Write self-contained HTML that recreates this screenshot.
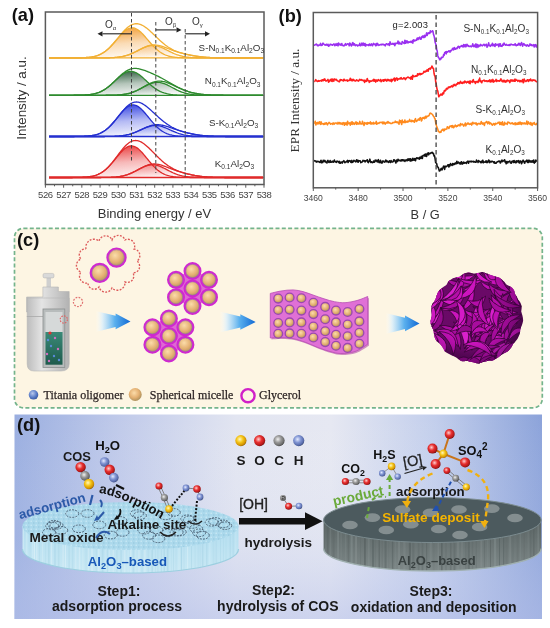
<!DOCTYPE html>
<html><head><meta charset="utf-8"><style>
html,body{margin:0;padding:0;background:#fff;}
body{width:550px;height:628px;position:relative;overflow:hidden;font-family:"Liberation Sans",sans-serif;}
</style></head><body>
<svg width="550" height="628" viewBox="0 0 550 628" style="position:absolute;left:0;top:0;filter:blur(0.3px)">
<defs>
<linearGradient id="fa0" x1="0.3" y1="0" x2="0.6" y2="1"><stop offset="0" stop-color="#f29a2e" stop-opacity="0.95"/><stop offset="0.5" stop-color="#f29a2e" stop-opacity="0.35"/><stop offset="1" stop-color="#f29a2e" stop-opacity="0.02"/></linearGradient>
<linearGradient id="fb0" x1="0.3" y1="0" x2="0.6" y2="1"><stop offset="0" stop-color="#f29a2e" stop-opacity="0.4"/><stop offset="1" stop-color="#f29a2e" stop-opacity="0"/></linearGradient>
<linearGradient id="fa1" x1="0.3" y1="0" x2="0.6" y2="1"><stop offset="0" stop-color="#2a5a3a" stop-opacity="0.95"/><stop offset="0.5" stop-color="#2a5a3a" stop-opacity="0.35"/><stop offset="1" stop-color="#2a5a3a" stop-opacity="0.02"/></linearGradient>
<linearGradient id="fb1" x1="0.3" y1="0" x2="0.6" y2="1"><stop offset="0" stop-color="#2a5a3a" stop-opacity="0.4"/><stop offset="1" stop-color="#2a5a3a" stop-opacity="0"/></linearGradient>
<linearGradient id="fa2" x1="0.3" y1="0" x2="0.6" y2="1"><stop offset="0" stop-color="#2a3ae0" stop-opacity="0.95"/><stop offset="0.5" stop-color="#2a3ae0" stop-opacity="0.35"/><stop offset="1" stop-color="#2a3ae0" stop-opacity="0.02"/></linearGradient>
<linearGradient id="fb2" x1="0.3" y1="0" x2="0.6" y2="1"><stop offset="0" stop-color="#2a3ae0" stop-opacity="0.4"/><stop offset="1" stop-color="#2a3ae0" stop-opacity="0"/></linearGradient>
<linearGradient id="fa3" x1="0.3" y1="0" x2="0.6" y2="1"><stop offset="0" stop-color="#e83535" stop-opacity="0.95"/><stop offset="0.5" stop-color="#e83535" stop-opacity="0.35"/><stop offset="1" stop-color="#e83535" stop-opacity="0.02"/></linearGradient>
<linearGradient id="fb3" x1="0.3" y1="0" x2="0.6" y2="1"><stop offset="0" stop-color="#e83535" stop-opacity="0.4"/><stop offset="1" stop-color="#e83535" stop-opacity="0"/></linearGradient>
</defs>
<path d="M81.83,57.75 L82.74,57.71 L83.66,57.68 L84.57,57.63 L85.48,57.58 L86.39,57.52 L87.30,57.44 L88.21,57.36 L89.12,57.26 L90.03,57.15 L90.94,57.02 L91.85,56.88 L92.76,56.71 L93.67,56.52 L94.59,56.30 L95.50,56.06 L96.41,55.79 L97.32,55.49 L98.23,55.15 L99.14,54.78 L100.05,54.37 L100.96,53.92 L101.87,53.43 L102.78,52.89 L103.69,52.31 L104.60,51.69 L105.51,51.01 L106.43,50.30 L107.34,49.53 L108.25,48.72 L109.16,47.87 L110.07,46.97 L110.98,46.04 L111.89,45.07 L112.80,44.07 L113.71,43.04 L114.62,41.99 L115.53,40.93 L116.44,39.86 L117.36,38.78 L118.27,37.72 L119.18,36.66 L120.09,35.63 L121.00,34.63 L121.91,33.67 L122.82,32.76 L123.73,31.90 L124.64,31.11 L125.55,30.38 L126.46,29.74 L127.38,29.18 L128.29,28.70 L129.20,28.33 L130.11,28.05 L131.02,27.87 L131.93,27.80 L132.84,27.83 L133.75,27.97 L134.66,28.21 L135.57,28.54 L136.48,28.98 L137.39,29.50 L138.31,30.11 L139.22,30.81 L140.13,31.57 L141.04,32.41 L141.95,33.30 L142.86,34.24 L143.77,35.23 L144.68,36.25 L145.59,37.29 L146.50,38.36 L147.41,39.43 L148.32,40.50 L149.24,41.57 L150.15,42.62 L151.06,43.66 L151.97,44.67 L152.88,45.65 L153.79,46.60 L154.70,47.51 L155.61,48.38 L156.52,49.21 L157.43,50.00 L158.34,50.73 L159.25,51.42 L160.16,52.07 L161.08,52.67 L161.99,53.22 L162.90,53.73 L163.81,54.20 L164.72,54.62 L165.63,55.01 L166.54,55.36 L167.45,55.67 L168.36,55.96 L169.27,56.21 L170.18,56.44 L171.09,56.63 L172.01,56.81 L172.92,56.97 L173.83,57.10 L174.74,57.22 L175.65,57.32 L176.56,57.41 L177.47,57.49 L178.38,57.55 L179.29,57.61 L180.20,57.66 L181.11,57.70 L182.03,57.73 L182.94,57.76 L183.85,57.79 L184.76,57.81 L185.67,57.82 L186.58,57.84 L187.49,57.85 L188.40,57.86 L189.31,57.87 L190.22,57.87 L191.13,57.88 L191.13,57.9 L81.83,57.9 Z" fill="url(#fa0)"/>
<path d="M114.62,57.50 L115.48,57.44 L116.34,57.37 L117.19,57.28 L118.05,57.19 L118.90,57.08 L119.76,56.96 L120.62,56.83 L121.47,56.68 L122.33,56.52 L123.19,56.34 L124.04,56.15 L124.90,55.94 L125.75,55.71 L126.61,55.46 L127.47,55.19 L128.32,54.90 L129.18,54.60 L130.03,54.27 L130.89,53.93 L131.75,53.57 L132.60,53.19 L133.46,52.80 L134.32,52.39 L135.17,51.97 L136.03,51.55 L136.88,51.11 L137.74,50.67 L138.60,50.23 L139.45,49.79 L140.31,49.35 L141.17,48.92 L142.02,48.50 L142.88,48.10 L143.73,47.72 L144.59,47.35 L145.45,47.01 L146.30,46.70 L147.16,46.42 L148.01,46.17 L148.87,45.96 L149.73,45.79 L150.58,45.65 L151.44,45.56 L152.30,45.51 L153.15,45.50 L154.01,45.54 L154.86,45.61 L155.72,45.73 L156.58,45.89 L157.43,46.09 L158.29,46.33 L159.14,46.59 L160.00,46.90 L160.86,47.23 L161.71,47.58 L162.57,47.96 L163.43,48.36 L164.28,48.77 L165.14,49.20 L165.99,49.63 L166.85,50.07 L167.71,50.51 L168.56,50.95 L169.42,51.39 L170.28,51.82 L171.13,52.24 L171.99,52.65 L172.84,53.05 L173.70,53.43 L174.56,53.80 L175.41,54.15 L176.27,54.48 L177.12,54.79 L177.98,55.09 L178.84,55.36 L179.69,55.62 L180.55,55.86 L181.41,56.07 L182.26,56.28 L183.12,56.46 L183.97,56.63 L184.83,56.78 L185.69,56.92 L186.54,57.04 L187.40,57.15 L188.26,57.25 L189.11,57.34 L189.97,57.41 L190.82,57.48 L191.68,57.54 L192.54,57.59 L193.39,57.64 L194.25,57.68 L195.10,57.71 L195.96,57.74 L196.82,57.77 L197.67,57.79 L198.53,57.81 L199.39,57.82 L200.24,57.84 L200.24,57.9 L114.62,57.9 Z" fill="url(#fb0)"/>
<path d="M49.04,57.90 L49.94,57.90 L50.83,57.90 L51.72,57.90 L52.61,57.90 L53.50,57.90 L54.39,57.90 L55.29,57.90 L56.18,57.90 L57.07,57.90 L57.96,57.90 L58.85,57.90 L59.75,57.90 L60.64,57.90 L61.53,57.90 L62.42,57.90 L63.31,57.90 L64.20,57.90 L65.10,57.90 L65.99,57.90 L66.88,57.90 L67.77,57.89 L68.66,57.89 L69.56,57.89 L70.45,57.89 L71.34,57.89 L72.23,57.88 L73.12,57.88 L74.02,57.87 L74.91,57.87 L75.80,57.86 L76.69,57.85 L77.58,57.84 L78.47,57.83 L79.37,57.81 L80.26,57.79 L81.15,57.77 L82.04,57.74 L82.93,57.71 L83.83,57.68 L84.72,57.63 L85.61,57.58 L86.50,57.52 L87.39,57.45 L88.29,57.37 L89.18,57.28 L90.07,57.17 L90.96,57.05 L91.85,56.91 L92.74,56.75 L93.64,56.58 L94.53,56.37 L95.42,56.15 L96.31,55.89 L97.20,55.61 L98.10,55.30 L98.99,54.95 L99.88,54.57 L100.77,54.15 L101.66,53.69 L102.55,53.19 L103.45,52.64 L104.34,52.06 L105.23,51.43 L106.12,50.75 L107.01,50.03 L107.91,49.26 L108.80,48.45 L109.69,47.60 L110.58,46.71 L111.47,45.77 L112.37,44.81 L113.26,43.80 L114.15,42.77 L115.04,41.72 L115.93,40.64 L116.82,39.55 L117.72,38.45 L118.61,37.35 L119.50,36.25 L120.39,35.16 L121.28,34.08 L122.18,33.03 L123.07,32.01 L123.96,31.02 L124.85,30.07 L125.74,29.18 L126.63,28.33 L127.53,27.55 L128.42,26.83 L129.31,26.17 L130.20,25.59 L131.09,25.09 L131.99,24.66 L132.88,24.31 L133.77,24.03 L134.66,23.84 L135.55,23.73 L136.45,23.70 L137.34,23.75 L138.23,23.87 L139.12,24.06 L140.01,24.33 L140.90,24.66 L141.80,25.06 L142.69,25.52 L143.58,26.03 L144.47,26.59 L145.36,27.21 L146.26,27.86 L147.15,28.56 L148.04,29.29 L148.93,30.05 L149.82,30.84 L150.72,31.65 L151.61,32.48 L152.50,33.33 L153.39,34.18 L154.28,35.04 L155.17,35.90 L156.07,36.77 L156.96,37.63 L157.85,38.48 L158.74,39.32 L159.63,40.15 L160.53,40.97 L161.42,41.76 L162.31,42.54 L163.20,43.30 L164.09,44.03 L164.98,44.74 L165.88,45.42 L166.77,46.07 L167.66,46.70 L168.55,47.30 L169.44,47.87 L170.34,48.41 L171.23,48.92 L172.12,49.41 L173.01,49.87 L173.90,50.30 L174.80,50.71 L175.69,51.09 L176.58,51.45 L177.47,51.79 L178.36,52.12 L179.25,52.42 L180.15,52.71 L181.04,52.98 L181.93,53.23 L182.82,53.48 L183.71,53.71 L184.61,53.93 L185.50,54.15 L186.39,54.35 L187.28,54.55 L188.17,54.74 L189.06,54.92 L189.96,55.10 L190.85,55.27 L191.74,55.43 L192.63,55.59 L193.52,55.74 L194.42,55.89 L195.31,56.03 L196.20,56.17 L197.09,56.30 L197.98,56.43 L198.88,56.55 L199.77,56.66 L200.66,56.77 L201.55,56.87 L202.44,56.96 L203.33,57.05 L204.23,57.13 L205.12,57.21 L206.01,57.28 L206.90,57.35 L207.79,57.41 L208.69,57.46 L209.58,57.52 L210.47,57.56 L211.36,57.60 L212.25,57.64 L213.15,57.67 L214.04,57.70 L214.93,57.73 L215.82,57.75 L216.71,57.77 L217.60,57.79 L218.50,57.81 L219.39,57.82 L220.28,57.83 L221.17,57.84 L222.06,57.85 L222.96,57.86 L223.85,57.87 L224.74,57.87 L225.63,57.88 L226.52,57.88 L227.41,57.88 L228.31,57.89 L229.20,57.89 L230.09,57.89 L230.98,57.89 L231.87,57.89 L232.77,57.90 L233.66,57.90 L234.55,57.90 L235.44,57.90 L236.33,57.90 L237.23,57.90 L238.12,57.90 L239.01,57.90 L239.90,57.90 L240.79,57.90 L241.68,57.90 L242.58,57.90 L243.47,57.90 L244.36,57.90 L245.25,57.90 L246.14,57.90 L247.04,57.90 L247.93,57.90 L248.82,57.90 L249.71,57.90 L250.60,57.90 L251.50,57.90 L252.39,57.90 L253.28,57.90 L254.17,57.90 L255.06,57.90 L255.95,57.90 L256.85,57.90 L257.74,57.90 L258.63,57.90 L259.52,57.90 L260.41,57.90 L261.31,57.90 L262.20,57.90 L263.09,57.90" fill="none" stroke="#f2b035" stroke-width="1.3"/>
<path d="M49.04,57.90 L49.94,57.90 L50.83,57.90 L51.72,57.90 L52.61,57.90 L53.50,57.90 L54.39,57.90 L55.29,57.90 L56.18,57.90 L57.07,57.90 L57.96,57.90 L58.85,57.90 L59.75,57.90 L60.64,57.90 L61.53,57.90 L62.42,57.90 L63.31,57.90 L64.20,57.90 L65.10,57.90 L65.99,57.90 L66.88,57.90 L67.77,57.89 L68.66,57.89 L69.56,57.89 L70.45,57.89 L71.34,57.89 L72.23,57.88 L73.12,57.88 L74.02,57.87 L74.91,57.87 L75.80,57.86 L76.69,57.85 L77.58,57.84 L78.47,57.83 L79.37,57.81 L80.26,57.79 L81.15,57.77 L82.04,57.74 L82.93,57.71 L83.83,57.67 L84.72,57.62 L85.61,57.57 L86.50,57.51 L87.39,57.44 L88.29,57.35 L89.18,57.26 L90.07,57.15 L90.96,57.02 L91.85,56.88 L92.74,56.71 L93.64,56.53 L94.53,56.32 L95.42,56.08 L96.31,55.82 L97.20,55.53 L98.10,55.20 L98.99,54.85 L99.88,54.45 L100.77,54.02 L101.66,53.55 L102.55,53.03 L103.45,52.48 L104.34,51.87 L105.23,51.23 L106.12,50.54 L107.01,49.81 L107.91,49.03 L108.80,48.21 L109.69,47.35 L110.58,46.45 L111.47,45.52 L112.37,44.55 L113.26,43.56 L114.15,42.54 L115.04,41.51 L115.93,40.46 L116.82,39.41 L117.72,38.36 L118.61,37.32 L119.50,36.30 L120.39,35.30 L121.28,34.33 L122.18,33.40 L123.07,32.52 L123.96,31.70 L124.85,30.93 L125.74,30.24 L126.63,29.62 L127.53,29.09 L128.42,28.64 L129.31,28.29 L130.20,28.03 L131.09,27.86 L131.99,27.80 L132.88,27.84 L133.77,27.97 L134.66,28.21 L135.55,28.53 L136.45,28.96 L137.34,29.47 L138.23,30.06 L139.12,30.73 L140.01,31.47 L140.90,32.28 L141.80,33.15 L142.69,34.06 L143.58,35.02 L144.47,36.01 L145.36,37.03 L146.26,38.07 L147.15,39.12 L148.04,40.17 L148.93,41.21 L149.82,42.25 L150.72,43.27 L151.61,44.28 L152.50,45.25 L153.39,46.19 L154.28,47.10 L155.17,47.97 L156.07,48.80 L156.96,49.59 L157.85,50.34 L158.74,51.04 L159.63,51.70 L160.53,52.31 L161.42,52.88 L162.31,53.41 L163.20,53.89 L164.09,54.33 L164.98,54.74 L165.88,55.11 L166.77,55.44 L167.66,55.74 L168.55,56.01 L169.44,56.25 L170.34,56.47 L171.23,56.66 L172.12,56.83 L173.01,56.98 L173.90,57.11 L174.80,57.23 L175.69,57.33 L176.58,57.41 L177.47,57.49 L178.36,57.55 L179.25,57.61 L180.15,57.66 L181.04,57.70 L181.93,57.73 L182.82,57.76 L183.71,57.78 L184.61,57.80 L185.50,57.82 L186.39,57.84 L187.28,57.85 L188.17,57.86 L189.06,57.87 L189.96,57.87 L190.85,57.88 L191.74,57.88 L192.63,57.89 L193.52,57.89 L194.42,57.89 L195.31,57.89 L196.20,57.89 L197.09,57.90 L197.98,57.90 L198.88,57.90 L199.77,57.90 L200.66,57.90 L201.55,57.90 L202.44,57.90 L203.33,57.90 L204.23,57.90 L205.12,57.90 L206.01,57.90 L206.90,57.90 L207.79,57.90 L208.69,57.90 L209.58,57.90 L210.47,57.90 L211.36,57.90 L212.25,57.90 L213.15,57.90 L214.04,57.90 L214.93,57.90 L215.82,57.90 L216.71,57.90 L217.60,57.90 L218.50,57.90 L219.39,57.90 L220.28,57.90 L221.17,57.90 L222.06,57.90 L222.96,57.90 L223.85,57.90 L224.74,57.90 L225.63,57.90 L226.52,57.90 L227.41,57.90 L228.31,57.90 L229.20,57.90 L230.09,57.90 L230.98,57.90 L231.87,57.90 L232.77,57.90 L233.66,57.90 L234.55,57.90 L235.44,57.90 L236.33,57.90 L237.23,57.90 L238.12,57.90 L239.01,57.90 L239.90,57.90 L240.79,57.90 L241.68,57.90 L242.58,57.90 L243.47,57.90 L244.36,57.90 L245.25,57.90 L246.14,57.90 L247.04,57.90 L247.93,57.90 L248.82,57.90 L249.71,57.90 L250.60,57.90 L251.50,57.90 L252.39,57.90 L253.28,57.90 L254.17,57.90 L255.06,57.90 L255.95,57.90 L256.85,57.90 L257.74,57.90 L258.63,57.90 L259.52,57.90 L260.41,57.90 L261.31,57.90 L262.20,57.90 L263.09,57.90" fill="none" stroke="#f2b035" stroke-width="1.3"/>
<path d="M49.04,57.90 L49.94,57.90 L50.83,57.90 L51.72,57.90 L52.61,57.90 L53.50,57.90 L54.39,57.90 L55.29,57.90 L56.18,57.90 L57.07,57.90 L57.96,57.90 L58.85,57.90 L59.75,57.90 L60.64,57.90 L61.53,57.90 L62.42,57.90 L63.31,57.90 L64.20,57.90 L65.10,57.90 L65.99,57.90 L66.88,57.90 L67.77,57.90 L68.66,57.90 L69.56,57.90 L70.45,57.90 L71.34,57.90 L72.23,57.90 L73.12,57.90 L74.02,57.90 L74.91,57.90 L75.80,57.90 L76.69,57.90 L77.58,57.90 L78.47,57.90 L79.37,57.90 L80.26,57.90 L81.15,57.90 L82.04,57.90 L82.93,57.90 L83.83,57.90 L84.72,57.90 L85.61,57.90 L86.50,57.90 L87.39,57.90 L88.29,57.90 L89.18,57.90 L90.07,57.90 L90.96,57.90 L91.85,57.90 L92.74,57.90 L93.64,57.90 L94.53,57.90 L95.42,57.89 L96.31,57.89 L97.20,57.89 L98.10,57.89 L98.99,57.89 L99.88,57.88 L100.77,57.88 L101.66,57.87 L102.55,57.87 L103.45,57.86 L104.34,57.85 L105.23,57.84 L106.12,57.83 L107.01,57.81 L107.91,57.79 L108.80,57.77 L109.69,57.75 L110.58,57.72 L111.47,57.68 L112.37,57.64 L113.26,57.59 L114.15,57.54 L115.04,57.47 L115.93,57.40 L116.82,57.32 L117.72,57.22 L118.61,57.12 L119.50,57.00 L120.39,56.87 L121.28,56.72 L122.18,56.55 L123.07,56.37 L123.96,56.17 L124.85,55.95 L125.74,55.71 L126.63,55.45 L127.53,55.17 L128.42,54.87 L129.31,54.55 L130.20,54.20 L131.09,53.84 L131.99,53.46 L132.88,53.06 L133.77,52.65 L134.66,52.22 L135.55,51.78 L136.45,51.33 L137.34,50.88 L138.23,50.42 L139.12,49.96 L140.01,49.50 L140.90,49.05 L141.80,48.61 L142.69,48.19 L143.58,47.78 L144.47,47.40 L145.36,47.04 L146.26,46.72 L147.15,46.42 L148.04,46.17 L148.93,45.95 L149.82,45.77 L150.72,45.64 L151.61,45.55 L152.50,45.50 L153.39,45.51 L154.28,45.56 L155.17,45.65 L156.07,45.79 L156.96,45.98 L157.85,46.20 L158.74,46.46 L159.63,46.76 L160.53,47.09 L161.42,47.46 L162.31,47.84 L163.20,48.25 L164.09,48.68 L164.98,49.12 L165.88,49.57 L166.77,50.03 L167.66,50.49 L168.55,50.95 L169.44,51.40 L170.34,51.85 L171.23,52.29 L172.12,52.71 L173.01,53.12 L173.90,53.52 L174.80,53.90 L175.69,54.26 L176.58,54.60 L177.47,54.91 L178.36,55.21 L179.25,55.49 L180.15,55.75 L181.04,55.98 L181.93,56.20 L182.82,56.40 L183.71,56.58 L184.61,56.74 L185.50,56.89 L186.39,57.02 L187.28,57.14 L188.17,57.24 L189.06,57.33 L189.96,57.41 L190.85,57.48 L191.74,57.55 L192.63,57.60 L193.52,57.65 L194.42,57.69 L195.31,57.72 L196.20,57.75 L197.09,57.78 L197.98,57.80 L198.88,57.81 L199.77,57.83 L200.66,57.84 L201.55,57.85 L202.44,57.86 L203.33,57.87 L204.23,57.88 L205.12,57.88 L206.01,57.88 L206.90,57.89 L207.79,57.89 L208.69,57.89 L209.58,57.89 L210.47,57.89 L211.36,57.90 L212.25,57.90 L213.15,57.90 L214.04,57.90 L214.93,57.90 L215.82,57.90 L216.71,57.90 L217.60,57.90 L218.50,57.90 L219.39,57.90 L220.28,57.90 L221.17,57.90 L222.06,57.90 L222.96,57.90 L223.85,57.90 L224.74,57.90 L225.63,57.90 L226.52,57.90 L227.41,57.90 L228.31,57.90 L229.20,57.90 L230.09,57.90 L230.98,57.90 L231.87,57.90 L232.77,57.90 L233.66,57.90 L234.55,57.90 L235.44,57.90 L236.33,57.90 L237.23,57.90 L238.12,57.90 L239.01,57.90 L239.90,57.90 L240.79,57.90 L241.68,57.90 L242.58,57.90 L243.47,57.90 L244.36,57.90 L245.25,57.90 L246.14,57.90 L247.04,57.90 L247.93,57.90 L248.82,57.90 L249.71,57.90 L250.60,57.90 L251.50,57.90 L252.39,57.90 L253.28,57.90 L254.17,57.90 L255.06,57.90 L255.95,57.90 L256.85,57.90 L257.74,57.90 L258.63,57.90 L259.52,57.90 L260.41,57.90 L261.31,57.90 L262.20,57.90 L263.09,57.90" fill="none" stroke="#f2b035" stroke-width="1.3"/>
<path d="M49.04,57.90 L49.94,57.90 L50.83,57.90 L51.72,57.90 L52.61,57.90 L53.50,57.90 L54.39,57.90 L55.29,57.90 L56.18,57.90 L57.07,57.90 L57.96,57.90 L58.85,57.90 L59.75,57.90 L60.64,57.90 L61.53,57.90 L62.42,57.90 L63.31,57.90 L64.20,57.90 L65.10,57.90 L65.99,57.90 L66.88,57.90 L67.77,57.90 L68.66,57.90 L69.56,57.90 L70.45,57.90 L71.34,57.90 L72.23,57.90 L73.12,57.90 L74.02,57.90 L74.91,57.90 L75.80,57.90 L76.69,57.90 L77.58,57.90 L78.47,57.90 L79.37,57.90 L80.26,57.90 L81.15,57.90 L82.04,57.90 L82.93,57.90 L83.83,57.90 L84.72,57.90 L85.61,57.90 L86.50,57.90 L87.39,57.90 L88.29,57.90 L89.18,57.90 L90.07,57.90 L90.96,57.90 L91.85,57.90 L92.74,57.90 L93.64,57.90 L94.53,57.90 L95.42,57.89 L96.31,57.89 L97.20,57.89 L98.10,57.89 L98.99,57.89 L99.88,57.88 L100.77,57.88 L101.66,57.87 L102.55,57.87 L103.45,57.86 L104.34,57.85 L105.23,57.84 L106.12,57.83 L107.01,57.81 L107.91,57.79 L108.80,57.77 L109.69,57.75 L110.58,57.72 L111.47,57.68 L112.37,57.64 L113.26,57.59 L114.15,57.54 L115.04,57.47 L115.93,57.40 L116.82,57.32 L117.72,57.22 L118.61,57.12 L119.50,57.00 L120.39,56.87 L121.28,56.72 L122.18,56.55 L123.07,56.37 L123.96,56.17 L124.85,55.95 L125.74,55.71 L126.63,55.45 L127.53,55.16 L128.42,54.86 L129.31,54.54 L130.20,54.20 L131.09,53.83 L131.99,53.45 L132.88,53.05 L133.77,52.63 L134.66,52.20 L135.55,51.76 L136.45,51.30 L137.34,50.84 L138.23,50.37 L139.12,49.90 L140.01,49.43 L140.90,48.97 L141.80,48.52 L142.69,48.08 L143.58,47.66 L144.47,47.25 L145.36,46.87 L146.26,46.52 L147.15,46.19 L148.04,45.90 L148.93,45.65 L149.82,45.43 L150.72,45.25 L151.61,45.11 L152.50,45.01 L153.39,44.96 L154.28,44.94 L155.17,44.97 L156.07,45.03 L156.96,45.14 L157.85,45.28 L158.74,45.45 L159.63,45.66 L160.53,45.89 L161.42,46.15 L162.31,46.43 L163.20,46.73 L164.09,47.05 L164.98,47.38 L165.88,47.72 L166.77,48.07 L167.66,48.42 L168.55,48.77 L169.44,49.12 L170.34,49.46 L171.23,49.81 L172.12,50.14 L173.01,50.47 L173.90,50.79 L174.80,51.10 L175.69,51.40 L176.58,51.69 L177.47,51.97 L178.36,52.24 L179.25,52.50 L180.15,52.75 L181.04,52.99 L181.93,53.22 L182.82,53.45 L183.71,53.66 L184.61,53.87 L185.50,54.08 L186.39,54.28 L187.28,54.47 L188.17,54.66 L189.06,54.84 L189.96,55.01 L190.85,55.19 L191.74,55.35 L192.63,55.51 L193.52,55.67 L194.42,55.82 L195.31,55.97 L196.20,56.11 L197.09,56.24 L197.98,56.37 L198.88,56.49 L199.77,56.61 L200.66,56.72 L201.55,56.83 L202.44,56.93 L203.33,57.02 L204.23,57.10 L205.12,57.18 L206.01,57.26 L206.90,57.33 L207.79,57.39 L208.69,57.45 L209.58,57.50 L210.47,57.55 L211.36,57.59 L212.25,57.63 L213.15,57.66 L214.04,57.70 L214.93,57.72 L215.82,57.75 L216.71,57.77 L217.60,57.79 L218.50,57.80 L219.39,57.82 L220.28,57.83 L221.17,57.84 L222.06,57.85 L222.96,57.86 L223.85,57.87 L224.74,57.87 L225.63,57.88 L226.52,57.88 L227.41,57.88 L228.31,57.89 L229.20,57.89 L230.09,57.89 L230.98,57.89 L231.87,57.89 L232.77,57.90 L233.66,57.90 L234.55,57.90 L235.44,57.90 L236.33,57.90 L237.23,57.90 L238.12,57.90 L239.01,57.90 L239.90,57.90 L240.79,57.90 L241.68,57.90 L242.58,57.90 L243.47,57.90 L244.36,57.90 L245.25,57.90 L246.14,57.90 L247.04,57.90 L247.93,57.90 L248.82,57.90 L249.71,57.90 L250.60,57.90 L251.50,57.90 L252.39,57.90 L253.28,57.90 L254.17,57.90 L255.06,57.90 L255.95,57.90 L256.85,57.90 L257.74,57.90 L258.63,57.90 L259.52,57.90 L260.41,57.90 L261.31,57.90 L262.20,57.90 L263.09,57.90" fill="none" stroke="#f2b035" stroke-width="1.3"/>
<line x1="49.0" y1="57.9" x2="263.5" y2="57.9" stroke="#f2b035" stroke-width="1.3"/>
<path d="M81.83,95.13 L82.74,95.10 L83.66,95.06 L84.57,95.01 L85.48,94.96 L86.39,94.90 L87.30,94.82 L88.21,94.74 L89.12,94.64 L90.03,94.53 L90.94,94.40 L91.85,94.26 L92.76,94.10 L93.67,93.91 L94.59,93.71 L95.50,93.48 L96.41,93.22 L97.32,92.94 L98.23,92.62 L99.14,92.28 L100.05,91.90 L100.96,91.48 L101.87,91.04 L102.78,90.55 L103.69,90.03 L104.60,89.47 L105.51,88.88 L106.43,88.24 L107.34,87.58 L108.25,86.88 L109.16,86.14 L110.07,85.38 L110.98,84.59 L111.89,83.78 L112.80,82.95 L113.71,82.11 L114.62,81.26 L115.53,80.40 L116.44,79.55 L117.36,78.70 L118.27,77.87 L119.18,77.06 L120.09,76.28 L121.00,75.54 L121.91,74.84 L122.82,74.18 L123.73,73.58 L124.64,73.04 L125.55,72.57 L126.46,72.16 L127.38,71.83 L128.29,71.58 L129.20,71.41 L130.11,71.31 L131.02,71.31 L131.93,71.38 L132.84,71.54 L133.75,71.78 L134.66,72.09 L135.57,72.48 L136.48,72.94 L137.39,73.47 L138.31,74.06 L139.22,74.70 L140.13,75.40 L141.04,76.13 L141.95,76.91 L142.86,77.71 L143.77,78.53 L144.68,79.38 L145.59,80.23 L146.50,81.09 L147.41,81.94 L148.32,82.79 L149.24,83.62 L150.15,84.43 L151.06,85.23 L151.97,85.99 L152.88,86.73 L153.79,87.44 L154.70,88.11 L155.61,88.75 L156.52,89.35 L157.43,89.92 L158.34,90.45 L159.25,90.94 L160.16,91.40 L161.08,91.82 L161.99,92.20 L162.90,92.55 L163.81,92.88 L164.72,93.17 L165.63,93.43 L166.54,93.66 L167.45,93.87 L168.36,94.06 L169.27,94.23 L170.18,94.38 L171.09,94.51 L172.01,94.62 L172.92,94.72 L173.83,94.81 L174.74,94.88 L175.65,94.95 L176.56,95.00 L177.47,95.05 L178.38,95.09 L179.29,95.13 L180.20,95.16 L181.11,95.18 L182.03,95.20 L182.94,95.22 L183.85,95.23 L184.76,95.25 L185.67,95.26 L186.58,95.26 L187.49,95.27 L188.40,95.28 L189.31,95.28 L190.22,95.29 L191.13,95.29 L191.13,95.3 L81.83,95.3 Z" fill="url(#fa1)"/>
<path d="M114.62,95.13 L115.48,95.09 L116.34,95.06 L117.19,95.01 L118.05,94.96 L118.90,94.91 L119.76,94.84 L120.62,94.77 L121.47,94.68 L122.33,94.59 L123.19,94.48 L124.04,94.36 L124.90,94.22 L125.75,94.08 L126.61,93.91 L127.47,93.73 L128.32,93.53 L129.18,93.32 L130.03,93.08 L130.89,92.82 L131.75,92.55 L132.60,92.25 L133.46,91.94 L134.32,91.61 L135.17,91.25 L136.03,90.88 L136.88,90.49 L137.74,90.08 L138.60,89.66 L139.45,89.23 L140.31,88.78 L141.17,88.33 L142.02,87.87 L142.88,87.41 L143.73,86.94 L144.59,86.48 L145.45,86.03 L146.30,85.59 L147.16,85.16 L148.01,84.75 L148.87,84.36 L149.73,84.00 L150.58,83.66 L151.44,83.35 L152.30,83.08 L153.15,82.85 L154.01,82.65 L154.86,82.50 L155.72,82.39 L156.58,82.32 L157.43,82.30 L158.29,82.32 L159.14,82.39 L160.00,82.50 L160.86,82.65 L161.71,82.85 L162.57,83.08 L163.43,83.35 L164.28,83.66 L165.14,84.00 L165.99,84.36 L166.85,84.75 L167.71,85.16 L168.56,85.59 L169.42,86.03 L170.28,86.48 L171.13,86.94 L171.99,87.41 L172.84,87.87 L173.70,88.33 L174.56,88.78 L175.41,89.23 L176.27,89.66 L177.12,90.08 L177.98,90.49 L178.84,90.88 L179.69,91.25 L180.55,91.61 L181.41,91.94 L182.26,92.25 L183.12,92.55 L183.97,92.82 L184.83,93.08 L185.69,93.32 L186.54,93.53 L187.40,93.73 L188.26,93.91 L189.11,94.08 L189.97,94.22 L190.82,94.36 L191.68,94.48 L192.54,94.59 L193.39,94.68 L194.25,94.77 L195.10,94.84 L195.96,94.91 L196.82,94.96 L197.67,95.01 L198.53,95.06 L199.39,95.09 L200.24,95.13 L200.24,95.3 L114.62,95.3 Z" fill="url(#fb1)"/>
<path d="M49.04,95.30 L49.94,95.30 L50.83,95.30 L51.72,95.30 L52.61,95.30 L53.50,95.30 L54.39,95.30 L55.29,95.30 L56.18,95.30 L57.07,95.30 L57.96,95.30 L58.85,95.30 L59.75,95.30 L60.64,95.30 L61.53,95.30 L62.42,95.30 L63.31,95.30 L64.20,95.30 L65.10,95.30 L65.99,95.30 L66.88,95.30 L67.77,95.29 L68.66,95.29 L69.56,95.29 L70.45,95.29 L71.34,95.28 L72.23,95.28 L73.12,95.28 L74.02,95.27 L74.91,95.26 L75.80,95.26 L76.69,95.25 L77.58,95.23 L78.47,95.22 L79.37,95.20 L80.26,95.18 L81.15,95.16 L82.04,95.13 L82.93,95.09 L83.83,95.05 L84.72,95.01 L85.61,94.95 L86.50,94.89 L87.39,94.82 L88.29,94.74 L89.18,94.64 L90.07,94.53 L90.96,94.41 L91.85,94.27 L92.74,94.11 L93.64,93.93 L94.53,93.73 L95.42,93.51 L96.31,93.26 L97.20,92.99 L98.10,92.68 L98.99,92.35 L99.88,91.99 L100.77,91.59 L101.66,91.16 L102.55,90.70 L103.45,90.20 L104.34,89.66 L105.23,89.09 L106.12,88.48 L107.01,87.84 L107.91,87.16 L108.80,86.45 L109.69,85.71 L110.58,84.94 L111.47,84.14 L112.37,83.33 L113.26,82.49 L114.15,81.64 L115.04,80.78 L115.93,79.91 L116.82,79.04 L117.72,78.17 L118.61,77.32 L119.50,76.47 L120.39,75.65 L121.28,74.86 L122.18,74.09 L123.07,73.36 L123.96,72.66 L124.85,72.02 L125.74,71.41 L126.63,70.86 L127.53,70.37 L128.42,69.92 L129.31,69.54 L130.20,69.21 L131.09,68.94 L131.99,68.72 L132.88,68.56 L133.77,68.46 L134.66,68.41 L135.55,68.40 L136.45,68.45 L137.34,68.54 L138.23,68.67 L139.12,68.83 L140.01,69.03 L140.90,69.26 L141.80,69.51 L142.69,69.79 L143.58,70.09 L144.47,70.40 L145.36,70.73 L146.26,71.07 L147.15,71.42 L148.04,71.78 L148.93,72.15 L149.82,72.52 L150.72,72.90 L151.61,73.29 L152.50,73.68 L153.39,74.08 L154.28,74.49 L155.17,74.90 L156.07,75.32 L156.96,75.75 L157.85,76.19 L158.74,76.64 L159.63,77.10 L160.53,77.56 L161.42,78.04 L162.31,78.52 L163.20,79.01 L164.09,79.51 L164.98,80.02 L165.88,80.53 L166.77,81.04 L167.66,81.56 L168.55,82.08 L169.44,82.60 L170.34,83.12 L171.23,83.64 L172.12,84.15 L173.01,84.66 L173.90,85.16 L174.80,85.65 L175.69,86.13 L176.58,86.60 L177.47,87.06 L178.36,87.51 L179.25,87.94 L180.15,88.37 L181.04,88.77 L181.93,89.17 L182.82,89.54 L183.71,89.91 L184.61,90.26 L185.50,90.59 L186.39,90.91 L187.28,91.21 L188.17,91.50 L189.06,91.78 L189.96,92.04 L190.85,92.29 L191.74,92.52 L192.63,92.75 L193.52,92.96 L194.42,93.15 L195.31,93.34 L196.20,93.51 L197.09,93.67 L197.98,93.82 L198.88,93.96 L199.77,94.09 L200.66,94.21 L201.55,94.33 L202.44,94.43 L203.33,94.52 L204.23,94.61 L205.12,94.69 L206.01,94.76 L206.90,94.82 L207.79,94.88 L208.69,94.93 L209.58,94.98 L210.47,95.02 L211.36,95.06 L212.25,95.09 L213.15,95.12 L214.04,95.14 L214.93,95.17 L215.82,95.19 L216.71,95.20 L217.60,95.22 L218.50,95.23 L219.39,95.24 L220.28,95.25 L221.17,95.26 L222.06,95.27 L222.96,95.27 L223.85,95.28 L224.74,95.28 L225.63,95.28 L226.52,95.29 L227.41,95.29 L228.31,95.29 L229.20,95.29 L230.09,95.29 L230.98,95.30 L231.87,95.30 L232.77,95.30 L233.66,95.30 L234.55,95.30 L235.44,95.30 L236.33,95.30 L237.23,95.30 L238.12,95.30 L239.01,95.30 L239.90,95.30 L240.79,95.30 L241.68,95.30 L242.58,95.30 L243.47,95.30 L244.36,95.30 L245.25,95.30 L246.14,95.30 L247.04,95.30 L247.93,95.30 L248.82,95.30 L249.71,95.30 L250.60,95.30 L251.50,95.30 L252.39,95.30 L253.28,95.30 L254.17,95.30 L255.06,95.30 L255.95,95.30 L256.85,95.30 L257.74,95.30 L258.63,95.30 L259.52,95.30 L260.41,95.30 L261.31,95.30 L262.20,95.30 L263.09,95.30" fill="none" stroke="#2f8a2f" stroke-width="1.3"/>
<path d="M49.04,95.30 L49.94,95.30 L50.83,95.30 L51.72,95.30 L52.61,95.30 L53.50,95.30 L54.39,95.30 L55.29,95.30 L56.18,95.30 L57.07,95.30 L57.96,95.30 L58.85,95.30 L59.75,95.30 L60.64,95.30 L61.53,95.30 L62.42,95.30 L63.31,95.30 L64.20,95.30 L65.10,95.30 L65.99,95.30 L66.88,95.30 L67.77,95.29 L68.66,95.29 L69.56,95.29 L70.45,95.29 L71.34,95.28 L72.23,95.28 L73.12,95.28 L74.02,95.27 L74.91,95.26 L75.80,95.25 L76.69,95.24 L77.58,95.23 L78.47,95.22 L79.37,95.20 L80.26,95.18 L81.15,95.16 L82.04,95.13 L82.93,95.09 L83.83,95.05 L84.72,95.01 L85.61,94.95 L86.50,94.89 L87.39,94.82 L88.29,94.73 L89.18,94.64 L90.07,94.53 L90.96,94.40 L91.85,94.26 L92.74,94.10 L93.64,93.92 L94.53,93.72 L95.42,93.50 L96.31,93.25 L97.20,92.97 L98.10,92.67 L98.99,92.34 L99.88,91.97 L100.77,91.57 L101.66,91.14 L102.55,90.68 L103.45,90.17 L104.34,89.64 L105.23,89.07 L106.12,88.46 L107.01,87.82 L107.91,87.14 L108.80,86.44 L109.69,85.70 L110.58,84.94 L111.47,84.16 L112.37,83.35 L113.26,82.53 L114.15,81.70 L115.04,80.86 L115.93,80.03 L116.82,79.19 L117.72,78.37 L118.61,77.57 L119.50,76.78 L120.39,76.03 L121.28,75.32 L122.18,74.64 L123.07,74.01 L123.96,73.44 L124.85,72.93 L125.74,72.48 L126.63,72.09 L127.53,71.78 L128.42,71.55 L129.31,71.39 L130.20,71.31 L131.09,71.31 L131.99,71.39 L132.88,71.55 L133.77,71.78 L134.66,72.09 L135.55,72.47 L136.45,72.92 L137.34,73.43 L138.23,74.01 L139.12,74.63 L140.01,75.31 L140.90,76.02 L141.80,76.77 L142.69,77.56 L143.58,78.36 L144.47,79.18 L145.36,80.02 L146.26,80.85 L147.15,81.69 L148.04,82.52 L148.93,83.34 L149.82,84.15 L150.72,84.93 L151.61,85.69 L152.50,86.43 L153.39,87.13 L154.28,87.81 L155.17,88.45 L156.07,89.06 L156.96,89.63 L157.85,90.17 L158.74,90.67 L159.63,91.14 L160.53,91.57 L161.42,91.97 L162.31,92.33 L163.20,92.66 L164.09,92.97 L164.98,93.25 L165.88,93.49 L166.77,93.72 L167.66,93.92 L168.55,94.10 L169.44,94.26 L170.34,94.40 L171.23,94.53 L172.12,94.63 L173.01,94.73 L173.90,94.81 L174.80,94.89 L175.69,94.95 L176.58,95.00 L177.47,95.05 L178.36,95.09 L179.25,95.13 L180.15,95.15 L181.04,95.18 L181.93,95.20 L182.82,95.22 L183.71,95.23 L184.61,95.24 L185.50,95.25 L186.39,95.26 L187.28,95.27 L188.17,95.28 L189.06,95.28 L189.96,95.28 L190.85,95.29 L191.74,95.29 L192.63,95.29 L193.52,95.29 L194.42,95.30 L195.31,95.30 L196.20,95.30 L197.09,95.30 L197.98,95.30 L198.88,95.30 L199.77,95.30 L200.66,95.30 L201.55,95.30 L202.44,95.30 L203.33,95.30 L204.23,95.30 L205.12,95.30 L206.01,95.30 L206.90,95.30 L207.79,95.30 L208.69,95.30 L209.58,95.30 L210.47,95.30 L211.36,95.30 L212.25,95.30 L213.15,95.30 L214.04,95.30 L214.93,95.30 L215.82,95.30 L216.71,95.30 L217.60,95.30 L218.50,95.30 L219.39,95.30 L220.28,95.30 L221.17,95.30 L222.06,95.30 L222.96,95.30 L223.85,95.30 L224.74,95.30 L225.63,95.30 L226.52,95.30 L227.41,95.30 L228.31,95.30 L229.20,95.30 L230.09,95.30 L230.98,95.30 L231.87,95.30 L232.77,95.30 L233.66,95.30 L234.55,95.30 L235.44,95.30 L236.33,95.30 L237.23,95.30 L238.12,95.30 L239.01,95.30 L239.90,95.30 L240.79,95.30 L241.68,95.30 L242.58,95.30 L243.47,95.30 L244.36,95.30 L245.25,95.30 L246.14,95.30 L247.04,95.30 L247.93,95.30 L248.82,95.30 L249.71,95.30 L250.60,95.30 L251.50,95.30 L252.39,95.30 L253.28,95.30 L254.17,95.30 L255.06,95.30 L255.95,95.30 L256.85,95.30 L257.74,95.30 L258.63,95.30 L259.52,95.30 L260.41,95.30 L261.31,95.30 L262.20,95.30 L263.09,95.30" fill="none" stroke="#2f8a2f" stroke-width="1.3"/>
<path d="M49.04,95.30 L49.94,95.30 L50.83,95.30 L51.72,95.30 L52.61,95.30 L53.50,95.30 L54.39,95.30 L55.29,95.30 L56.18,95.30 L57.07,95.30 L57.96,95.30 L58.85,95.30 L59.75,95.30 L60.64,95.30 L61.53,95.30 L62.42,95.30 L63.31,95.30 L64.20,95.30 L65.10,95.30 L65.99,95.30 L66.88,95.30 L67.77,95.30 L68.66,95.30 L69.56,95.30 L70.45,95.30 L71.34,95.30 L72.23,95.30 L73.12,95.30 L74.02,95.30 L74.91,95.30 L75.80,95.30 L76.69,95.30 L77.58,95.30 L78.47,95.30 L79.37,95.30 L80.26,95.30 L81.15,95.30 L82.04,95.30 L82.93,95.30 L83.83,95.30 L84.72,95.30 L85.61,95.30 L86.50,95.30 L87.39,95.30 L88.29,95.30 L89.18,95.30 L90.07,95.30 L90.96,95.30 L91.85,95.30 L92.74,95.30 L93.64,95.30 L94.53,95.30 L95.42,95.30 L96.31,95.30 L97.20,95.30 L98.10,95.30 L98.99,95.30 L99.88,95.29 L100.77,95.29 L101.66,95.29 L102.55,95.29 L103.45,95.29 L104.34,95.28 L105.23,95.28 L106.12,95.27 L107.01,95.27 L107.91,95.26 L108.80,95.25 L109.69,95.24 L110.58,95.23 L111.47,95.21 L112.37,95.19 L113.26,95.17 L114.15,95.14 L115.04,95.11 L115.93,95.07 L116.82,95.03 L117.72,94.98 L118.61,94.93 L119.50,94.86 L120.39,94.79 L121.28,94.70 L122.18,94.60 L123.07,94.49 L123.96,94.37 L124.85,94.23 L125.74,94.08 L126.63,93.91 L127.53,93.72 L128.42,93.51 L129.31,93.28 L130.20,93.03 L131.09,92.76 L131.99,92.47 L132.88,92.16 L133.77,91.82 L134.66,91.46 L135.55,91.09 L136.45,90.69 L137.34,90.28 L138.23,89.84 L139.12,89.40 L140.01,88.94 L140.90,88.47 L141.80,87.99 L142.69,87.51 L143.58,87.03 L144.47,86.55 L145.36,86.07 L146.26,85.61 L147.15,85.17 L148.04,84.74 L148.93,84.33 L149.82,83.96 L150.72,83.61 L151.61,83.30 L152.50,83.02 L153.39,82.79 L154.28,82.60 L155.17,82.46 L156.07,82.36 L156.96,82.31 L157.85,82.31 L158.74,82.35 L159.63,82.45 L160.53,82.59 L161.42,82.78 L162.31,83.01 L163.20,83.28 L164.09,83.59 L164.98,83.93 L165.88,84.31 L166.77,84.71 L167.66,85.14 L168.55,85.58 L169.44,86.04 L170.34,86.52 L171.23,86.99 L172.12,87.48 L173.01,87.96 L173.90,88.44 L174.80,88.91 L175.69,89.37 L176.58,89.82 L177.47,90.25 L178.36,90.67 L179.25,91.06 L180.15,91.44 L181.04,91.80 L181.93,92.14 L182.82,92.45 L183.71,92.74 L184.61,93.01 L185.50,93.26 L186.39,93.49 L187.28,93.70 L188.17,93.89 L189.06,94.07 L189.96,94.22 L190.85,94.36 L191.74,94.49 L192.63,94.60 L193.52,94.69 L194.42,94.78 L195.31,94.86 L196.20,94.92 L197.09,94.98 L197.98,95.03 L198.88,95.07 L199.77,95.11 L200.66,95.14 L201.55,95.17 L202.44,95.19 L203.33,95.21 L204.23,95.22 L205.12,95.24 L206.01,95.25 L206.90,95.26 L207.79,95.27 L208.69,95.27 L209.58,95.28 L210.47,95.28 L211.36,95.29 L212.25,95.29 L213.15,95.29 L214.04,95.29 L214.93,95.29 L215.82,95.30 L216.71,95.30 L217.60,95.30 L218.50,95.30 L219.39,95.30 L220.28,95.30 L221.17,95.30 L222.06,95.30 L222.96,95.30 L223.85,95.30 L224.74,95.30 L225.63,95.30 L226.52,95.30 L227.41,95.30 L228.31,95.30 L229.20,95.30 L230.09,95.30 L230.98,95.30 L231.87,95.30 L232.77,95.30 L233.66,95.30 L234.55,95.30 L235.44,95.30 L236.33,95.30 L237.23,95.30 L238.12,95.30 L239.01,95.30 L239.90,95.30 L240.79,95.30 L241.68,95.30 L242.58,95.30 L243.47,95.30 L244.36,95.30 L245.25,95.30 L246.14,95.30 L247.04,95.30 L247.93,95.30 L248.82,95.30 L249.71,95.30 L250.60,95.30 L251.50,95.30 L252.39,95.30 L253.28,95.30 L254.17,95.30 L255.06,95.30 L255.95,95.30 L256.85,95.30 L257.74,95.30 L258.63,95.30 L259.52,95.30 L260.41,95.30 L261.31,95.30 L262.20,95.30 L263.09,95.30" fill="none" stroke="#2f8a2f" stroke-width="1.3"/>
<path d="M49.04,95.30 L49.94,95.30 L50.83,95.30 L51.72,95.30 L52.61,95.30 L53.50,95.30 L54.39,95.30 L55.29,95.30 L56.18,95.30 L57.07,95.30 L57.96,95.30 L58.85,95.30 L59.75,95.30 L60.64,95.30 L61.53,95.30 L62.42,95.30 L63.31,95.30 L64.20,95.30 L65.10,95.30 L65.99,95.30 L66.88,95.30 L67.77,95.30 L68.66,95.30 L69.56,95.30 L70.45,95.30 L71.34,95.30 L72.23,95.30 L73.12,95.30 L74.02,95.30 L74.91,95.30 L75.80,95.30 L76.69,95.30 L77.58,95.30 L78.47,95.30 L79.37,95.30 L80.26,95.30 L81.15,95.30 L82.04,95.30 L82.93,95.30 L83.83,95.30 L84.72,95.30 L85.61,95.30 L86.50,95.30 L87.39,95.30 L88.29,95.30 L89.18,95.30 L90.07,95.30 L90.96,95.30 L91.85,95.30 L92.74,95.30 L93.64,95.30 L94.53,95.30 L95.42,95.30 L96.31,95.30 L97.20,95.30 L98.10,95.30 L98.99,95.30 L99.88,95.29 L100.77,95.29 L101.66,95.29 L102.55,95.29 L103.45,95.29 L104.34,95.28 L105.23,95.28 L106.12,95.27 L107.01,95.27 L107.91,95.26 L108.80,95.25 L109.69,95.24 L110.58,95.23 L111.47,95.21 L112.37,95.19 L113.26,95.17 L114.15,95.14 L115.04,95.11 L115.93,95.07 L116.82,95.03 L117.72,94.98 L118.61,94.93 L119.50,94.86 L120.39,94.78 L121.28,94.70 L122.18,94.60 L123.07,94.49 L123.96,94.37 L124.85,94.23 L125.74,94.07 L126.63,93.90 L127.53,93.71 L128.42,93.50 L129.31,93.27 L130.20,93.02 L131.09,92.75 L131.99,92.45 L132.88,92.13 L133.77,91.79 L134.66,91.43 L135.55,91.05 L136.45,90.64 L137.34,90.22 L138.23,89.78 L139.12,89.32 L140.01,88.84 L140.90,88.36 L141.80,87.86 L142.69,87.36 L143.58,86.85 L144.47,86.35 L145.36,85.84 L146.26,85.35 L147.15,84.86 L148.04,84.39 L148.93,83.94 L149.82,83.52 L150.72,83.12 L151.61,82.74 L152.50,82.40 L153.39,82.10 L154.28,81.84 L155.17,81.61 L156.07,81.43 L156.96,81.29 L157.85,81.19 L158.74,81.14 L159.63,81.14 L160.53,81.17 L161.42,81.25 L162.31,81.37 L163.20,81.54 L164.09,81.73 L164.98,81.97 L165.88,82.23 L166.77,82.53 L167.66,82.85 L168.55,83.19 L169.44,83.56 L170.34,83.94 L171.23,84.34 L172.12,84.74 L173.01,85.16 L173.90,85.57 L174.80,86.00 L175.69,86.42 L176.58,86.84 L177.47,87.25 L178.36,87.67 L179.25,88.07 L180.15,88.46 L181.04,88.85 L181.93,89.22 L182.82,89.59 L183.71,89.94 L184.61,90.28 L185.50,90.60 L186.39,90.91 L187.28,91.21 L188.17,91.50 L189.06,91.77 L189.96,92.03 L190.85,92.28 L191.74,92.52 L192.63,92.74 L193.52,92.95 L194.42,93.14 L195.31,93.33 L196.20,93.50 L197.09,93.66 L197.98,93.82 L198.88,93.96 L199.77,94.09 L200.66,94.21 L201.55,94.32 L202.44,94.42 L203.33,94.52 L204.23,94.60 L205.12,94.68 L206.01,94.75 L206.90,94.82 L207.79,94.88 L208.69,94.93 L209.58,94.97 L210.47,95.02 L211.36,95.05 L212.25,95.09 L213.15,95.12 L214.04,95.14 L214.93,95.17 L215.82,95.19 L216.71,95.20 L217.60,95.22 L218.50,95.23 L219.39,95.24 L220.28,95.25 L221.17,95.26 L222.06,95.27 L222.96,95.27 L223.85,95.28 L224.74,95.28 L225.63,95.28 L226.52,95.29 L227.41,95.29 L228.31,95.29 L229.20,95.29 L230.09,95.29 L230.98,95.30 L231.87,95.30 L232.77,95.30 L233.66,95.30 L234.55,95.30 L235.44,95.30 L236.33,95.30 L237.23,95.30 L238.12,95.30 L239.01,95.30 L239.90,95.30 L240.79,95.30 L241.68,95.30 L242.58,95.30 L243.47,95.30 L244.36,95.30 L245.25,95.30 L246.14,95.30 L247.04,95.30 L247.93,95.30 L248.82,95.30 L249.71,95.30 L250.60,95.30 L251.50,95.30 L252.39,95.30 L253.28,95.30 L254.17,95.30 L255.06,95.30 L255.95,95.30 L256.85,95.30 L257.74,95.30 L258.63,95.30 L259.52,95.30 L260.41,95.30 L261.31,95.30 L262.20,95.30 L263.09,95.30" fill="none" stroke="#2f8a2f" stroke-width="1.3"/>
<line x1="49.0" y1="95.3" x2="263.5" y2="95.3" stroke="#2f8a2f" stroke-width="1.3"/>
<path d="M81.83,136.37 L82.74,136.34 L83.66,136.30 L84.57,136.26 L85.48,136.22 L86.39,136.16 L87.30,136.10 L88.21,136.02 L89.12,135.93 L90.03,135.83 L90.94,135.71 L91.85,135.58 L92.76,135.42 L93.67,135.25 L94.59,135.05 L95.50,134.82 L96.41,134.57 L97.32,134.29 L98.23,133.97 L99.14,133.62 L100.05,133.23 L100.96,132.80 L101.87,132.32 L102.78,131.81 L103.69,131.24 L104.60,130.63 L105.51,129.98 L106.43,129.27 L107.34,128.52 L108.25,127.71 L109.16,126.86 L110.07,125.97 L110.98,125.03 L111.89,124.05 L112.80,123.03 L113.71,121.98 L114.62,120.90 L115.53,119.80 L116.44,118.68 L117.36,117.56 L118.27,116.43 L119.18,115.31 L120.09,114.21 L121.00,113.12 L121.91,112.07 L122.82,111.06 L123.73,110.11 L124.64,109.20 L125.55,108.37 L126.46,107.61 L127.38,106.93 L128.29,106.34 L129.20,105.85 L130.11,105.45 L131.02,105.16 L131.93,104.98 L132.84,104.90 L133.75,104.93 L134.66,105.08 L135.57,105.33 L136.48,105.68 L137.39,106.13 L138.31,106.69 L139.22,107.33 L140.13,108.06 L141.04,108.86 L141.95,109.74 L142.86,110.67 L143.77,111.66 L144.68,112.70 L145.59,113.77 L146.50,114.87 L147.41,115.98 L148.32,117.11 L149.24,118.23 L150.15,119.36 L151.06,120.46 L151.97,121.55 L152.88,122.61 L153.79,123.64 L154.70,124.64 L155.61,125.60 L156.52,126.51 L157.43,127.38 L158.34,128.20 L159.25,128.98 L160.16,129.70 L161.08,130.38 L161.99,131.01 L162.90,131.59 L163.81,132.12 L164.72,132.61 L165.63,133.06 L166.54,133.47 L167.45,133.83 L168.36,134.16 L169.27,134.46 L170.18,134.73 L171.09,134.96 L172.01,135.17 L172.92,135.36 L173.83,135.52 L174.74,135.66 L175.65,135.79 L176.56,135.89 L177.47,135.99 L178.38,136.07 L179.29,136.14 L180.20,136.20 L181.11,136.25 L182.03,136.29 L182.94,136.32 L183.85,136.36 L184.76,136.38 L185.67,136.40 L186.58,136.42 L187.49,136.44 L188.40,136.45 L189.31,136.46 L190.22,136.47 L191.13,136.47 L191.13,136.5 L81.83,136.5 Z" fill="url(#fa2)"/>
<path d="M114.62,136.28 L115.48,136.24 L116.34,136.20 L117.19,136.15 L118.05,136.09 L118.90,136.02 L119.76,135.95 L120.62,135.87 L121.47,135.77 L122.33,135.67 L123.19,135.55 L124.04,135.42 L124.90,135.27 L125.75,135.12 L126.61,134.94 L127.47,134.75 L128.32,134.55 L129.18,134.33 L130.03,134.09 L130.89,133.83 L131.75,133.56 L132.60,133.27 L133.46,132.97 L134.32,132.65 L135.17,132.31 L136.03,131.97 L136.88,131.60 L137.74,131.23 L138.60,130.85 L139.45,130.47 L140.31,130.08 L141.17,129.69 L142.02,129.30 L142.88,128.91 L143.73,128.53 L144.59,128.16 L145.45,127.80 L146.30,127.46 L147.16,127.14 L148.01,126.84 L148.87,126.56 L149.73,126.31 L150.58,126.09 L151.44,125.90 L152.30,125.75 L153.15,125.63 L154.01,125.55 L154.86,125.51 L155.72,125.50 L156.58,125.53 L157.43,125.60 L158.29,125.71 L159.14,125.85 L160.00,126.03 L160.86,126.24 L161.71,126.48 L162.57,126.74 L163.43,127.04 L164.28,127.35 L165.14,127.69 L165.99,128.04 L166.85,128.41 L167.71,128.79 L168.56,129.17 L169.42,129.56 L170.28,129.95 L171.13,130.34 L171.99,130.73 L172.84,131.11 L173.70,131.49 L174.56,131.85 L175.41,132.20 L176.27,132.54 L177.12,132.87 L177.98,133.18 L178.84,133.47 L179.69,133.75 L180.55,134.01 L181.41,134.25 L182.26,134.48 L183.12,134.69 L183.97,134.88 L184.83,135.06 L185.69,135.23 L186.54,135.37 L187.40,135.51 L188.26,135.63 L189.11,135.74 L189.97,135.84 L190.82,135.92 L191.68,136.00 L192.54,136.07 L193.39,136.13 L194.25,136.18 L195.10,136.23 L195.96,136.27 L196.82,136.31 L197.67,136.34 L198.53,136.36 L199.39,136.38 L200.24,136.40 L200.24,136.5 L114.62,136.5 Z" fill="url(#fb2)"/>
<path d="M49.04,136.50 L49.94,136.50 L50.83,136.50 L51.72,136.50 L52.61,136.50 L53.50,136.50 L54.39,136.50 L55.29,136.50 L56.18,136.50 L57.07,136.50 L57.96,136.50 L58.85,136.50 L59.75,136.50 L60.64,136.50 L61.53,136.50 L62.42,136.50 L63.31,136.50 L64.20,136.50 L65.10,136.50 L65.99,136.50 L66.88,136.50 L67.77,136.50 L68.66,136.49 L69.56,136.49 L70.45,136.49 L71.34,136.49 L72.23,136.49 L73.12,136.48 L74.02,136.48 L74.91,136.47 L75.80,136.47 L76.69,136.46 L77.58,136.45 L78.47,136.44 L79.37,136.42 L80.26,136.41 L81.15,136.39 L82.04,136.36 L82.93,136.34 L83.83,136.30 L84.72,136.26 L85.61,136.22 L86.50,136.16 L87.39,136.10 L88.29,136.03 L89.18,135.94 L90.07,135.85 L90.96,135.73 L91.85,135.61 L92.74,135.46 L93.64,135.29 L94.53,135.10 L95.42,134.89 L96.31,134.65 L97.20,134.39 L98.10,134.09 L98.99,133.76 L99.88,133.39 L100.77,132.99 L101.66,132.55 L102.55,132.06 L103.45,131.54 L104.34,130.97 L105.23,130.35 L106.12,129.69 L107.01,128.98 L107.91,128.23 L108.80,127.42 L109.69,126.58 L110.58,125.69 L111.47,124.75 L112.37,123.78 L113.26,122.77 L114.15,121.73 L115.04,120.66 L115.93,119.56 L116.82,118.45 L117.72,117.33 L118.61,116.19 L119.50,115.06 L120.39,113.94 L121.28,112.83 L122.18,111.73 L123.07,110.67 L123.96,109.64 L124.85,108.66 L125.74,107.72 L126.63,106.84 L127.53,106.02 L128.42,105.26 L129.31,104.58 L130.20,103.97 L131.09,103.44 L131.99,102.99 L132.88,102.62 L133.77,102.34 L134.66,102.14 L135.55,102.03 L136.45,102.00 L137.34,102.05 L138.23,102.18 L139.12,102.39 L140.01,102.67 L140.90,103.02 L141.80,103.43 L142.69,103.90 L143.58,104.43 L144.47,105.00 L145.36,105.63 L146.26,106.29 L147.15,106.99 L148.04,107.72 L148.93,108.48 L149.82,109.26 L150.72,110.05 L151.61,110.86 L152.50,111.68 L153.39,112.50 L154.28,113.33 L155.17,114.16 L156.07,114.98 L156.96,115.80 L157.85,116.61 L158.74,117.41 L159.63,118.20 L160.53,118.97 L161.42,119.73 L162.31,120.47 L163.20,121.19 L164.09,121.89 L164.98,122.57 L165.88,123.23 L166.77,123.87 L167.66,124.48 L168.55,125.07 L169.44,125.64 L170.34,126.19 L171.23,126.71 L172.12,127.21 L173.01,127.68 L173.90,128.14 L174.80,128.57 L175.69,128.98 L176.58,129.37 L177.47,129.75 L178.36,130.10 L179.25,130.44 L180.15,130.76 L181.04,131.07 L181.93,131.36 L182.82,131.64 L183.71,131.91 L184.61,132.16 L185.50,132.41 L186.39,132.64 L187.28,132.87 L188.17,133.09 L189.06,133.29 L189.96,133.49 L190.85,133.69 L191.74,133.87 L192.63,134.05 L193.52,134.22 L194.42,134.38 L195.31,134.54 L196.20,134.69 L197.09,134.83 L197.98,134.96 L198.88,135.09 L199.77,135.21 L200.66,135.33 L201.55,135.43 L202.44,135.53 L203.33,135.63 L204.23,135.71 L205.12,135.79 L206.01,135.87 L206.90,135.94 L207.79,136.00 L208.69,136.06 L209.58,136.11 L210.47,136.15 L211.36,136.20 L212.25,136.24 L213.15,136.27 L214.04,136.30 L214.93,136.33 L215.82,136.35 L216.71,136.37 L217.60,136.39 L218.50,136.41 L219.39,136.42 L220.28,136.43 L221.17,136.44 L222.06,136.45 L222.96,136.46 L223.85,136.47 L224.74,136.47 L225.63,136.48 L226.52,136.48 L227.41,136.48 L228.31,136.49 L229.20,136.49 L230.09,136.49 L230.98,136.49 L231.87,136.49 L232.77,136.50 L233.66,136.50 L234.55,136.50 L235.44,136.50 L236.33,136.50 L237.23,136.50 L238.12,136.50 L239.01,136.50 L239.90,136.50 L240.79,136.50 L241.68,136.50 L242.58,136.50 L243.47,136.50 L244.36,136.50 L245.25,136.50 L246.14,136.50 L247.04,136.50 L247.93,136.50 L248.82,136.50 L249.71,136.50 L250.60,136.50 L251.50,136.50 L252.39,136.50 L253.28,136.50 L254.17,136.50 L255.06,136.50 L255.95,136.50 L256.85,136.50 L257.74,136.50 L258.63,136.50 L259.52,136.50 L260.41,136.50 L261.31,136.50 L262.20,136.50 L263.09,136.50" fill="none" stroke="#2530d0" stroke-width="1.3"/>
<path d="M49.04,136.50 L49.94,136.50 L50.83,136.50 L51.72,136.50 L52.61,136.50 L53.50,136.50 L54.39,136.50 L55.29,136.50 L56.18,136.50 L57.07,136.50 L57.96,136.50 L58.85,136.50 L59.75,136.50 L60.64,136.50 L61.53,136.50 L62.42,136.50 L63.31,136.50 L64.20,136.50 L65.10,136.50 L65.99,136.50 L66.88,136.50 L67.77,136.50 L68.66,136.49 L69.56,136.49 L70.45,136.49 L71.34,136.49 L72.23,136.49 L73.12,136.48 L74.02,136.48 L74.91,136.47 L75.80,136.47 L76.69,136.46 L77.58,136.45 L78.47,136.44 L79.37,136.42 L80.26,136.40 L81.15,136.38 L82.04,136.36 L82.93,136.33 L83.83,136.30 L84.72,136.26 L85.61,136.21 L86.50,136.15 L87.39,136.09 L88.29,136.01 L89.18,135.93 L90.07,135.83 L90.96,135.71 L91.85,135.58 L92.74,135.43 L93.64,135.26 L94.53,135.06 L95.42,134.84 L96.31,134.60 L97.20,134.32 L98.10,134.02 L98.99,133.68 L99.88,133.30 L100.77,132.89 L101.66,132.44 L102.55,131.94 L103.45,131.40 L104.34,130.82 L105.23,130.19 L106.12,129.51 L107.01,128.79 L107.91,128.02 L108.80,127.21 L109.69,126.35 L110.58,125.44 L111.47,124.50 L112.37,123.52 L113.26,122.51 L114.15,121.47 L115.04,120.40 L115.93,119.31 L116.82,118.22 L117.72,117.11 L118.61,116.01 L119.50,114.92 L120.39,113.84 L121.28,112.79 L122.18,111.78 L123.07,110.80 L123.96,109.87 L124.85,109.01 L125.74,108.21 L126.63,107.48 L127.53,106.83 L128.42,106.27 L129.31,105.79 L130.20,105.42 L131.09,105.14 L131.99,104.97 L132.88,104.90 L133.77,104.94 L134.66,105.08 L135.55,105.32 L136.45,105.66 L137.34,106.10 L138.23,106.64 L139.12,107.26 L140.01,107.96 L140.90,108.74 L141.80,109.59 L142.69,110.49 L143.58,111.45 L144.47,112.46 L145.36,113.50 L146.26,114.57 L147.15,115.66 L148.04,116.76 L148.93,117.86 L149.82,118.96 L150.72,120.05 L151.61,121.12 L152.50,122.17 L153.39,123.20 L154.28,124.19 L155.17,125.14 L156.07,126.06 L156.96,126.93 L157.85,127.76 L158.74,128.55 L159.63,129.28 L160.53,129.97 L161.42,130.62 L162.31,131.22 L163.20,131.77 L164.09,132.28 L164.98,132.75 L165.88,133.17 L166.77,133.56 L167.66,133.91 L168.55,134.23 L169.44,134.51 L170.34,134.77 L171.23,134.99 L172.12,135.20 L173.01,135.37 L173.90,135.53 L174.80,135.67 L175.69,135.79 L176.58,135.90 L177.47,135.99 L178.36,136.07 L179.25,136.13 L180.15,136.19 L181.04,136.24 L181.93,136.28 L182.82,136.32 L183.71,136.35 L184.61,136.38 L185.50,136.40 L186.39,136.42 L187.28,136.43 L188.17,136.44 L189.06,136.45 L189.96,136.46 L190.85,136.47 L191.74,136.48 L192.63,136.48 L193.52,136.48 L194.42,136.49 L195.31,136.49 L196.20,136.49 L197.09,136.49 L197.98,136.50 L198.88,136.50 L199.77,136.50 L200.66,136.50 L201.55,136.50 L202.44,136.50 L203.33,136.50 L204.23,136.50 L205.12,136.50 L206.01,136.50 L206.90,136.50 L207.79,136.50 L208.69,136.50 L209.58,136.50 L210.47,136.50 L211.36,136.50 L212.25,136.50 L213.15,136.50 L214.04,136.50 L214.93,136.50 L215.82,136.50 L216.71,136.50 L217.60,136.50 L218.50,136.50 L219.39,136.50 L220.28,136.50 L221.17,136.50 L222.06,136.50 L222.96,136.50 L223.85,136.50 L224.74,136.50 L225.63,136.50 L226.52,136.50 L227.41,136.50 L228.31,136.50 L229.20,136.50 L230.09,136.50 L230.98,136.50 L231.87,136.50 L232.77,136.50 L233.66,136.50 L234.55,136.50 L235.44,136.50 L236.33,136.50 L237.23,136.50 L238.12,136.50 L239.01,136.50 L239.90,136.50 L240.79,136.50 L241.68,136.50 L242.58,136.50 L243.47,136.50 L244.36,136.50 L245.25,136.50 L246.14,136.50 L247.04,136.50 L247.93,136.50 L248.82,136.50 L249.71,136.50 L250.60,136.50 L251.50,136.50 L252.39,136.50 L253.28,136.50 L254.17,136.50 L255.06,136.50 L255.95,136.50 L256.85,136.50 L257.74,136.50 L258.63,136.50 L259.52,136.50 L260.41,136.50 L261.31,136.50 L262.20,136.50 L263.09,136.50" fill="none" stroke="#2530d0" stroke-width="1.3"/>
<path d="M49.04,136.50 L49.94,136.50 L50.83,136.50 L51.72,136.50 L52.61,136.50 L53.50,136.50 L54.39,136.50 L55.29,136.50 L56.18,136.50 L57.07,136.50 L57.96,136.50 L58.85,136.50 L59.75,136.50 L60.64,136.50 L61.53,136.50 L62.42,136.50 L63.31,136.50 L64.20,136.50 L65.10,136.50 L65.99,136.50 L66.88,136.50 L67.77,136.50 L68.66,136.50 L69.56,136.50 L70.45,136.50 L71.34,136.50 L72.23,136.50 L73.12,136.50 L74.02,136.50 L74.91,136.50 L75.80,136.50 L76.69,136.50 L77.58,136.50 L78.47,136.50 L79.37,136.50 L80.26,136.50 L81.15,136.50 L82.04,136.50 L82.93,136.50 L83.83,136.50 L84.72,136.50 L85.61,136.50 L86.50,136.50 L87.39,136.50 L88.29,136.50 L89.18,136.50 L90.07,136.50 L90.96,136.50 L91.85,136.50 L92.74,136.50 L93.64,136.50 L94.53,136.50 L95.42,136.50 L96.31,136.50 L97.20,136.50 L98.10,136.50 L98.99,136.49 L99.88,136.49 L100.77,136.49 L101.66,136.49 L102.55,136.48 L103.45,136.48 L104.34,136.48 L105.23,136.47 L106.12,136.46 L107.01,136.46 L107.91,136.45 L108.80,136.43 L109.69,136.42 L110.58,136.40 L111.47,136.38 L112.37,136.36 L113.26,136.33 L114.15,136.30 L115.04,136.26 L115.93,136.22 L116.82,136.17 L117.72,136.11 L118.61,136.05 L119.50,135.97 L120.39,135.89 L121.28,135.79 L122.18,135.69 L123.07,135.57 L123.96,135.43 L124.85,135.28 L125.74,135.12 L126.63,134.94 L127.53,134.74 L128.42,134.53 L129.31,134.29 L130.20,134.04 L131.09,133.77 L131.99,133.48 L132.88,133.18 L133.77,132.85 L134.66,132.51 L135.55,132.16 L136.45,131.79 L137.34,131.41 L138.23,131.02 L139.12,130.62 L140.01,130.21 L140.90,129.81 L141.80,129.40 L142.69,128.99 L143.58,128.60 L144.47,128.21 L145.36,127.83 L146.26,127.48 L147.15,127.14 L148.04,126.83 L148.93,126.54 L149.82,126.28 L150.72,126.06 L151.61,125.87 L152.50,125.72 L153.39,125.61 L154.28,125.53 L155.17,125.50 L156.07,125.51 L156.96,125.56 L157.85,125.65 L158.74,125.78 L159.63,125.95 L160.53,126.15 L161.42,126.39 L162.31,126.66 L163.20,126.96 L164.09,127.28 L164.98,127.63 L165.88,127.99 L166.77,128.37 L167.66,128.77 L168.55,129.17 L169.44,129.57 L170.34,129.98 L171.23,130.39 L172.12,130.79 L173.01,131.19 L173.90,131.57 L174.80,131.95 L175.69,132.31 L176.58,132.66 L177.47,133.00 L178.36,133.31 L179.25,133.61 L180.15,133.89 L181.04,134.15 L181.93,134.39 L182.82,134.62 L183.71,134.83 L184.61,135.02 L185.50,135.19 L186.39,135.35 L187.28,135.49 L188.17,135.62 L189.06,135.73 L189.96,135.84 L190.85,135.93 L191.74,136.01 L192.63,136.08 L193.52,136.14 L194.42,136.19 L195.31,136.24 L196.20,136.28 L197.09,136.32 L197.98,136.35 L198.88,136.37 L199.77,136.39 L200.66,136.41 L201.55,136.43 L202.44,136.44 L203.33,136.45 L204.23,136.46 L205.12,136.47 L206.01,136.47 L206.90,136.48 L207.79,136.48 L208.69,136.49 L209.58,136.49 L210.47,136.49 L211.36,136.49 L212.25,136.49 L213.15,136.50 L214.04,136.50 L214.93,136.50 L215.82,136.50 L216.71,136.50 L217.60,136.50 L218.50,136.50 L219.39,136.50 L220.28,136.50 L221.17,136.50 L222.06,136.50 L222.96,136.50 L223.85,136.50 L224.74,136.50 L225.63,136.50 L226.52,136.50 L227.41,136.50 L228.31,136.50 L229.20,136.50 L230.09,136.50 L230.98,136.50 L231.87,136.50 L232.77,136.50 L233.66,136.50 L234.55,136.50 L235.44,136.50 L236.33,136.50 L237.23,136.50 L238.12,136.50 L239.01,136.50 L239.90,136.50 L240.79,136.50 L241.68,136.50 L242.58,136.50 L243.47,136.50 L244.36,136.50 L245.25,136.50 L246.14,136.50 L247.04,136.50 L247.93,136.50 L248.82,136.50 L249.71,136.50 L250.60,136.50 L251.50,136.50 L252.39,136.50 L253.28,136.50 L254.17,136.50 L255.06,136.50 L255.95,136.50 L256.85,136.50 L257.74,136.50 L258.63,136.50 L259.52,136.50 L260.41,136.50 L261.31,136.50 L262.20,136.50 L263.09,136.50" fill="none" stroke="#2530d0" stroke-width="1.3"/>
<path d="M49.04,136.50 L49.94,136.50 L50.83,136.50 L51.72,136.50 L52.61,136.50 L53.50,136.50 L54.39,136.50 L55.29,136.50 L56.18,136.50 L57.07,136.50 L57.96,136.50 L58.85,136.50 L59.75,136.50 L60.64,136.50 L61.53,136.50 L62.42,136.50 L63.31,136.50 L64.20,136.50 L65.10,136.50 L65.99,136.50 L66.88,136.50 L67.77,136.50 L68.66,136.50 L69.56,136.50 L70.45,136.50 L71.34,136.50 L72.23,136.50 L73.12,136.50 L74.02,136.50 L74.91,136.50 L75.80,136.50 L76.69,136.50 L77.58,136.50 L78.47,136.50 L79.37,136.50 L80.26,136.50 L81.15,136.50 L82.04,136.50 L82.93,136.50 L83.83,136.50 L84.72,136.50 L85.61,136.50 L86.50,136.50 L87.39,136.50 L88.29,136.50 L89.18,136.50 L90.07,136.50 L90.96,136.50 L91.85,136.50 L92.74,136.50 L93.64,136.50 L94.53,136.50 L95.42,136.50 L96.31,136.50 L97.20,136.50 L98.10,136.50 L98.99,136.49 L99.88,136.49 L100.77,136.49 L101.66,136.49 L102.55,136.48 L103.45,136.48 L104.34,136.48 L105.23,136.47 L106.12,136.46 L107.01,136.46 L107.91,136.45 L108.80,136.43 L109.69,136.42 L110.58,136.40 L111.47,136.38 L112.37,136.36 L113.26,136.33 L114.15,136.30 L115.04,136.26 L115.93,136.22 L116.82,136.17 L117.72,136.11 L118.61,136.05 L119.50,135.97 L120.39,135.89 L121.28,135.79 L122.18,135.68 L123.07,135.56 L123.96,135.43 L124.85,135.28 L125.74,135.12 L126.63,134.93 L127.53,134.74 L128.42,134.52 L129.31,134.29 L130.20,134.03 L131.09,133.76 L131.99,133.47 L132.88,133.16 L133.77,132.84 L134.66,132.49 L135.55,132.13 L136.45,131.76 L137.34,131.37 L138.23,130.97 L139.12,130.56 L140.01,130.15 L140.90,129.73 L141.80,129.30 L142.69,128.88 L143.58,128.47 L144.47,128.06 L145.36,127.66 L146.26,127.28 L147.15,126.91 L148.04,126.56 L148.93,126.24 L149.82,125.94 L150.72,125.67 L151.61,125.43 L152.50,125.23 L153.39,125.05 L154.28,124.92 L155.17,124.82 L156.07,124.75 L156.96,124.72 L157.85,124.73 L158.74,124.77 L159.63,124.84 L160.53,124.95 L161.42,125.08 L162.31,125.25 L163.20,125.44 L164.09,125.65 L164.98,125.89 L165.88,126.14 L166.77,126.41 L167.66,126.69 L168.55,126.99 L169.44,127.29 L170.34,127.60 L171.23,127.91 L172.12,128.22 L173.01,128.53 L173.90,128.84 L174.80,129.15 L175.69,129.45 L176.58,129.75 L177.47,130.05 L178.36,130.34 L179.25,130.62 L180.15,130.89 L181.04,131.16 L181.93,131.42 L182.82,131.67 L183.71,131.91 L184.61,132.15 L185.50,132.38 L186.39,132.61 L187.28,132.82 L188.17,133.04 L189.06,133.24 L189.96,133.44 L190.85,133.63 L191.74,133.81 L192.63,133.99 L193.52,134.16 L194.42,134.33 L195.31,134.49 L196.20,134.64 L197.09,134.78 L197.98,134.92 L198.88,135.05 L199.77,135.17 L200.66,135.29 L201.55,135.40 L202.44,135.50 L203.33,135.60 L204.23,135.69 L205.12,135.77 L206.01,135.85 L206.90,135.92 L207.79,135.98 L208.69,136.04 L209.58,136.10 L210.47,136.14 L211.36,136.19 L212.25,136.23 L213.15,136.26 L214.04,136.29 L214.93,136.32 L215.82,136.35 L216.71,136.37 L217.60,136.39 L218.50,136.40 L219.39,136.42 L220.28,136.43 L221.17,136.44 L222.06,136.45 L222.96,136.46 L223.85,136.47 L224.74,136.47 L225.63,136.48 L226.52,136.48 L227.41,136.48 L228.31,136.49 L229.20,136.49 L230.09,136.49 L230.98,136.49 L231.87,136.49 L232.77,136.50 L233.66,136.50 L234.55,136.50 L235.44,136.50 L236.33,136.50 L237.23,136.50 L238.12,136.50 L239.01,136.50 L239.90,136.50 L240.79,136.50 L241.68,136.50 L242.58,136.50 L243.47,136.50 L244.36,136.50 L245.25,136.50 L246.14,136.50 L247.04,136.50 L247.93,136.50 L248.82,136.50 L249.71,136.50 L250.60,136.50 L251.50,136.50 L252.39,136.50 L253.28,136.50 L254.17,136.50 L255.06,136.50 L255.95,136.50 L256.85,136.50 L257.74,136.50 L258.63,136.50 L259.52,136.50 L260.41,136.50 L261.31,136.50 L262.20,136.50 L263.09,136.50" fill="none" stroke="#2530d0" stroke-width="1.3"/>
<line x1="49.0" y1="136.5" x2="263.5" y2="136.5" stroke="#2530d0" stroke-width="1.3"/>
<path d="M81.83,177.31 L82.74,177.27 L83.66,177.23 L84.57,177.17 L85.48,177.11 L86.39,177.04 L87.30,176.95 L88.21,176.85 L89.12,176.74 L90.03,176.61 L90.94,176.46 L91.85,176.29 L92.76,176.09 L93.67,175.87 L94.59,175.62 L95.50,175.35 L96.41,175.04 L97.32,174.69 L98.23,174.31 L99.14,173.89 L100.05,173.42 L100.96,172.91 L101.87,172.36 L102.78,171.76 L103.69,171.11 L104.60,170.42 L105.51,169.67 L106.43,168.88 L107.34,168.04 L108.25,167.15 L109.16,166.22 L110.07,165.25 L110.98,164.24 L111.89,163.19 L112.80,162.12 L113.71,161.02 L114.62,159.91 L115.53,158.78 L116.44,157.66 L117.36,156.54 L118.27,155.43 L119.18,154.34 L120.09,153.28 L121.00,152.26 L121.91,151.29 L122.82,150.38 L123.73,149.53 L124.64,148.76 L125.55,148.06 L126.46,147.45 L127.38,146.94 L128.29,146.53 L129.20,146.21 L130.11,146.01 L131.02,145.91 L131.93,145.92 L132.84,146.04 L133.75,146.27 L134.66,146.60 L135.57,147.04 L136.48,147.57 L137.39,148.19 L138.31,148.91 L139.22,149.70 L140.13,150.56 L141.04,151.48 L141.95,152.46 L142.86,153.49 L143.77,154.55 L144.68,155.65 L145.59,156.76 L146.50,157.88 L147.41,159.01 L148.32,160.13 L149.24,161.24 L150.15,162.34 L151.06,163.40 L151.97,164.44 L152.88,165.44 L153.79,166.41 L154.70,167.33 L155.61,168.21 L156.52,169.04 L157.43,169.82 L158.34,170.56 L159.25,171.25 L160.16,171.88 L161.08,172.47 L161.99,173.02 L162.90,173.52 L163.81,173.97 L164.72,174.39 L165.63,174.76 L166.54,175.10 L167.45,175.40 L168.36,175.68 L169.27,175.92 L170.18,176.13 L171.09,176.32 L172.01,176.49 L172.92,176.63 L173.83,176.76 L174.74,176.87 L175.65,176.97 L176.56,177.05 L177.47,177.12 L178.38,177.18 L179.29,177.24 L180.20,177.28 L181.11,177.32 L182.03,177.35 L182.94,177.38 L183.85,177.40 L184.76,177.42 L185.67,177.43 L186.58,177.44 L187.49,177.46 L188.40,177.46 L189.31,177.47 L190.22,177.48 L191.13,177.48 L191.13,177.5 L81.83,177.5 Z" fill="url(#fa3)"/>
<path d="M114.62,177.07 L115.48,177.00 L116.34,176.92 L117.19,176.83 L118.05,176.73 L118.90,176.61 L119.76,176.48 L120.62,176.34 L121.47,176.19 L122.33,176.01 L123.19,175.82 L124.04,175.62 L124.90,175.39 L125.75,175.15 L126.61,174.88 L127.47,174.60 L128.32,174.30 L129.18,173.98 L130.03,173.64 L130.89,173.28 L131.75,172.90 L132.60,172.51 L133.46,172.10 L134.32,171.68 L135.17,171.24 L136.03,170.80 L136.88,170.35 L137.74,169.90 L138.60,169.45 L139.45,169.00 L140.31,168.56 L141.17,168.12 L142.02,167.70 L142.88,167.29 L143.73,166.91 L144.59,166.55 L145.45,166.21 L146.30,165.90 L147.16,165.63 L148.01,165.39 L148.87,165.19 L149.73,165.03 L150.58,164.91 L151.44,164.83 L152.30,164.80 L153.15,164.81 L154.01,164.87 L154.86,164.96 L155.72,165.10 L156.58,165.28 L157.43,165.50 L158.29,165.76 L159.14,166.05 L160.00,166.37 L160.86,166.72 L161.71,167.09 L162.57,167.49 L163.43,167.90 L164.28,168.33 L165.14,168.77 L165.99,169.22 L166.85,169.67 L167.71,170.12 L168.56,170.57 L169.42,171.02 L170.28,171.46 L171.13,171.88 L171.99,172.30 L172.84,172.70 L173.70,173.09 L174.56,173.45 L175.41,173.80 L176.27,174.14 L177.12,174.45 L177.98,174.74 L178.84,175.01 L179.69,175.27 L180.55,175.50 L181.41,175.72 L182.26,175.92 L183.12,176.10 L183.97,176.26 L184.83,176.41 L185.69,176.55 L186.54,176.67 L187.40,176.78 L188.26,176.87 L189.11,176.96 L189.97,177.03 L190.82,177.10 L191.68,177.16 L192.54,177.21 L193.39,177.25 L194.25,177.29 L195.10,177.32 L195.96,177.35 L196.82,177.37 L197.67,177.40 L198.53,177.41 L199.39,177.43 L200.24,177.44 L200.24,177.5 L114.62,177.5 Z" fill="url(#fb3)"/>
<path d="M49.04,177.50 L49.94,177.50 L50.83,177.50 L51.72,177.50 L52.61,177.50 L53.50,177.50 L54.39,177.50 L55.29,177.50 L56.18,177.50 L57.07,177.50 L57.96,177.50 L58.85,177.50 L59.75,177.50 L60.64,177.50 L61.53,177.50 L62.42,177.50 L63.31,177.50 L64.20,177.50 L65.10,177.50 L65.99,177.50 L66.88,177.49 L67.77,177.49 L68.66,177.49 L69.56,177.49 L70.45,177.49 L71.34,177.48 L72.23,177.48 L73.12,177.47 L74.02,177.47 L74.91,177.46 L75.80,177.45 L76.69,177.44 L77.58,177.42 L78.47,177.41 L79.37,177.39 L80.26,177.36 L81.15,177.34 L82.04,177.30 L82.93,177.26 L83.83,177.22 L84.72,177.16 L85.61,177.10 L86.50,177.03 L87.39,176.94 L88.29,176.84 L89.18,176.73 L90.07,176.60 L90.96,176.45 L91.85,176.28 L92.74,176.09 L93.64,175.88 L94.53,175.63 L95.42,175.36 L96.31,175.06 L97.20,174.72 L98.10,174.35 L98.99,173.94 L99.88,173.49 L100.77,173.00 L101.66,172.46 L102.55,171.88 L103.45,171.24 L104.34,170.57 L105.23,169.84 L106.12,169.06 L107.01,168.24 L107.91,167.36 L108.80,166.44 L109.69,165.48 L110.58,164.47 L111.47,163.42 L112.37,162.34 L113.26,161.22 L114.15,160.08 L115.04,158.91 L115.93,157.73 L116.82,156.54 L117.72,155.34 L118.61,154.15 L119.50,152.96 L120.39,151.80 L121.28,150.65 L122.18,149.54 L123.07,148.47 L123.96,147.44 L124.85,146.47 L125.74,145.55 L126.63,144.70 L127.53,143.91 L128.42,143.20 L129.31,142.57 L130.20,142.02 L131.09,141.55 L131.99,141.17 L132.88,140.87 L133.77,140.66 L134.66,140.54 L135.55,140.50 L136.45,140.55 L137.34,140.67 L138.23,140.88 L139.12,141.16 L140.01,141.52 L140.90,141.94 L141.80,142.43 L142.69,142.98 L143.58,143.58 L144.47,144.23 L145.36,144.93 L146.26,145.66 L147.15,146.44 L148.04,147.24 L148.93,148.08 L149.82,148.93 L150.72,149.80 L151.61,150.69 L152.50,151.59 L153.39,152.49 L154.28,153.40 L155.17,154.30 L156.07,155.20 L156.96,156.10 L157.85,156.98 L158.74,157.85 L159.63,158.70 L160.53,159.54 L161.42,160.36 L162.31,161.15 L163.20,161.92 L164.09,162.67 L164.98,163.39 L165.88,164.08 L166.77,164.75 L167.66,165.39 L168.55,166.00 L169.44,166.58 L170.34,167.14 L171.23,167.67 L172.12,168.17 L173.01,168.65 L173.90,169.10 L174.80,169.53 L175.69,169.94 L176.58,170.33 L177.47,170.69 L178.36,171.04 L179.25,171.38 L180.15,171.70 L181.04,172.00 L181.93,172.29 L182.82,172.57 L183.71,172.83 L184.61,173.09 L185.50,173.34 L186.39,173.58 L187.28,173.81 L188.17,174.03 L189.06,174.24 L189.96,174.45 L190.85,174.65 L191.74,174.84 L192.63,175.03 L193.52,175.21 L194.42,175.38 L195.31,175.54 L196.20,175.69 L197.09,175.84 L197.98,175.98 L198.88,176.11 L199.77,176.24 L200.66,176.36 L201.55,176.46 L202.44,176.57 L203.33,176.66 L204.23,176.75 L205.12,176.83 L206.01,176.90 L206.90,176.97 L207.79,177.03 L208.69,177.09 L209.58,177.14 L210.47,177.19 L211.36,177.23 L212.25,177.26 L213.15,177.29 L214.04,177.32 L214.93,177.35 L215.82,177.37 L216.71,177.39 L217.60,177.41 L218.50,177.42 L219.39,177.43 L220.28,177.44 L221.17,177.45 L222.06,177.46 L222.96,177.47 L223.85,177.47 L224.74,177.48 L225.63,177.48 L226.52,177.49 L227.41,177.49 L228.31,177.49 L229.20,177.49 L230.09,177.49 L230.98,177.49 L231.87,177.50 L232.77,177.50 L233.66,177.50 L234.55,177.50 L235.44,177.50 L236.33,177.50 L237.23,177.50 L238.12,177.50 L239.01,177.50 L239.90,177.50 L240.79,177.50 L241.68,177.50 L242.58,177.50 L243.47,177.50 L244.36,177.50 L245.25,177.50 L246.14,177.50 L247.04,177.50 L247.93,177.50 L248.82,177.50 L249.71,177.50 L250.60,177.50 L251.50,177.50 L252.39,177.50 L253.28,177.50 L254.17,177.50 L255.06,177.50 L255.95,177.50 L256.85,177.50 L257.74,177.50 L258.63,177.50 L259.52,177.50 L260.41,177.50 L261.31,177.50 L262.20,177.50 L263.09,177.50" fill="none" stroke="#e02a2a" stroke-width="1.3"/>
<path d="M49.04,177.50 L49.94,177.50 L50.83,177.50 L51.72,177.50 L52.61,177.50 L53.50,177.50 L54.39,177.50 L55.29,177.50 L56.18,177.50 L57.07,177.50 L57.96,177.50 L58.85,177.50 L59.75,177.50 L60.64,177.50 L61.53,177.50 L62.42,177.50 L63.31,177.50 L64.20,177.50 L65.10,177.50 L65.99,177.50 L66.88,177.49 L67.77,177.49 L68.66,177.49 L69.56,177.49 L70.45,177.49 L71.34,177.48 L72.23,177.48 L73.12,177.47 L74.02,177.47 L74.91,177.46 L75.80,177.45 L76.69,177.44 L77.58,177.42 L78.47,177.41 L79.37,177.39 L80.26,177.36 L81.15,177.34 L82.04,177.30 L82.93,177.26 L83.83,177.22 L84.72,177.16 L85.61,177.10 L86.50,177.03 L87.39,176.94 L88.29,176.84 L89.18,176.73 L90.07,176.60 L90.96,176.45 L91.85,176.29 L92.74,176.10 L93.64,175.88 L94.53,175.64 L95.42,175.37 L96.31,175.07 L97.20,174.74 L98.10,174.37 L98.99,173.96 L99.88,173.51 L100.77,173.02 L101.66,172.49 L102.55,171.92 L103.45,171.29 L104.34,170.62 L105.23,169.91 L106.12,169.15 L107.01,168.34 L107.91,167.49 L108.80,166.59 L109.69,165.66 L110.58,164.68 L111.47,163.67 L112.37,162.64 L113.26,161.57 L114.15,160.49 L115.04,159.39 L115.93,158.29 L116.82,157.19 L117.72,156.09 L118.61,155.02 L119.50,153.96 L120.39,152.94 L121.28,151.95 L122.18,151.02 L123.07,150.14 L123.96,149.33 L124.85,148.59 L125.74,147.93 L126.63,147.35 L127.53,146.86 L128.42,146.47 L129.31,146.18 L130.20,145.99 L131.09,145.91 L131.99,145.92 L132.88,146.05 L133.77,146.27 L134.66,146.60 L135.55,147.03 L136.45,147.54 L137.34,148.15 L138.23,148.84 L139.12,149.61 L140.01,150.45 L140.90,151.34 L141.80,152.30 L142.69,153.29 L143.58,154.33 L144.47,155.39 L145.36,156.48 L146.26,157.58 L147.15,158.68 L148.04,159.78 L148.93,160.87 L149.82,161.95 L150.72,163.01 L151.61,164.03 L152.50,165.03 L153.39,165.99 L154.28,166.91 L155.17,167.79 L156.07,168.63 L156.96,169.42 L157.85,170.17 L158.74,170.87 L159.63,171.52 L160.53,172.12 L161.42,172.68 L162.31,173.20 L163.20,173.67 L164.09,174.11 L164.98,174.50 L165.88,174.86 L166.77,175.18 L167.66,175.47 L168.55,175.73 L169.44,175.96 L170.34,176.17 L171.23,176.35 L172.12,176.51 L173.01,176.65 L173.90,176.77 L174.80,176.88 L175.69,176.97 L176.58,177.05 L177.47,177.12 L178.36,177.18 L179.25,177.23 L180.15,177.28 L181.04,177.32 L181.93,177.35 L182.82,177.37 L183.71,177.40 L184.61,177.41 L185.50,177.43 L186.39,177.44 L187.28,177.45 L188.17,177.46 L189.06,177.47 L189.96,177.48 L190.85,177.48 L191.74,177.48 L192.63,177.49 L193.52,177.49 L194.42,177.49 L195.31,177.49 L196.20,177.50 L197.09,177.50 L197.98,177.50 L198.88,177.50 L199.77,177.50 L200.66,177.50 L201.55,177.50 L202.44,177.50 L203.33,177.50 L204.23,177.50 L205.12,177.50 L206.01,177.50 L206.90,177.50 L207.79,177.50 L208.69,177.50 L209.58,177.50 L210.47,177.50 L211.36,177.50 L212.25,177.50 L213.15,177.50 L214.04,177.50 L214.93,177.50 L215.82,177.50 L216.71,177.50 L217.60,177.50 L218.50,177.50 L219.39,177.50 L220.28,177.50 L221.17,177.50 L222.06,177.50 L222.96,177.50 L223.85,177.50 L224.74,177.50 L225.63,177.50 L226.52,177.50 L227.41,177.50 L228.31,177.50 L229.20,177.50 L230.09,177.50 L230.98,177.50 L231.87,177.50 L232.77,177.50 L233.66,177.50 L234.55,177.50 L235.44,177.50 L236.33,177.50 L237.23,177.50 L238.12,177.50 L239.01,177.50 L239.90,177.50 L240.79,177.50 L241.68,177.50 L242.58,177.50 L243.47,177.50 L244.36,177.50 L245.25,177.50 L246.14,177.50 L247.04,177.50 L247.93,177.50 L248.82,177.50 L249.71,177.50 L250.60,177.50 L251.50,177.50 L252.39,177.50 L253.28,177.50 L254.17,177.50 L255.06,177.50 L255.95,177.50 L256.85,177.50 L257.74,177.50 L258.63,177.50 L259.52,177.50 L260.41,177.50 L261.31,177.50 L262.20,177.50 L263.09,177.50" fill="none" stroke="#e02a2a" stroke-width="1.3"/>
<path d="M49.04,177.50 L49.94,177.50 L50.83,177.50 L51.72,177.50 L52.61,177.50 L53.50,177.50 L54.39,177.50 L55.29,177.50 L56.18,177.50 L57.07,177.50 L57.96,177.50 L58.85,177.50 L59.75,177.50 L60.64,177.50 L61.53,177.50 L62.42,177.50 L63.31,177.50 L64.20,177.50 L65.10,177.50 L65.99,177.50 L66.88,177.50 L67.77,177.50 L68.66,177.50 L69.56,177.50 L70.45,177.50 L71.34,177.50 L72.23,177.50 L73.12,177.50 L74.02,177.50 L74.91,177.50 L75.80,177.50 L76.69,177.50 L77.58,177.50 L78.47,177.50 L79.37,177.50 L80.26,177.50 L81.15,177.50 L82.04,177.50 L82.93,177.50 L83.83,177.50 L84.72,177.50 L85.61,177.50 L86.50,177.50 L87.39,177.50 L88.29,177.50 L89.18,177.50 L90.07,177.50 L90.96,177.50 L91.85,177.50 L92.74,177.50 L93.64,177.50 L94.53,177.50 L95.42,177.49 L96.31,177.49 L97.20,177.49 L98.10,177.49 L98.99,177.49 L99.88,177.48 L100.77,177.48 L101.66,177.47 L102.55,177.46 L103.45,177.46 L104.34,177.45 L105.23,177.43 L106.12,177.42 L107.01,177.40 L107.91,177.38 L108.80,177.36 L109.69,177.33 L110.58,177.30 L111.47,177.26 L112.37,177.21 L113.26,177.16 L114.15,177.10 L115.04,177.03 L115.93,176.96 L116.82,176.87 L117.72,176.77 L118.61,176.65 L119.50,176.52 L120.39,176.38 L121.28,176.22 L122.18,176.05 L123.07,175.85 L123.96,175.64 L124.85,175.40 L125.74,175.15 L126.63,174.88 L127.53,174.58 L128.42,174.26 L129.31,173.92 L130.20,173.57 L131.09,173.19 L131.99,172.79 L132.88,172.38 L133.77,171.95 L134.66,171.50 L135.55,171.05 L136.45,170.58 L137.34,170.12 L138.23,169.64 L139.12,169.17 L140.01,168.71 L140.90,168.25 L141.80,167.81 L142.69,167.38 L143.58,166.98 L144.47,166.59 L145.36,166.24 L146.26,165.92 L147.15,165.63 L148.04,165.38 L148.93,165.18 L149.82,165.01 L150.72,164.90 L151.61,164.82 L152.50,164.80 L153.39,164.82 L154.28,164.89 L155.17,165.01 L156.07,165.17 L156.96,165.38 L157.85,165.62 L158.74,165.91 L159.63,166.23 L160.53,166.58 L161.42,166.96 L162.31,167.37 L163.20,167.79 L164.09,168.24 L164.98,168.69 L165.88,169.16 L166.77,169.63 L167.66,170.10 L168.55,170.57 L169.44,171.03 L170.34,171.49 L171.23,171.93 L172.12,172.36 L173.01,172.78 L173.90,173.17 L174.80,173.55 L175.69,173.91 L176.58,174.25 L177.47,174.57 L178.36,174.87 L179.25,175.14 L180.15,175.40 L181.04,175.63 L181.93,175.84 L182.82,176.04 L183.71,176.22 L184.61,176.38 L185.50,176.52 L186.39,176.65 L187.28,176.76 L188.17,176.86 L189.06,176.95 L189.96,177.03 L190.85,177.10 L191.74,177.16 L192.63,177.21 L193.52,177.26 L194.42,177.30 L195.31,177.33 L196.20,177.36 L197.09,177.38 L197.98,177.40 L198.88,177.42 L199.77,177.43 L200.66,177.45 L201.55,177.46 L202.44,177.46 L203.33,177.47 L204.23,177.48 L205.12,177.48 L206.01,177.48 L206.90,177.49 L207.79,177.49 L208.69,177.49 L209.58,177.49 L210.47,177.50 L211.36,177.50 L212.25,177.50 L213.15,177.50 L214.04,177.50 L214.93,177.50 L215.82,177.50 L216.71,177.50 L217.60,177.50 L218.50,177.50 L219.39,177.50 L220.28,177.50 L221.17,177.50 L222.06,177.50 L222.96,177.50 L223.85,177.50 L224.74,177.50 L225.63,177.50 L226.52,177.50 L227.41,177.50 L228.31,177.50 L229.20,177.50 L230.09,177.50 L230.98,177.50 L231.87,177.50 L232.77,177.50 L233.66,177.50 L234.55,177.50 L235.44,177.50 L236.33,177.50 L237.23,177.50 L238.12,177.50 L239.01,177.50 L239.90,177.50 L240.79,177.50 L241.68,177.50 L242.58,177.50 L243.47,177.50 L244.36,177.50 L245.25,177.50 L246.14,177.50 L247.04,177.50 L247.93,177.50 L248.82,177.50 L249.71,177.50 L250.60,177.50 L251.50,177.50 L252.39,177.50 L253.28,177.50 L254.17,177.50 L255.06,177.50 L255.95,177.50 L256.85,177.50 L257.74,177.50 L258.63,177.50 L259.52,177.50 L260.41,177.50 L261.31,177.50 L262.20,177.50 L263.09,177.50" fill="none" stroke="#e02a2a" stroke-width="1.3"/>
<path d="M49.04,177.50 L49.94,177.50 L50.83,177.50 L51.72,177.50 L52.61,177.50 L53.50,177.50 L54.39,177.50 L55.29,177.50 L56.18,177.50 L57.07,177.50 L57.96,177.50 L58.85,177.50 L59.75,177.50 L60.64,177.50 L61.53,177.50 L62.42,177.50 L63.31,177.50 L64.20,177.50 L65.10,177.50 L65.99,177.50 L66.88,177.50 L67.77,177.50 L68.66,177.50 L69.56,177.50 L70.45,177.50 L71.34,177.50 L72.23,177.50 L73.12,177.50 L74.02,177.50 L74.91,177.50 L75.80,177.50 L76.69,177.50 L77.58,177.50 L78.47,177.50 L79.37,177.50 L80.26,177.50 L81.15,177.50 L82.04,177.50 L82.93,177.50 L83.83,177.50 L84.72,177.50 L85.61,177.50 L86.50,177.50 L87.39,177.50 L88.29,177.50 L89.18,177.50 L90.07,177.50 L90.96,177.50 L91.85,177.50 L92.74,177.50 L93.64,177.50 L94.53,177.50 L95.42,177.49 L96.31,177.49 L97.20,177.49 L98.10,177.49 L98.99,177.49 L99.88,177.48 L100.77,177.48 L101.66,177.47 L102.55,177.46 L103.45,177.46 L104.34,177.45 L105.23,177.43 L106.12,177.42 L107.01,177.40 L107.91,177.38 L108.80,177.36 L109.69,177.33 L110.58,177.30 L111.47,177.26 L112.37,177.21 L113.26,177.16 L114.15,177.10 L115.04,177.03 L115.93,176.96 L116.82,176.87 L117.72,176.77 L118.61,176.65 L119.50,176.52 L120.39,176.38 L121.28,176.22 L122.18,176.04 L123.07,175.85 L123.96,175.63 L124.85,175.40 L125.74,175.14 L126.63,174.87 L127.53,174.57 L128.42,174.25 L129.31,173.91 L130.20,173.55 L131.09,173.17 L131.99,172.77 L132.88,172.35 L133.77,171.91 L134.66,171.46 L135.55,171.00 L136.45,170.53 L137.34,170.05 L138.23,169.57 L139.12,169.08 L140.01,168.60 L140.90,168.12 L141.80,167.66 L142.69,167.21 L143.58,166.77 L144.47,166.36 L145.36,165.97 L146.26,165.61 L147.15,165.28 L148.04,164.98 L148.93,164.72 L149.82,164.50 L150.72,164.32 L151.61,164.18 L152.50,164.08 L153.39,164.02 L154.28,164.00 L155.17,164.02 L156.07,164.09 L156.96,164.19 L157.85,164.33 L158.74,164.50 L159.63,164.70 L160.53,164.93 L161.42,165.18 L162.31,165.46 L163.20,165.76 L164.09,166.07 L164.98,166.40 L165.88,166.74 L166.77,167.08 L167.66,167.43 L168.55,167.78 L169.44,168.13 L170.34,168.48 L171.23,168.83 L172.12,169.17 L173.01,169.51 L173.90,169.84 L174.80,170.16 L175.69,170.47 L176.58,170.78 L177.47,171.08 L178.36,171.37 L179.25,171.65 L180.15,171.92 L181.04,172.19 L181.93,172.45 L182.82,172.70 L183.71,172.94 L184.61,173.18 L185.50,173.41 L186.39,173.64 L187.28,173.86 L188.17,174.07 L189.06,174.28 L189.96,174.48 L190.85,174.67 L191.74,174.86 L192.63,175.04 L193.52,175.22 L194.42,175.39 L195.31,175.55 L196.20,175.70 L197.09,175.85 L197.98,175.99 L198.88,176.12 L199.77,176.24 L200.66,176.36 L201.55,176.47 L202.44,176.57 L203.33,176.66 L204.23,176.75 L205.12,176.83 L206.01,176.90 L206.90,176.97 L207.79,177.03 L208.69,177.09 L209.58,177.14 L210.47,177.19 L211.36,177.23 L212.25,177.26 L213.15,177.29 L214.04,177.32 L214.93,177.35 L215.82,177.37 L216.71,177.39 L217.60,177.41 L218.50,177.42 L219.39,177.43 L220.28,177.44 L221.17,177.45 L222.06,177.46 L222.96,177.47 L223.85,177.47 L224.74,177.48 L225.63,177.48 L226.52,177.49 L227.41,177.49 L228.31,177.49 L229.20,177.49 L230.09,177.49 L230.98,177.49 L231.87,177.50 L232.77,177.50 L233.66,177.50 L234.55,177.50 L235.44,177.50 L236.33,177.50 L237.23,177.50 L238.12,177.50 L239.01,177.50 L239.90,177.50 L240.79,177.50 L241.68,177.50 L242.58,177.50 L243.47,177.50 L244.36,177.50 L245.25,177.50 L246.14,177.50 L247.04,177.50 L247.93,177.50 L248.82,177.50 L249.71,177.50 L250.60,177.50 L251.50,177.50 L252.39,177.50 L253.28,177.50 L254.17,177.50 L255.06,177.50 L255.95,177.50 L256.85,177.50 L257.74,177.50 L258.63,177.50 L259.52,177.50 L260.41,177.50 L261.31,177.50 L262.20,177.50 L263.09,177.50" fill="none" stroke="#e02a2a" stroke-width="1.3"/>
<line x1="49.0" y1="177.5" x2="263.5" y2="177.5" stroke="#e02a2a" stroke-width="1.3"/>
<line x1="131.5" y1="13" x2="131.5" y2="161" stroke="#444" stroke-width="1" stroke-dasharray="3.5,2.5"/>
<line x1="155.8" y1="22" x2="155.8" y2="173" stroke="#444" stroke-width="1" stroke-dasharray="3.5,2.5"/>
<line x1="185.2" y1="29" x2="185.2" y2="178" stroke="#444" stroke-width="1" stroke-dasharray="3.5,2.5"/>
<line x1="131.5" y1="33.8" x2="102.50" y2="33.80" stroke="#222" stroke-width="1.1"/>
<path d="M97.5,33.8 L102.50,31.20 L102.50,36.40 Z" fill="#222"/>
<line x1="155.8" y1="29.9" x2="156" y2="29.9" stroke="#222"/>
<line x1="155.8" y1="29.9" x2="176.50" y2="29.90" stroke="#222" stroke-width="1.1"/>
<path d="M181.5,29.9 L176.50,32.50 L176.50,27.30 Z" fill="#222"/>
<line x1="185.2" y1="33.8" x2="205.00" y2="33.80" stroke="#222" stroke-width="1.1"/>
<path d="M210,33.8 L205.00,36.40 L205.00,31.20 Z" fill="#222"/>
<text x="105" y="28.4" font-family='"Liberation Sans", sans-serif' font-size="10" fill="#333">O<tspan font-size="6" dy="2">α</tspan></text>
<text x="165" y="25" font-family='"Liberation Sans", sans-serif' font-size="10" fill="#333">O<tspan font-size="6" dy="2">β</tspan></text>
<text x="192" y="25" font-family='"Liberation Sans", sans-serif' font-size="10" fill="#333">O<tspan font-size="6" dy="2">γ</tspan></text>
<rect x="45.4" y="12.0" width="218.6" height="172.5" fill="none" stroke="#5a5a5a" stroke-width="1.5"/>
<line x1="45.40" y1="184.5" x2="45.40" y2="187.7" stroke="#5a5a5a" stroke-width="1"/>
<line x1="54.51" y1="184.5" x2="54.51" y2="186.3" stroke="#5a5a5a" stroke-width="1"/>
<line x1="63.62" y1="184.5" x2="63.62" y2="187.7" stroke="#5a5a5a" stroke-width="1"/>
<line x1="72.72" y1="184.5" x2="72.72" y2="186.3" stroke="#5a5a5a" stroke-width="1"/>
<line x1="81.83" y1="184.5" x2="81.83" y2="187.7" stroke="#5a5a5a" stroke-width="1"/>
<line x1="90.94" y1="184.5" x2="90.94" y2="186.3" stroke="#5a5a5a" stroke-width="1"/>
<line x1="100.05" y1="184.5" x2="100.05" y2="187.7" stroke="#5a5a5a" stroke-width="1"/>
<line x1="109.16" y1="184.5" x2="109.16" y2="186.3" stroke="#5a5a5a" stroke-width="1"/>
<line x1="118.27" y1="184.5" x2="118.27" y2="187.7" stroke="#5a5a5a" stroke-width="1"/>
<line x1="127.38" y1="184.5" x2="127.38" y2="186.3" stroke="#5a5a5a" stroke-width="1"/>
<line x1="136.48" y1="184.5" x2="136.48" y2="187.7" stroke="#5a5a5a" stroke-width="1"/>
<line x1="145.59" y1="184.5" x2="145.59" y2="186.3" stroke="#5a5a5a" stroke-width="1"/>
<line x1="154.70" y1="184.5" x2="154.70" y2="187.7" stroke="#5a5a5a" stroke-width="1"/>
<line x1="163.81" y1="184.5" x2="163.81" y2="186.3" stroke="#5a5a5a" stroke-width="1"/>
<line x1="172.92" y1="184.5" x2="172.92" y2="187.7" stroke="#5a5a5a" stroke-width="1"/>
<line x1="182.03" y1="184.5" x2="182.03" y2="186.3" stroke="#5a5a5a" stroke-width="1"/>
<line x1="191.13" y1="184.5" x2="191.13" y2="187.7" stroke="#5a5a5a" stroke-width="1"/>
<line x1="200.24" y1="184.5" x2="200.24" y2="186.3" stroke="#5a5a5a" stroke-width="1"/>
<line x1="209.35" y1="184.5" x2="209.35" y2="187.7" stroke="#5a5a5a" stroke-width="1"/>
<line x1="218.46" y1="184.5" x2="218.46" y2="186.3" stroke="#5a5a5a" stroke-width="1"/>
<line x1="227.57" y1="184.5" x2="227.57" y2="187.7" stroke="#5a5a5a" stroke-width="1"/>
<line x1="236.67" y1="184.5" x2="236.67" y2="186.3" stroke="#5a5a5a" stroke-width="1"/>
<line x1="245.78" y1="184.5" x2="245.78" y2="187.7" stroke="#5a5a5a" stroke-width="1"/>
<line x1="254.89" y1="184.5" x2="254.89" y2="186.3" stroke="#5a5a5a" stroke-width="1"/>
<line x1="264.00" y1="184.5" x2="264.00" y2="187.7" stroke="#5a5a5a" stroke-width="1"/>
<text x="45.40" y="197.7" font-family='"Liberation Sans", sans-serif' font-size="9.5" fill="#444" text-anchor="middle" letter-spacing="-0.4">526</text>
<text x="63.62" y="197.7" font-family='"Liberation Sans", sans-serif' font-size="9.5" fill="#444" text-anchor="middle" letter-spacing="-0.4">527</text>
<text x="81.83" y="197.7" font-family='"Liberation Sans", sans-serif' font-size="9.5" fill="#444" text-anchor="middle" letter-spacing="-0.4">528</text>
<text x="100.05" y="197.7" font-family='"Liberation Sans", sans-serif' font-size="9.5" fill="#444" text-anchor="middle" letter-spacing="-0.4">529</text>
<text x="118.27" y="197.7" font-family='"Liberation Sans", sans-serif' font-size="9.5" fill="#444" text-anchor="middle" letter-spacing="-0.4">530</text>
<text x="136.48" y="197.7" font-family='"Liberation Sans", sans-serif' font-size="9.5" fill="#444" text-anchor="middle" letter-spacing="-0.4">531</text>
<text x="154.70" y="197.7" font-family='"Liberation Sans", sans-serif' font-size="9.5" fill="#444" text-anchor="middle" letter-spacing="-0.4">532</text>
<text x="172.92" y="197.7" font-family='"Liberation Sans", sans-serif' font-size="9.5" fill="#444" text-anchor="middle" letter-spacing="-0.4">533</text>
<text x="191.13" y="197.7" font-family='"Liberation Sans", sans-serif' font-size="9.5" fill="#444" text-anchor="middle" letter-spacing="-0.4">534</text>
<text x="209.35" y="197.7" font-family='"Liberation Sans", sans-serif' font-size="9.5" fill="#444" text-anchor="middle" letter-spacing="-0.4">535</text>
<text x="227.57" y="197.7" font-family='"Liberation Sans", sans-serif' font-size="9.5" fill="#444" text-anchor="middle" letter-spacing="-0.4">536</text>
<text x="245.78" y="197.7" font-family='"Liberation Sans", sans-serif' font-size="9.5" fill="#444" text-anchor="middle" letter-spacing="-0.4">537</text>
<text x="264.00" y="197.7" font-family='"Liberation Sans", sans-serif' font-size="9.5" fill="#444" text-anchor="middle" letter-spacing="-0.4">538</text>
<text x="154.5" y="218.2" font-family='"Liberation Sans", sans-serif' font-size="13" fill="#333" text-anchor="middle">Binding energy / eV</text>
<text transform="translate(26.0,98) rotate(-90)" font-family='"Liberation Sans", sans-serif' font-size="13.4" fill="#333" text-anchor="middle">Intensity / a.u.</text>
<text x="11.8" y="20.8" font-family='"Liberation Sans", sans-serif' font-size="18.2" font-weight="bold" fill="#111">(a)</text>
<text x="198.6" y="50.9" font-family='"Liberation Sans", sans-serif' font-size="9.8" fill="#333" text-anchor="start"><tspan dy="0.0">S-N</tspan><tspan font-size="6.6" dy="2.2">0.1</tspan><tspan dy="-2.2">K</tspan><tspan font-size="6.6" dy="2.2">0.1</tspan><tspan dy="-2.2">Al</tspan><tspan font-size="6.6" dy="2.2">2</tspan><tspan dy="-2.2">O</tspan><tspan font-size="6.6" dy="2.2">3</tspan></text>
<text x="204.8" y="84.4" font-family='"Liberation Sans", sans-serif' font-size="9.8" fill="#333" text-anchor="start"><tspan dy="0.0">N</tspan><tspan font-size="6.6" dy="2.2">0.1</tspan><tspan dy="-2.2">K</tspan><tspan font-size="6.6" dy="2.2">0.1</tspan><tspan dy="-2.2">Al</tspan><tspan font-size="6.6" dy="2.2">2</tspan><tspan dy="-2.2">O</tspan><tspan font-size="6.6" dy="2.2">3</tspan></text>
<text x="209" y="125.9" font-family='"Liberation Sans", sans-serif' font-size="9.8" fill="#333" text-anchor="start"><tspan dy="0.0">S-K</tspan><tspan font-size="6.6" dy="2.2">0.1</tspan><tspan dy="-2.2">Al</tspan><tspan font-size="6.6" dy="2.2">2</tspan><tspan dy="-2.2">O</tspan><tspan font-size="6.6" dy="2.2">3</tspan></text>
<text x="214.7" y="166.8" font-family='"Liberation Sans", sans-serif' font-size="9.8" fill="#333" text-anchor="start"><tspan dy="0.0">K</tspan><tspan font-size="6.6" dy="2.2">0.1</tspan><tspan dy="-2.2">Al</tspan><tspan font-size="6.6" dy="2.2">2</tspan><tspan dy="-2.2">O</tspan><tspan font-size="6.6" dy="2.2">3</tspan></text>
<path d="M314.20,44.58 L314.73,45.23 L315.26,44.60 L315.79,44.53 L316.32,44.00 L316.85,44.61 L317.38,45.74 L317.91,45.15 L318.44,45.68 L318.97,45.01 L319.50,45.13 L320.03,44.95 L320.56,43.38 L321.09,45.52 L321.62,45.22 L322.15,45.22 L322.68,43.35 L323.21,43.31 L323.74,44.04 L324.27,44.39 L324.80,45.05 L325.33,44.75 L325.86,45.23 L326.39,44.24 L326.92,45.05 L327.45,45.12 L327.99,44.23 L328.52,46.25 L329.05,45.26 L329.58,45.80 L330.11,44.26 L330.64,44.16 L331.17,44.49 L331.70,44.69 L332.23,45.32 L332.76,44.99 L333.29,44.40 L333.82,43.97 L334.35,44.34 L334.88,45.82 L335.41,44.09 L335.94,44.99 L336.47,45.14 L337.00,43.51 L337.53,44.82 L338.06,45.89 L338.59,43.06 L339.12,44.50 L339.65,44.68 L340.18,44.08 L340.71,45.19 L341.24,44.72 L341.77,43.52 L342.30,45.47 L342.83,45.34 L343.36,45.57 L343.89,45.99 L344.42,45.07 L344.96,44.86 L345.49,43.66 L346.02,45.28 L346.55,44.24 L347.08,44.37 L347.61,43.68 L348.14,43.93 L348.67,44.30 L349.20,45.85 L349.73,43.02 L350.26,43.51 L350.79,44.95 L351.32,45.97 L351.85,45.23 L352.38,43.12 L352.91,42.59 L353.44,45.04 L353.97,44.10 L354.50,43.78 L355.03,45.56 L355.56,45.66 L356.09,44.85 L356.62,44.92 L357.15,45.08 L357.68,46.06 L358.21,45.23 L358.74,45.14 L359.27,45.16 L359.80,43.36 L360.33,45.78 L360.86,45.50 L361.39,45.13 L361.93,43.00 L362.46,44.14 L362.99,45.39 L363.52,43.13 L364.05,44.50 L364.58,45.52 L365.11,43.54 L365.64,46.01 L366.17,45.11 L366.70,44.50 L367.23,44.90 L367.76,45.17 L368.29,44.72 L368.82,45.58 L369.35,44.04 L369.88,44.24 L370.41,45.47 L370.94,44.60 L371.47,43.82 L372.00,45.36 L372.53,45.80 L373.06,44.16 L373.59,43.36 L374.12,44.41 L374.65,44.38 L375.18,44.25 L375.71,45.68 L376.24,43.60 L376.77,45.54 L377.30,43.38 L377.83,43.77 L378.36,44.96 L378.89,45.37 L379.43,45.13 L379.96,44.68 L380.49,44.49 L381.02,44.48 L381.55,44.83 L382.08,44.17 L382.61,44.54 L383.14,44.77 L383.67,44.26 L384.20,44.89 L384.73,44.70 L385.26,45.91 L385.79,44.46 L386.32,43.79 L386.85,43.82 L387.38,44.10 L387.91,44.87 L388.44,43.77 L388.97,44.36 L389.50,45.56 L390.03,41.79 L390.56,42.98 L391.09,44.11 L391.62,44.21 L392.15,44.04 L392.68,43.44 L393.21,44.32 L393.74,43.97 L394.27,43.25 L394.80,45.71 L395.33,43.91 L395.86,43.09 L396.40,43.43 L396.93,43.28 L397.46,43.37 L397.99,41.05 L398.52,42.90 L399.05,44.12 L399.58,42.21 L400.11,43.09 L400.64,43.89 L401.17,43.75 L401.70,44.22 L402.23,41.44 L402.76,42.51 L403.29,42.45 L403.82,43.19 L404.35,43.51 L404.88,40.22 L405.41,43.34 L405.94,41.10 L406.47,42.82 L407.00,40.87 L407.53,42.19 L408.06,42.96 L408.59,41.71 L409.12,41.89 L409.65,42.29 L410.18,41.61 L410.71,41.29 L411.24,42.55 L411.77,42.00 L412.30,40.72 L412.83,43.17 L413.37,39.71 L413.90,41.31 L414.43,40.15 L414.96,40.32 L415.49,40.64 L416.02,40.05 L416.55,40.23 L417.08,38.19 L417.61,38.01 L418.14,39.61 L418.67,38.06 L419.20,37.79 L419.73,37.18 L420.26,39.27 L420.79,38.59 L421.32,38.95 L421.85,36.64 L422.38,37.17 L422.91,35.91 L423.44,37.24 L423.97,37.63 L424.50,35.21 L425.03,36.97 L425.56,36.14 L426.09,34.80 L426.62,32.91 L427.15,35.40 L427.68,33.73 L428.21,32.90 L428.74,33.33 L429.27,32.90 L429.80,33.37 L430.33,30.76 L430.87,32.10 L431.40,31.89 L431.93,31.58 L432.46,30.72 L432.99,31.36 L433.52,34.53 L434.05,35.90 L434.58,38.43 L435.11,42.33 L435.64,43.84 L436.17,45.10 L436.70,49.61 L437.23,51.03 L437.76,55.64 L438.29,57.12 L438.82,57.73 L439.35,59.07 L439.88,59.91 L440.41,58.60 L440.94,59.03 L441.47,57.25 L442.00,57.61 L442.53,57.44 L443.06,57.01 L443.59,54.57 L444.12,55.41 L444.65,52.62 L445.18,52.86 L445.71,51.69 L446.24,53.87 L446.77,51.54 L447.30,52.22 L447.84,51.72 L448.37,51.53 L448.90,50.74 L449.43,51.15 L449.96,52.19 L450.49,50.43 L451.02,50.59 L451.55,50.74 L452.08,49.49 L452.61,48.36 L453.14,48.74 L453.67,49.92 L454.20,47.42 L454.73,48.12 L455.26,49.31 L455.79,48.96 L456.32,48.13 L456.85,48.66 L457.38,47.97 L457.91,46.68 L458.44,46.22 L458.97,46.88 L459.50,48.09 L460.03,46.71 L460.56,46.31 L461.09,46.32 L461.62,45.57 L462.15,46.68 L462.68,45.68 L463.21,46.91 L463.74,44.51 L464.27,46.71 L464.81,45.82 L465.34,44.64 L465.87,46.84 L466.40,45.92 L466.93,44.20 L467.46,45.29 L467.99,46.22 L468.52,45.53 L469.05,46.53 L469.58,46.46 L470.11,46.34 L470.64,46.01 L471.17,46.82 L471.70,46.20 L472.23,45.99 L472.76,43.80 L473.29,46.29 L473.82,46.61 L474.35,45.21 L474.88,45.04 L475.41,47.06 L475.94,43.88 L476.47,45.75 L477.00,47.39 L477.53,44.51 L478.06,45.86 L478.59,46.86 L479.12,45.13 L479.65,45.69 L480.18,45.96 L480.71,44.41 L481.24,45.08 L481.77,45.39 L482.31,45.83 L482.84,45.08 L483.37,44.93 L483.90,44.22 L484.43,44.77 L484.96,45.82 L485.49,45.13 L486.02,44.31 L486.55,44.31 L487.08,47.28 L487.61,45.97 L488.14,45.54 L488.67,42.78 L489.20,45.51 L489.73,45.38 L490.26,46.39 L490.79,45.32 L491.32,44.89 L491.85,45.38 L492.38,43.28 L492.91,45.81 L493.44,45.20 L493.97,44.32 L494.50,46.04 L495.03,46.44 L495.56,43.71 L496.09,44.33 L496.62,45.14 L497.15,45.04 L497.68,44.54 L498.21,44.05 L498.74,46.68 L499.28,45.75 L499.81,43.85 L500.34,43.72 L500.87,46.31 L501.40,45.70 L501.93,46.40 L502.46,45.54 L502.99,44.11 L503.52,45.07 L504.05,43.01 L504.58,44.21 L505.11,44.79 L505.64,45.29 L506.17,44.22 L506.70,44.73 L507.23,45.23 L507.76,45.15 L508.29,45.37 L508.82,45.01 L509.35,44.55 L509.88,45.50 L510.41,44.87 L510.94,44.12 L511.47,44.29 L512.00,44.82 L512.53,44.73 L513.06,44.95 L513.59,44.82 L514.12,44.97 L514.65,44.70 L515.18,43.75 L515.71,45.17 L516.25,45.71 L516.78,45.18 L517.31,44.65 L517.84,45.19 L518.37,43.99 L518.90,43.20 L519.43,44.86 L519.96,44.02 L520.49,45.44 L521.02,43.89 L521.55,42.58 L522.08,43.93 L522.61,46.15 L523.14,44.48 L523.67,43.64 L524.20,44.16 L524.73,45.25 L525.26,45.23 L525.79,44.96 L526.32,46.07 L526.85,45.41 L527.38,44.79 L527.91,45.31 L528.44,46.21 L528.97,45.63 L529.50,45.68 L530.03,43.88 L530.56,44.68 L531.09,45.42 L531.62,44.55 L532.15,45.71 L532.68,45.31 L533.21,45.58 L533.75,44.62 L534.28,46.97 L534.81,45.86 L535.34,44.62 L535.87,44.88 L536.40,47.01 L536.93,44.51" fill="none" stroke="#9a30f0" stroke-width="1.55" stroke-linejoin="round"/>
<path d="M314.20,81.34 L314.73,81.43 L315.26,80.60 L315.79,79.60 L316.32,80.75 L316.85,80.90 L317.38,81.55 L317.91,81.26 L318.44,80.61 L318.97,81.32 L319.50,81.05 L320.03,80.77 L320.56,80.64 L321.09,80.39 L321.62,81.18 L322.15,79.70 L322.68,80.06 L323.21,80.60 L323.74,79.35 L324.27,80.22 L324.80,78.88 L325.33,80.01 L325.86,81.07 L326.39,81.07 L326.92,80.54 L327.45,80.39 L327.99,79.38 L328.52,82.14 L329.05,81.03 L329.58,81.52 L330.11,79.84 L330.64,80.43 L331.17,79.04 L331.70,81.25 L332.23,81.38 L332.76,78.97 L333.29,80.54 L333.82,81.12 L334.35,79.08 L334.88,79.03 L335.41,79.68 L335.94,80.05 L336.47,79.39 L337.00,80.61 L337.53,80.79 L338.06,81.12 L338.59,81.17 L339.12,81.85 L339.65,81.56 L340.18,79.46 L340.71,80.14 L341.24,79.67 L341.77,79.66 L342.30,80.50 L342.83,80.57 L343.36,80.98 L343.89,79.22 L344.42,79.51 L344.96,80.54 L345.49,80.39 L346.02,80.30 L346.55,80.51 L347.08,79.91 L347.61,81.15 L348.14,80.86 L348.67,80.48 L349.20,79.98 L349.73,80.40 L350.26,78.23 L350.79,79.71 L351.32,80.58 L351.85,79.26 L352.38,80.71 L352.91,80.66 L353.44,79.36 L353.97,80.32 L354.50,80.26 L355.03,80.92 L355.56,81.04 L356.09,80.49 L356.62,79.80 L357.15,80.39 L357.68,80.46 L358.21,81.13 L358.74,80.76 L359.27,79.89 L359.80,79.35 L360.33,80.18 L360.86,79.86 L361.39,79.54 L361.93,80.38 L362.46,80.06 L362.99,80.56 L363.52,80.91 L364.05,80.11 L364.58,82.44 L365.11,80.18 L365.64,81.39 L366.17,80.55 L366.70,81.39 L367.23,78.41 L367.76,79.79 L368.29,80.63 L368.82,80.92 L369.35,82.39 L369.88,80.67 L370.41,81.48 L370.94,81.04 L371.47,81.18 L372.00,80.80 L372.53,80.23 L373.06,80.78 L373.59,79.42 L374.12,81.33 L374.65,79.46 L375.18,80.52 L375.71,82.10 L376.24,80.10 L376.77,80.29 L377.30,81.25 L377.83,80.28 L378.36,79.55 L378.89,80.45 L379.43,80.71 L379.96,80.80 L380.49,79.53 L381.02,81.66 L381.55,81.57 L382.08,80.15 L382.61,80.35 L383.14,79.74 L383.67,81.28 L384.20,79.46 L384.73,80.62 L385.26,79.61 L385.79,79.41 L386.32,80.59 L386.85,81.09 L387.38,79.92 L387.91,79.33 L388.44,80.57 L388.97,79.81 L389.50,80.09 L390.03,81.09 L390.56,80.73 L391.09,79.30 L391.62,81.65 L392.15,79.68 L392.68,80.31 L393.21,79.05 L393.74,79.53 L394.27,78.04 L394.80,81.01 L395.33,80.61 L395.86,78.37 L396.40,78.08 L396.93,77.94 L397.46,80.27 L397.99,78.83 L398.52,79.11 L399.05,78.85 L399.58,78.95 L400.11,78.07 L400.64,78.96 L401.17,77.66 L401.70,78.75 L402.23,79.01 L402.76,79.08 L403.29,78.41 L403.82,77.77 L404.35,78.60 L404.88,77.97 L405.41,79.63 L405.94,78.87 L406.47,78.03 L407.00,77.63 L407.53,77.34 L408.06,77.04 L408.59,77.44 L409.12,77.88 L409.65,77.96 L410.18,77.89 L410.71,79.07 L411.24,76.57 L411.77,77.05 L412.30,79.28 L412.83,75.18 L413.37,76.18 L413.90,76.62 L414.43,76.46 L414.96,76.52 L415.49,75.80 L416.02,76.15 L416.55,75.70 L417.08,76.13 L417.61,73.68 L418.14,74.34 L418.67,74.88 L419.20,73.80 L419.73,73.57 L420.26,74.76 L420.79,73.44 L421.32,74.28 L421.85,74.12 L422.38,73.49 L422.91,73.39 L423.44,72.58 L423.97,71.18 L424.50,72.05 L425.03,72.14 L425.56,70.98 L426.09,71.01 L426.62,71.37 L427.15,69.63 L427.68,70.54 L428.21,71.18 L428.74,68.72 L429.27,68.90 L429.80,68.20 L430.33,69.19 L430.87,67.68 L431.40,67.68 L431.93,66.06 L432.46,67.18 L432.99,68.35 L433.52,68.57 L434.05,73.52 L434.58,75.66 L435.11,76.30 L435.64,81.48 L436.17,83.82 L436.70,87.30 L437.23,89.99 L437.76,90.82 L438.29,93.89 L438.82,96.78 L439.35,95.88 L439.88,95.62 L440.41,94.60 L440.94,94.02 L441.47,94.68 L442.00,95.19 L442.53,93.51 L443.06,92.78 L443.59,93.91 L444.12,91.05 L444.65,90.41 L445.18,90.95 L445.71,90.51 L446.24,88.75 L446.77,88.20 L447.30,89.05 L447.84,88.63 L448.37,86.95 L448.90,87.54 L449.43,86.92 L449.96,87.46 L450.49,86.67 L451.02,86.41 L451.55,85.92 L452.08,86.85 L452.61,86.89 L453.14,85.16 L453.67,85.97 L454.20,84.39 L454.73,84.89 L455.26,85.27 L455.79,85.73 L456.32,83.94 L456.85,84.04 L457.38,84.11 L457.91,82.51 L458.44,83.65 L458.97,82.92 L459.50,83.68 L460.03,82.27 L460.56,81.43 L461.09,83.03 L461.62,83.11 L462.15,82.31 L462.68,83.44 L463.21,82.35 L463.74,81.98 L464.27,82.81 L464.81,80.99 L465.34,81.67 L465.87,82.15 L466.40,82.82 L466.93,81.89 L467.46,82.22 L467.99,81.34 L468.52,82.09 L469.05,83.19 L469.58,81.14 L470.11,83.68 L470.64,81.08 L471.17,81.59 L471.70,81.68 L472.23,82.36 L472.76,80.40 L473.29,79.62 L473.82,81.89 L474.35,82.01 L474.88,81.83 L475.41,83.50 L475.94,81.41 L476.47,81.42 L477.00,81.97 L477.53,81.47 L478.06,82.54 L478.59,80.05 L479.12,80.76 L479.65,78.13 L480.18,81.73 L480.71,80.70 L481.24,81.78 L481.77,82.81 L482.31,80.96 L482.84,80.73 L483.37,80.50 L483.90,80.20 L484.43,80.36 L484.96,81.43 L485.49,80.90 L486.02,80.92 L486.55,80.70 L487.08,81.61 L487.61,81.25 L488.14,80.69 L488.67,81.37 L489.20,80.67 L489.73,79.81 L490.26,82.01 L490.79,81.17 L491.32,79.95 L491.85,81.67 L492.38,81.04 L492.91,79.41 L493.44,82.10 L493.97,81.01 L494.50,81.48 L495.03,80.88 L495.56,80.58 L496.09,79.39 L496.62,81.53 L497.15,80.72 L497.68,80.45 L498.21,80.99 L498.74,80.75 L499.28,81.25 L499.81,80.36 L500.34,80.64 L500.87,78.85 L501.40,80.31 L501.93,81.24 L502.46,81.80 L502.99,80.35 L503.52,80.55 L504.05,82.00 L504.58,80.37 L505.11,81.27 L505.64,82.07 L506.17,80.68 L506.70,81.68 L507.23,80.04 L507.76,80.81 L508.29,80.57 L508.82,80.73 L509.35,81.59 L509.88,82.66 L510.41,80.06 L510.94,80.14 L511.47,81.05 L512.00,79.73 L512.53,81.05 L513.06,81.11 L513.59,80.39 L514.12,81.07 L514.65,79.30 L515.18,81.27 L515.71,79.31 L516.25,80.03 L516.78,80.14 L517.31,80.27 L517.84,81.35 L518.37,80.68 L518.90,80.28 L519.43,81.08 L519.96,81.96 L520.49,80.62 L521.02,80.92 L521.55,81.66 L522.08,80.84 L522.61,79.52 L523.14,82.73 L523.67,82.49 L524.20,78.92 L524.73,80.57 L525.26,80.96 L525.79,81.43 L526.32,81.18 L526.85,80.38 L527.38,79.71 L527.91,80.69 L528.44,81.48 L528.97,79.68 L529.50,79.73 L530.03,80.58 L530.56,78.96 L531.09,80.38 L531.62,80.23 L532.15,80.99 L532.68,80.01 L533.21,79.85 L533.75,80.27 L534.28,80.56 L534.81,80.04 L535.34,80.61 L535.87,81.24 L536.40,81.61 L536.93,82.05" fill="none" stroke="#ff1e1e" stroke-width="1.55" stroke-linejoin="round"/>
<path d="M314.20,122.73 L314.73,123.04 L315.26,121.29 L315.79,125.01 L316.32,122.78 L316.85,123.37 L317.38,123.84 L317.91,122.24 L318.44,123.79 L318.97,123.37 L319.50,121.84 L320.03,123.64 L320.56,124.41 L321.09,121.81 L321.62,124.08 L322.15,123.57 L322.68,123.80 L323.21,123.77 L323.74,124.50 L324.27,123.20 L324.80,124.14 L325.33,123.05 L325.86,124.01 L326.39,122.70 L326.92,123.30 L327.45,124.86 L327.99,123.77 L328.52,123.26 L329.05,122.42 L329.58,122.72 L330.11,123.56 L330.64,124.19 L331.17,123.75 L331.70,123.84 L332.23,123.35 L332.76,124.54 L333.29,123.06 L333.82,122.92 L334.35,124.14 L334.88,123.44 L335.41,123.15 L335.94,122.90 L336.47,123.17 L337.00,123.92 L337.53,123.69 L338.06,122.36 L338.59,123.75 L339.12,123.54 L339.65,122.53 L340.18,124.04 L340.71,123.14 L341.24,123.10 L341.77,124.06 L342.30,124.50 L342.83,122.79 L343.36,123.75 L343.89,122.63 L344.42,125.34 L344.96,122.96 L345.49,124.39 L346.02,122.82 L346.55,124.06 L347.08,125.26 L347.61,121.21 L348.14,123.00 L348.67,123.79 L349.20,123.29 L349.73,122.80 L350.26,125.19 L350.79,123.43 L351.32,121.96 L351.85,124.09 L352.38,121.90 L352.91,124.34 L353.44,122.87 L353.97,123.48 L354.50,124.42 L355.03,123.45 L355.56,122.17 L356.09,121.91 L356.62,124.35 L357.15,123.97 L357.68,122.65 L358.21,124.07 L358.74,123.76 L359.27,123.89 L359.80,121.41 L360.33,123.07 L360.86,124.09 L361.39,123.95 L361.93,124.07 L362.46,121.23 L362.99,123.46 L363.52,123.73 L364.05,125.48 L364.58,122.50 L365.11,123.02 L365.64,123.33 L366.17,124.05 L366.70,122.91 L367.23,124.26 L367.76,122.61 L368.29,123.51 L368.82,122.83 L369.35,123.40 L369.88,122.68 L370.41,121.90 L370.94,124.18 L371.47,123.51 L372.00,122.77 L372.53,123.41 L373.06,124.07 L373.59,122.39 L374.12,123.13 L374.65,123.67 L375.18,123.65 L375.71,122.91 L376.24,121.40 L376.77,124.24 L377.30,123.45 L377.83,123.18 L378.36,122.92 L378.89,123.37 L379.43,122.78 L379.96,122.26 L380.49,122.49 L381.02,122.60 L381.55,122.58 L382.08,122.10 L382.61,123.62 L383.14,121.95 L383.67,123.61 L384.20,122.18 L384.73,123.33 L385.26,124.18 L385.79,123.17 L386.32,122.36 L386.85,123.01 L387.38,123.08 L387.91,121.46 L388.44,122.40 L388.97,123.04 L389.50,122.48 L390.03,122.93 L390.56,123.47 L391.09,123.47 L391.62,123.57 L392.15,123.28 L392.68,122.51 L393.21,122.71 L393.74,122.48 L394.27,122.41 L394.80,122.50 L395.33,121.16 L395.86,122.31 L396.40,122.55 L396.93,121.71 L397.46,122.48 L397.99,122.91 L398.52,122.30 L399.05,124.17 L399.58,120.15 L400.11,122.15 L400.64,120.73 L401.17,123.08 L401.70,124.46 L402.23,120.03 L402.76,122.22 L403.29,122.50 L403.82,121.76 L404.35,122.43 L404.88,120.00 L405.41,122.58 L405.94,122.11 L406.47,121.76 L407.00,121.18 L407.53,122.15 L408.06,121.13 L408.59,121.67 L409.12,120.97 L409.65,119.42 L410.18,121.23 L410.71,121.35 L411.24,121.74 L411.77,120.26 L412.30,120.89 L412.83,121.35 L413.37,120.86 L413.90,121.69 L414.43,122.22 L414.96,119.65 L415.49,118.68 L416.02,120.93 L416.55,121.38 L417.08,120.74 L417.61,120.52 L418.14,119.17 L418.67,118.96 L419.20,120.18 L419.73,118.50 L420.26,117.58 L420.79,118.11 L421.32,120.92 L421.85,120.26 L422.38,117.87 L422.91,117.65 L423.44,118.27 L423.97,117.24 L424.50,118.79 L425.03,117.40 L425.56,116.32 L426.09,118.13 L426.62,116.28 L427.15,116.72 L427.68,116.27 L428.21,115.75 L428.74,116.02 L429.27,114.87 L429.80,113.60 L430.33,112.98 L430.87,113.46 L431.40,113.57 L431.93,114.01 L432.46,114.40 L432.99,115.53 L433.52,116.19 L434.05,116.74 L434.58,118.38 L435.11,118.91 L435.64,122.40 L436.17,124.81 L436.70,126.64 L437.23,127.74 L437.76,129.15 L438.29,131.28 L438.82,131.36 L439.35,132.49 L439.88,132.44 L440.41,131.73 L440.94,132.28 L441.47,130.33 L442.00,130.17 L442.53,129.46 L443.06,129.15 L443.59,130.86 L444.12,130.75 L444.65,129.00 L445.18,129.21 L445.71,129.48 L446.24,128.93 L446.77,129.04 L447.30,126.73 L447.84,127.06 L448.37,127.79 L448.90,128.44 L449.43,127.14 L449.96,126.15 L450.49,126.42 L451.02,126.00 L451.55,125.69 L452.08,127.56 L452.61,125.61 L453.14,126.04 L453.67,127.74 L454.20,126.79 L454.73,125.96 L455.26,125.05 L455.79,125.82 L456.32,126.75 L456.85,125.81 L457.38,126.27 L457.91,125.19 L458.44,125.47 L458.97,124.79 L459.50,125.25 L460.03,125.92 L460.56,123.53 L461.09,124.64 L461.62,124.83 L462.15,124.09 L462.68,124.26 L463.21,125.14 L463.74,126.12 L464.27,124.91 L464.81,124.60 L465.34,122.96 L465.87,125.88 L466.40,124.27 L466.93,124.14 L467.46,123.18 L467.99,124.05 L468.52,123.13 L469.05,124.09 L469.58,124.40 L470.11,124.00 L470.64,124.19 L471.17,123.20 L471.70,125.12 L472.23,123.32 L472.76,122.31 L473.29,123.67 L473.82,123.17 L474.35,122.94 L474.88,123.48 L475.41,124.01 L475.94,122.74 L476.47,123.61 L477.00,124.92 L477.53,124.28 L478.06,123.55 L478.59,123.78 L479.12,123.56 L479.65,123.61 L480.18,124.26 L480.71,123.55 L481.24,121.57 L481.77,123.59 L482.31,122.84 L482.84,124.14 L483.37,123.06 L483.90,123.69 L484.43,125.41 L484.96,122.66 L485.49,122.59 L486.02,122.34 L486.55,121.50 L487.08,121.93 L487.61,123.83 L488.14,122.97 L488.67,121.92 L489.20,122.24 L489.73,124.02 L490.26,122.84 L490.79,123.18 L491.32,123.77 L491.85,124.64 L492.38,125.13 L492.91,124.35 L493.44,123.59 L493.97,123.63 L494.50,125.00 L495.03,124.68 L495.56,123.20 L496.09,123.85 L496.62,123.70 L497.15,123.50 L497.68,123.02 L498.21,122.32 L498.74,122.99 L499.28,122.13 L499.81,124.48 L500.34,123.90 L500.87,122.41 L501.40,124.62 L501.93,124.19 L502.46,121.81 L502.99,125.00 L503.52,124.12 L504.05,125.18 L504.58,122.38 L505.11,123.88 L505.64,123.78 L506.17,123.59 L506.70,123.57 L507.23,124.32 L507.76,122.15 L508.29,122.36 L508.82,122.23 L509.35,122.94 L509.88,122.90 L510.41,123.73 L510.94,123.64 L511.47,123.44 L512.00,122.84 L512.53,123.04 L513.06,124.22 L513.59,124.06 L514.12,123.50 L514.65,123.14 L515.18,124.73 L515.71,122.90 L516.25,123.96 L516.78,124.39 L517.31,123.18 L517.84,124.11 L518.37,122.46 L518.90,124.27 L519.43,123.58 L519.96,122.06 L520.49,123.98 L521.02,122.65 L521.55,124.50 L522.08,122.83 L522.61,123.27 L523.14,123.65 L523.67,123.12 L524.20,123.63 L524.73,122.93 L525.26,123.98 L525.79,123.41 L526.32,123.58 L526.85,121.06 L527.38,124.39 L527.91,123.43 L528.44,121.89 L528.97,123.48 L529.50,123.80 L530.03,124.31 L530.56,122.48 L531.09,124.72 L531.62,123.27 L532.15,125.44 L532.68,123.28 L533.21,123.98 L533.75,123.09 L534.28,122.45 L534.81,124.33 L535.34,124.17 L535.87,124.71 L536.40,124.13 L536.93,122.91" fill="none" stroke="#ff8a1e" stroke-width="1.55" stroke-linejoin="round"/>
<path d="M314.20,160.18 L314.73,161.04 L315.26,161.02 L315.79,160.90 L316.32,162.09 L316.85,161.88 L317.38,161.37 L317.91,161.74 L318.44,161.47 L318.97,161.78 L319.50,162.24 L320.03,162.41 L320.56,161.01 L321.09,160.31 L321.62,162.81 L322.15,161.69 L322.68,162.53 L323.21,160.20 L323.74,161.31 L324.27,161.62 L324.80,160.37 L325.33,161.16 L325.86,162.21 L326.39,162.51 L326.92,162.95 L327.45,160.86 L327.99,160.40 L328.52,162.03 L329.05,162.39 L329.58,161.76 L330.11,160.49 L330.64,162.26 L331.17,162.26 L331.70,162.06 L332.23,161.18 L332.76,161.85 L333.29,162.26 L333.82,161.11 L334.35,160.02 L334.88,161.87 L335.41,162.00 L335.94,161.60 L336.47,162.34 L337.00,161.09 L337.53,161.52 L338.06,161.33 L338.59,162.07 L339.12,162.94 L339.65,161.37 L340.18,163.33 L340.71,162.88 L341.24,162.25 L341.77,162.08 L342.30,163.09 L342.83,161.43 L343.36,161.48 L343.89,160.67 L344.42,161.98 L344.96,162.72 L345.49,162.03 L346.02,161.93 L346.55,161.40 L347.08,161.72 L347.61,160.36 L348.14,162.46 L348.67,161.22 L349.20,160.63 L349.73,160.93 L350.26,160.87 L350.79,162.29 L351.32,162.46 L351.85,160.41 L352.38,162.35 L352.91,162.31 L353.44,161.07 L353.97,160.29 L354.50,160.92 L355.03,161.01 L355.56,161.84 L356.09,161.25 L356.62,159.82 L357.15,161.74 L357.68,160.24 L358.21,162.31 L358.74,160.51 L359.27,160.95 L359.80,160.81 L360.33,161.07 L360.86,162.63 L361.39,162.25 L361.93,162.04 L362.46,161.79 L362.99,160.20 L363.52,161.07 L364.05,161.04 L364.58,160.68 L365.11,161.94 L365.64,160.87 L366.17,160.90 L366.70,160.61 L367.23,159.74 L367.76,161.99 L368.29,162.61 L368.82,161.63 L369.35,160.64 L369.88,159.17 L370.41,161.61 L370.94,162.49 L371.47,161.71 L372.00,162.24 L372.53,162.70 L373.06,162.40 L373.59,161.06 L374.12,162.32 L374.65,162.08 L375.18,160.11 L375.71,161.06 L376.24,160.19 L376.77,161.30 L377.30,161.87 L377.83,160.47 L378.36,159.62 L378.89,162.46 L379.43,161.67 L379.96,162.59 L380.49,160.20 L381.02,162.22 L381.55,163.07 L382.08,163.00 L382.61,161.11 L383.14,161.50 L383.67,161.13 L384.20,162.10 L384.73,162.12 L385.26,161.30 L385.79,160.06 L386.32,161.83 L386.85,160.78 L387.38,161.70 L387.91,161.37 L388.44,162.51 L388.97,162.08 L389.50,160.71 L390.03,161.38 L390.56,162.56 L391.09,160.58 L391.62,161.39 L392.15,162.01 L392.68,162.04 L393.21,161.39 L393.74,159.81 L394.27,159.83 L394.80,161.09 L395.33,161.18 L395.86,162.99 L396.40,160.06 L396.93,161.73 L397.46,161.39 L397.99,159.28 L398.52,159.97 L399.05,160.77 L399.58,160.18 L400.11,160.43 L400.64,160.92 L401.17,159.79 L401.70,160.84 L402.23,159.86 L402.76,159.89 L403.29,160.76 L403.82,159.77 L404.35,160.45 L404.88,161.52 L405.41,160.13 L405.94,159.92 L406.47,160.62 L407.00,159.62 L407.53,160.79 L408.06,158.71 L408.59,160.26 L409.12,159.23 L409.65,158.92 L410.18,161.03 L410.71,158.72 L411.24,160.86 L411.77,159.84 L412.30,160.43 L412.83,158.28 L413.37,160.04 L413.90,160.16 L414.43,158.72 L414.96,158.61 L415.49,160.70 L416.02,158.65 L416.55,158.03 L417.08,157.73 L417.61,158.52 L418.14,158.30 L418.67,158.04 L419.20,159.21 L419.73,157.33 L420.26,157.86 L420.79,158.54 L421.32,156.29 L421.85,157.86 L422.38,158.37 L422.91,155.48 L423.44,155.51 L423.97,155.37 L424.50,154.49 L425.03,156.24 L425.56,154.06 L426.09,155.84 L426.62,156.42 L427.15,153.58 L427.68,154.44 L428.21,152.82 L428.74,154.85 L429.27,153.28 L429.80,153.40 L430.33,153.38 L430.87,153.49 L431.40,152.41 L431.93,152.54 L432.46,152.39 L432.99,153.65 L433.52,153.59 L434.05,155.97 L434.58,155.84 L435.11,158.80 L435.64,162.67 L436.17,162.96 L436.70,163.62 L437.23,166.56 L437.76,166.97 L438.29,167.58 L438.82,169.22 L439.35,170.99 L439.88,170.77 L440.41,169.95 L440.94,168.86 L441.47,168.35 L442.00,170.06 L442.53,168.79 L443.06,167.45 L443.59,166.15 L444.12,166.49 L444.65,169.48 L445.18,166.13 L445.71,166.79 L446.24,166.79 L446.77,166.25 L447.30,165.92 L447.84,164.78 L448.37,164.86 L448.90,166.99 L449.43,164.73 L449.96,165.92 L450.49,163.59 L451.02,164.64 L451.55,164.95 L452.08,165.46 L452.61,163.49 L453.14,164.82 L453.67,164.51 L454.20,163.44 L454.73,164.36 L455.26,163.08 L455.79,163.06 L456.32,163.63 L456.85,161.24 L457.38,163.36 L457.91,162.52 L458.44,162.05 L458.97,162.85 L459.50,163.79 L460.03,162.72 L460.56,164.07 L461.09,161.95 L461.62,161.76 L462.15,164.13 L462.68,163.10 L463.21,163.51 L463.74,161.95 L464.27,163.29 L464.81,162.78 L465.34,163.06 L465.87,162.49 L466.40,163.46 L466.93,161.84 L467.46,161.54 L467.99,161.07 L468.52,163.27 L469.05,161.63 L469.58,161.34 L470.11,161.40 L470.64,161.79 L471.17,161.06 L471.70,161.87 L472.23,161.56 L472.76,161.60 L473.29,161.23 L473.82,162.06 L474.35,161.62 L474.88,162.09 L475.41,162.18 L475.94,162.24 L476.47,160.08 L477.00,161.47 L477.53,161.23 L478.06,162.55 L478.59,160.54 L479.12,161.26 L479.65,161.61 L480.18,161.56 L480.71,162.67 L481.24,161.44 L481.77,162.63 L482.31,160.56 L482.84,160.25 L483.37,162.82 L483.90,162.14 L484.43,162.18 L484.96,161.86 L485.49,162.16 L486.02,160.71 L486.55,162.54 L487.08,161.28 L487.61,162.56 L488.14,161.79 L488.67,160.04 L489.20,160.61 L489.73,162.66 L490.26,161.58 L490.79,161.36 L491.32,161.90 L491.85,161.32 L492.38,161.22 L492.91,161.77 L493.44,161.80 L493.97,162.96 L494.50,161.71 L495.03,163.26 L495.56,163.19 L496.09,163.12 L496.62,162.56 L497.15,161.76 L497.68,161.77 L498.21,161.53 L498.74,161.02 L499.28,161.59 L499.81,161.10 L500.34,163.03 L500.87,162.09 L501.40,161.26 L501.93,160.01 L502.46,161.59 L502.99,161.28 L503.52,160.71 L504.05,160.66 L504.58,159.72 L505.11,162.11 L505.64,161.57 L506.17,163.82 L506.70,161.60 L507.23,161.50 L507.76,162.85 L508.29,161.73 L508.82,161.76 L509.35,161.30 L509.88,161.10 L510.41,162.89 L510.94,162.47 L511.47,163.07 L512.00,161.32 L512.53,161.64 L513.06,160.86 L513.59,162.43 L514.12,160.43 L514.65,162.09 L515.18,162.54 L515.71,162.81 L516.25,160.81 L516.78,162.54 L517.31,161.00 L517.84,160.96 L518.37,160.48 L518.90,162.59 L519.43,163.01 L519.96,161.10 L520.49,160.96 L521.02,161.32 L521.55,163.74 L522.08,162.46 L522.61,161.14 L523.14,160.08 L523.67,161.03 L524.20,162.61 L524.73,163.19 L525.26,161.38 L525.79,161.02 L526.32,161.17 L526.85,160.00 L527.38,162.38 L527.91,160.68 L528.44,162.51 L528.97,160.15 L529.50,160.52 L530.03,161.85 L530.56,160.95 L531.09,162.27 L531.62,161.61 L532.15,160.60 L532.68,162.13 L533.21,162.32 L533.75,159.98 L534.28,163.15 L534.81,162.02 L535.34,162.25 L535.87,160.02 L536.40,160.99 L536.93,161.30" fill="none" stroke="#111111" stroke-width="1.55" stroke-linejoin="round"/>
<line x1="436.1" y1="15" x2="436.1" y2="186" stroke="#444" stroke-width="1.3" stroke-dasharray="4.5,3"/>
<rect x="313.3" y="12.5" width="224.3" height="175.3" fill="none" stroke="#5a5a5a" stroke-width="1.5"/>
<line x1="313.30" y1="187.8" x2="313.30" y2="191.0" stroke="#5a5a5a" stroke-width="1"/>
<line x1="335.73" y1="187.8" x2="335.73" y2="189.60000000000002" stroke="#5a5a5a" stroke-width="1"/>
<line x1="358.16" y1="187.8" x2="358.16" y2="191.0" stroke="#5a5a5a" stroke-width="1"/>
<line x1="380.59" y1="187.8" x2="380.59" y2="189.60000000000002" stroke="#5a5a5a" stroke-width="1"/>
<line x1="403.02" y1="187.8" x2="403.02" y2="191.0" stroke="#5a5a5a" stroke-width="1"/>
<line x1="425.45" y1="187.8" x2="425.45" y2="189.60000000000002" stroke="#5a5a5a" stroke-width="1"/>
<line x1="447.88" y1="187.8" x2="447.88" y2="191.0" stroke="#5a5a5a" stroke-width="1"/>
<line x1="470.31" y1="187.8" x2="470.31" y2="189.60000000000002" stroke="#5a5a5a" stroke-width="1"/>
<line x1="492.74" y1="187.8" x2="492.74" y2="191.0" stroke="#5a5a5a" stroke-width="1"/>
<line x1="515.17" y1="187.8" x2="515.17" y2="189.60000000000002" stroke="#5a5a5a" stroke-width="1"/>
<line x1="537.60" y1="187.8" x2="537.60" y2="191.0" stroke="#5a5a5a" stroke-width="1"/>
<text x="313.30" y="200.8" font-family='"Liberation Sans", sans-serif' font-size="8.6" fill="#444" text-anchor="middle">3460</text>
<text x="358.16" y="200.8" font-family='"Liberation Sans", sans-serif' font-size="8.6" fill="#444" text-anchor="middle">3480</text>
<text x="403.02" y="200.8" font-family='"Liberation Sans", sans-serif' font-size="8.6" fill="#444" text-anchor="middle">3500</text>
<text x="447.88" y="200.8" font-family='"Liberation Sans", sans-serif' font-size="8.6" fill="#444" text-anchor="middle">3520</text>
<text x="492.74" y="200.8" font-family='"Liberation Sans", sans-serif' font-size="8.6" fill="#444" text-anchor="middle">3540</text>
<text x="537.60" y="200.8" font-family='"Liberation Sans", sans-serif' font-size="8.6" fill="#444" text-anchor="middle">3560</text>
<text x="425.2" y="218.8" font-family='"Liberation Sans", sans-serif' font-size="12.8" fill="#333" text-anchor="middle">B / G</text>
<text transform="translate(298.6,100.5) rotate(-90)" font-family='"Liberation Serif", serif' font-size="13.3" fill="#333" text-anchor="middle">EPR Intensity / a.u.</text>
<text x="278.6" y="21.8" font-family='"Liberation Sans", sans-serif' font-size="18.2" font-weight="bold" fill="#111">(b)</text>
<text x="392.6" y="27.9" font-family='"Liberation Sans", sans-serif' font-size="9.4" fill="#222" letter-spacing="0.2">g=2.003</text>
<text x="463.4" y="31.8" font-family='"Liberation Sans", sans-serif' font-size="10.1" fill="#333" text-anchor="start"><tspan dy="0.0">S-N</tspan><tspan font-size="6.3" dy="2.2">0.1</tspan><tspan dy="-2.2">K</tspan><tspan font-size="6.3" dy="2.2">0.1</tspan><tspan dy="-2.2">Al</tspan><tspan font-size="6.3" dy="2.2">2</tspan><tspan dy="-2.2">O</tspan><tspan font-size="6.3" dy="2.2">3</tspan></text>
<text x="471" y="72.5" font-family='"Liberation Sans", sans-serif' font-size="10.1" fill="#333" text-anchor="start"><tspan dy="0.0">N</tspan><tspan font-size="6.3" dy="2.2">0.1</tspan><tspan dy="-2.2">K</tspan><tspan font-size="6.3" dy="2.2">0.1</tspan><tspan dy="-2.2">Al</tspan><tspan font-size="6.3" dy="2.2">2</tspan><tspan dy="-2.2">O</tspan><tspan font-size="6.3" dy="2.2">3</tspan></text>
<text x="475.5" y="112.7" font-family='"Liberation Sans", sans-serif' font-size="10.1" fill="#333" text-anchor="start"><tspan dy="0.0">S-K</tspan><tspan font-size="6.3" dy="2.2">0.1</tspan><tspan dy="-2.2">Al</tspan><tspan font-size="6.3" dy="2.2">2</tspan><tspan dy="-2.2">O</tspan><tspan font-size="6.3" dy="2.2">3</tspan></text>
<text x="485.4" y="153.1" font-family='"Liberation Sans", sans-serif' font-size="10.1" fill="#333" text-anchor="start"><tspan dy="0.0">K</tspan><tspan font-size="6.3" dy="2.2">0.1</tspan><tspan dy="-2.2">Al</tspan><tspan font-size="6.3" dy="2.2">2</tspan><tspan dy="-2.2">O</tspan><tspan font-size="6.3" dy="2.2">3</tspan></text>
<defs><radialGradient id="micel" cx="0.42" cy="0.38" r="0.68"><stop offset="0" stop-color="#fbdcaa"/><stop offset="0.55" stop-color="#e4b072"/><stop offset="1" stop-color="#a08a58"/></radialGradient><radialGradient id="blueball" cx="0.4" cy="0.35" r="0.7"><stop offset="0" stop-color="#b8c8ec"/><stop offset="0.6" stop-color="#5a7cc8"/><stop offset="1" stop-color="#34529a"/></radialGradient><linearGradient id="barrow" x1="0" y1="0" x2="1" y2="0"><stop offset="0" stop-color="#ffffff" stop-opacity="0"/><stop offset="0.2" stop-color="#d8eefc" stop-opacity="0.8"/><stop offset="0.55" stop-color="#5ab0ee"/><stop offset="1" stop-color="#1068d4"/></linearGradient><radialGradient id="flower" cx="0.45" cy="0.42" r="0.6"><stop offset="0" stop-color="#6a0866"/><stop offset="0.7" stop-color="#6a0a68"/><stop offset="1" stop-color="#420640"/></radialGradient><radialGradient id="flshade" cx="0.42" cy="0.4" r="0.62"><stop offset="0.6" stop-color="#3a0040" stop-opacity="0"/><stop offset="1" stop-color="#3a0040" stop-opacity="0.45"/></radialGradient><linearGradient id="liquid" x1="0" y1="0" x2="0" y2="1"><stop offset="0" stop-color="#3a8a78"/><stop offset="1" stop-color="#1e5a4c"/></linearGradient><linearGradient id="clave" x1="0" y1="0" x2="1" y2="0"><stop offset="0" stop-color="#bdbdbd"/><stop offset="0.35" stop-color="#e4e4e4"/><stop offset="1" stop-color="#b2b2b2"/></linearGradient></defs>
<rect x="14.5" y="228.3" width="527.8" height="179.5" rx="9" fill="#fdf5e3" stroke="#74b48c" stroke-width="1.7" stroke-dasharray="4,2.3"/>
<text x="17" y="246.4" font-family='"Liberation Sans", sans-serif' font-size="18.2" font-weight="bold" fill="#111">(c)</text>
<path d="M86,249 A8.1,8.1 0 0 1 99,241 A6.9,6.9 0 0 1 112,240 A6.9,6.9 0 0 1 125,240 A6.7,6.7 0 0 1 134,249 A6.6,6.6 0 0 1 137,261 A6.7,6.7 0 0 1 133,273 A6.4,6.4 0 0 1 125,282 A7.6,7.6 0 0 1 112,288 A6.9,6.9 0 0 1 99,287 A6.2,6.2 0 0 1 88,283 A6.9,6.9 0 0 1 81,272 A6.9,6.9 0 0 1 81,259 A5.9,5.9 0 0 1 86,249" fill="none" stroke="#dd5a5a" stroke-width="1.35" stroke-dasharray="1.9,1.4"/>
<circle cx="116.5" cy="257.6" r="9.1" fill="url(#micel)" stroke="#d028d0" stroke-width="2.2"/>
<circle cx="116.5" cy="257.6" r="7.8" fill="none" stroke="#8a62b8" stroke-width="0.8" opacity="0.6"/>
<circle cx="99.8" cy="272.9" r="9.1" fill="url(#micel)" stroke="#d028d0" stroke-width="2.2"/>
<circle cx="99.8" cy="272.9" r="7.8" fill="none" stroke="#8a62b8" stroke-width="0.8" opacity="0.6"/>
<circle cx="78" cy="302" r="4.6" fill="none" stroke="#e07070" stroke-width="1.2" stroke-dasharray="1.8,1.3"/>
<rect x="46.5" y="276" width="4.5" height="12" fill="#cfcfcf"/>
<rect x="43" y="273.4" width="11" height="4.5" rx="1.5" fill="#d9d9d9" stroke="#b0b0b0" stroke-width="0.5"/>
<path d="M26.6,299 L26.6,297 L42.9,297 L42.9,287 L58.4,287 L58.4,291.5 L69.2,291.5 L69.2,312 L26.6,312 Z" fill="url(#clave)" stroke="#b5b5b5" stroke-width="0.6"/>
<path d="M27.2,298 L69.2,298 L69.2,364 Q69.2,371 61,371 L34,371 Q27.2,371 27.2,364 Z" fill="url(#clave)" stroke="#b5b5b5" stroke-width="0.6"/>
<line x1="26.8" y1="316.5" x2="43" y2="316.5" stroke="#a8a8a8" stroke-width="0.8"/>
<rect x="43" y="309" width="21.8" height="58.4" fill="#b8bcbc" stroke="#8a8e8e" stroke-width="0.8"/>
<rect x="45.5" y="312" width="17" height="20" fill="#d6d9d9"/>
<rect x="45.5" y="332" width="17" height="32.7" fill="url(#liquid)"/>
<circle cx="48" cy="340" r="1.2" fill="#5a8ad8"/>
<circle cx="55" cy="338" r="1.2" fill="#d070c0"/>
<circle cx="51" cy="346" r="1.2" fill="#5a8ad8"/>
<circle cx="58" cy="349" r="1.2" fill="#d070c0"/>
<circle cx="47" cy="354" r="1.2" fill="#d070c0"/>
<circle cx="54" cy="356" r="1.2" fill="#5a8ad8"/>
<circle cx="59" cy="360" r="1.2" fill="#5a8ad8"/>
<circle cx="49" cy="361" r="1.2" fill="#d070c0"/>
<circle cx="50" cy="333" r="1.6" fill="#e03030"/>
<circle cx="63.8" cy="319.5" r="3.6" fill="none" stroke="#e06060" stroke-width="1.1" stroke-dasharray="1.6,1.2"/>
<path d="M95.5,310.9 L115.6,315.79999999999995 L115.6,313.59999999999997 L130.5,321.4 L115.6,329.2 L115.6,327.0 L95.5,331.9 Z" fill="url(#barrow)"/>
<path d="M219.5,311.5 L240.3,316.4 L240.3,314.2 L255.7,322 L240.3,329.8 L240.3,327.6 L219.5,332.5 Z" fill="url(#barrow)"/>
<path d="M385.5,312.9 L405.0,317.79999999999995 L405.0,315.59999999999997 L419.5,323.4 L405.0,331.2 L405.0,329.0 L385.5,333.9 Z" fill="url(#barrow)"/>
<circle cx="192.5" cy="288.5" r="17" fill="#d850d0" opacity="0.85"/>
<circle cx="192.5" cy="271.0" r="7.9" fill="url(#micel)" stroke="#d028d0" stroke-width="2.2"/>
<circle cx="192.5" cy="271.0" r="6.6" fill="none" stroke="#8a62b8" stroke-width="0.8" opacity="0.6"/>
<circle cx="192.5" cy="306.0" r="7.9" fill="url(#micel)" stroke="#d028d0" stroke-width="2.2"/>
<circle cx="192.5" cy="306.0" r="6.6" fill="none" stroke="#8a62b8" stroke-width="0.8" opacity="0.6"/>
<circle cx="176.0" cy="279.8" r="7.9" fill="url(#micel)" stroke="#d028d0" stroke-width="2.2"/>
<circle cx="176.0" cy="279.8" r="6.6" fill="none" stroke="#8a62b8" stroke-width="0.8" opacity="0.6"/>
<circle cx="209.0" cy="279.8" r="7.9" fill="url(#micel)" stroke="#d028d0" stroke-width="2.2"/>
<circle cx="209.0" cy="279.8" r="6.6" fill="none" stroke="#8a62b8" stroke-width="0.8" opacity="0.6"/>
<circle cx="176.0" cy="297.2" r="7.9" fill="url(#micel)" stroke="#d028d0" stroke-width="2.2"/>
<circle cx="176.0" cy="297.2" r="6.6" fill="none" stroke="#8a62b8" stroke-width="0.8" opacity="0.6"/>
<circle cx="209.0" cy="297.2" r="7.9" fill="url(#micel)" stroke="#d028d0" stroke-width="2.2"/>
<circle cx="209.0" cy="297.2" r="6.6" fill="none" stroke="#8a62b8" stroke-width="0.8" opacity="0.6"/>
<circle cx="192.5" cy="288.5" r="7.9" fill="url(#micel)" stroke="#d028d0" stroke-width="2.2"/>
<circle cx="192.5" cy="288.5" r="6.6" fill="none" stroke="#8a62b8" stroke-width="0.8" opacity="0.6"/>
<circle cx="168.9" cy="336" r="17" fill="#d850d0" opacity="0.85"/>
<circle cx="168.9" cy="318.5" r="7.9" fill="url(#micel)" stroke="#d028d0" stroke-width="2.2"/>
<circle cx="168.9" cy="318.5" r="6.6" fill="none" stroke="#8a62b8" stroke-width="0.8" opacity="0.6"/>
<circle cx="168.9" cy="353.5" r="7.9" fill="url(#micel)" stroke="#d028d0" stroke-width="2.2"/>
<circle cx="168.9" cy="353.5" r="6.6" fill="none" stroke="#8a62b8" stroke-width="0.8" opacity="0.6"/>
<circle cx="152.4" cy="327.3" r="7.9" fill="url(#micel)" stroke="#d028d0" stroke-width="2.2"/>
<circle cx="152.4" cy="327.3" r="6.6" fill="none" stroke="#8a62b8" stroke-width="0.8" opacity="0.6"/>
<circle cx="185.4" cy="327.3" r="7.9" fill="url(#micel)" stroke="#d028d0" stroke-width="2.2"/>
<circle cx="185.4" cy="327.3" r="6.6" fill="none" stroke="#8a62b8" stroke-width="0.8" opacity="0.6"/>
<circle cx="152.4" cy="344.7" r="7.9" fill="url(#micel)" stroke="#d028d0" stroke-width="2.2"/>
<circle cx="152.4" cy="344.7" r="6.6" fill="none" stroke="#8a62b8" stroke-width="0.8" opacity="0.6"/>
<circle cx="185.4" cy="344.7" r="7.9" fill="url(#micel)" stroke="#d028d0" stroke-width="2.2"/>
<circle cx="185.4" cy="344.7" r="6.6" fill="none" stroke="#8a62b8" stroke-width="0.8" opacity="0.6"/>
<circle cx="168.9" cy="336.0" r="7.9" fill="url(#micel)" stroke="#d028d0" stroke-width="2.2"/>
<circle cx="168.9" cy="336.0" r="6.6" fill="none" stroke="#8a62b8" stroke-width="0.8" opacity="0.6"/>
<path d="M270.3,293.4 C272.1,293.0 277.2,291.6 281,291 C284.8,290.4 289.3,289.8 293,289.9 C296.7,290.0 299.7,290.8 303,291.6 C306.3,292.5 309.5,293.8 313,295 C316.5,296.2 320.4,297.7 324,298.8 C327.6,299.9 331.0,301.1 334.5,301.7 C338.0,302.3 341.2,302.9 345,302.7 C348.8,302.5 353.2,301.5 357,300.5 C360.8,299.5 365.9,297.2 367.7,296.5 L367.7,344.2 C365.6,345.4 359.5,349.9 355,351.5 C350.5,353.1 345.0,353.5 340.8,353.5 C336.6,353.5 333.8,352.5 330,351.5 C326.2,350.5 322.0,349.0 318,347.5 C314.0,346.0 310.2,344.0 306,342.5 C301.8,341.0 297.2,339.4 293,338.6 C288.8,337.8 284.8,337.7 281,337.6 C277.2,337.5 272.1,337.9 270.3,338 Z" fill="#b048a8" transform="translate(1.2,1.5)" opacity="0.6"/>
<path d="M270.3,293.4 C272.1,293.0 277.2,291.6 281,291 C284.8,290.4 289.3,289.8 293,289.9 C296.7,290.0 299.7,290.8 303,291.6 C306.3,292.5 309.5,293.8 313,295 C316.5,296.2 320.4,297.7 324,298.8 C327.6,299.9 331.0,301.1 334.5,301.7 C338.0,302.3 341.2,302.9 345,302.7 C348.8,302.5 353.2,301.5 357,300.5 C360.8,299.5 365.9,297.2 367.7,296.5 L367.7,344.2 C365.6,345.4 359.5,349.9 355,351.5 C350.5,353.1 345.0,353.5 340.8,353.5 C336.6,353.5 333.8,352.5 330,351.5 C326.2,350.5 322.0,349.0 318,347.5 C314.0,346.0 310.2,344.0 306,342.5 C301.8,341.0 297.2,339.4 293,338.6 C288.8,337.8 284.8,337.7 281,337.6 C277.2,337.5 272.1,337.9 270.3,338 Z" fill="#e070d6" stroke="#b84cb4" stroke-width="0.8"/>
<circle cx="278.2" cy="298.6" r="4.4" fill="url(#micel)" stroke="#9a48b0" stroke-width="1.3"/>
<circle cx="278.2" cy="310.0" r="4.4" fill="url(#micel)" stroke="#9a48b0" stroke-width="1.3"/>
<circle cx="278.2" cy="323.0" r="4.4" fill="url(#micel)" stroke="#9a48b0" stroke-width="1.3"/>
<circle cx="278.2" cy="333.8" r="4.4" fill="url(#micel)" stroke="#9a48b0" stroke-width="1.3"/>
<circle cx="289.6" cy="297.5" r="4.4" fill="url(#micel)" stroke="#9a48b0" stroke-width="1.3"/>
<circle cx="289.6" cy="309.6" r="4.4" fill="url(#micel)" stroke="#9a48b0" stroke-width="1.3"/>
<circle cx="289.6" cy="322.4" r="4.4" fill="url(#micel)" stroke="#9a48b0" stroke-width="1.3"/>
<circle cx="289.6" cy="333.4" r="4.4" fill="url(#micel)" stroke="#9a48b0" stroke-width="1.3"/>
<circle cx="301.4" cy="298.2" r="4.4" fill="url(#micel)" stroke="#9a48b0" stroke-width="1.3"/>
<circle cx="301.4" cy="310.6" r="4.4" fill="url(#micel)" stroke="#9a48b0" stroke-width="1.3"/>
<circle cx="301.4" cy="322.4" r="4.4" fill="url(#micel)" stroke="#9a48b0" stroke-width="1.3"/>
<circle cx="301.4" cy="333.8" r="4.4" fill="url(#micel)" stroke="#9a48b0" stroke-width="1.3"/>
<circle cx="313.4" cy="302.7" r="4.4" fill="url(#micel)" stroke="#9a48b0" stroke-width="1.3"/>
<circle cx="313.4" cy="314.1" r="4.4" fill="url(#micel)" stroke="#9a48b0" stroke-width="1.3"/>
<circle cx="313.4" cy="326.6" r="4.4" fill="url(#micel)" stroke="#9a48b0" stroke-width="1.3"/>
<circle cx="313.4" cy="337.5" r="4.4" fill="url(#micel)" stroke="#9a48b0" stroke-width="1.3"/>
<circle cx="325.2" cy="306.9" r="4.4" fill="url(#micel)" stroke="#9a48b0" stroke-width="1.3"/>
<circle cx="325.2" cy="319.3" r="4.4" fill="url(#micel)" stroke="#9a48b0" stroke-width="1.3"/>
<circle cx="325.2" cy="331.3" r="4.4" fill="url(#micel)" stroke="#9a48b0" stroke-width="1.3"/>
<circle cx="325.2" cy="342.1" r="4.4" fill="url(#micel)" stroke="#9a48b0" stroke-width="1.3"/>
<circle cx="336.0" cy="310.6" r="4.4" fill="url(#micel)" stroke="#9a48b0" stroke-width="1.3"/>
<circle cx="336.0" cy="322.4" r="4.4" fill="url(#micel)" stroke="#9a48b0" stroke-width="1.3"/>
<circle cx="336.0" cy="334.8" r="4.4" fill="url(#micel)" stroke="#9a48b0" stroke-width="1.3"/>
<circle cx="336.0" cy="345.8" r="4.4" fill="url(#micel)" stroke="#9a48b0" stroke-width="1.3"/>
<circle cx="347.6" cy="312.0" r="4.4" fill="url(#micel)" stroke="#9a48b0" stroke-width="1.3"/>
<circle cx="347.6" cy="324.5" r="4.4" fill="url(#micel)" stroke="#9a48b0" stroke-width="1.3"/>
<circle cx="347.6" cy="336.3" r="4.4" fill="url(#micel)" stroke="#9a48b0" stroke-width="1.3"/>
<circle cx="347.6" cy="347.9" r="4.4" fill="url(#micel)" stroke="#9a48b0" stroke-width="1.3"/>
<circle cx="359.4" cy="309.0" r="4.4" fill="url(#micel)" stroke="#9a48b0" stroke-width="1.3"/>
<circle cx="359.4" cy="321.4" r="4.4" fill="url(#micel)" stroke="#9a48b0" stroke-width="1.3"/>
<circle cx="359.4" cy="332.8" r="4.4" fill="url(#micel)" stroke="#9a48b0" stroke-width="1.3"/>
<circle cx="359.4" cy="343.8" r="4.4" fill="url(#micel)" stroke="#9a48b0" stroke-width="1.3"/>
<clipPath id="flclip"><path d="M522.8093388939568,317.6 C522.9,318.1 523.2,319.7 523.1267520521701,320.80466542947806 C523.0,321.9 522.6,322.9 522.313191574898,323.92820154933383 C522.0,324.9 521.5,325.9 521.114543385078,326.91993041194957 C520.8,327.9 520.4,328.9 520.1852565186482,329.91040312592884 C520.0,330.9 520.2,332.1 519.974941105637,333.15037966336894 C519.7,334.2 519.2,335.1 518.80441302094,336.1087560936786 C518.4,337.1 518.0,338.1 517.3783989392555,338.95702543419577 C516.8,339.8 516.0,340.6 515.3459451233283,341.4479863140536 C514.6,342.3 513.8,342.9 513.1687313946799,343.7702074751381 C512.6,344.6 512.3,345.8 511.7635494308169,346.66313553790826 C511.2,347.6 510.5,348.4 509.7994300918842,349.1794122151789 C509.1,350.0 508.5,350.9 507.61909123529796,351.53343806068216 C506.8,352.2 505.6,352.4 504.6093171852427,352.91253678737274 C503.6,353.4 502.7,353.9 501.83948522883065,354.4577895306339 C501.0,355.0 500.2,355.8 499.34007874825386,356.3961671836915 C498.5,357.0 497.6,357.7 496.7324998016006,358.25857555855885 C495.8,358.8 494.9,359.5 493.9470148765651,359.89133793999815 C492.9,360.3 491.8,360.3 490.73977283952337,360.4649798962848 C489.7,360.7 488.6,360.8 487.5928512345299,361.0285693645987 C486.6,361.2 485.5,361.4 484.4858388758638,361.65197242938393 C483.5,361.9 482.4,362.1 481.38701738641294,362.4622466420871 C480.3,362.8 479.3,363.5 478.2289422584076,363.5471010485783 C477.2,363.6 476.1,363.0 474.99794276593104,362.78876297759933 C473.9,362.5 472.9,362.4 471.8528936224685,362.0882146761172 C470.8,361.8 469.8,361.3 468.80097959562397,361.16698599071293 C467.8,361.0 466.7,361.0 465.6021980817007,361.04812763104815 C464.5,361.1 463.2,361.5 462.1826797773413,361.3063698629687 C461.1,361.1 460.2,360.3 459.31544740139714,359.7390573704247 C458.4,359.2 457.6,358.3 456.70564248996567,357.7776354641468 C455.8,357.2 454.9,356.8 453.90517621398834,356.31895904820203 C453.0,355.8 452.0,355.4 451.01917363036694,354.9562576971507 C450.1,354.5 449.1,354.0 448.1776760600074,353.4332319590575 C447.2,352.9 446.1,352.5 445.3362716538314,351.80105964205296 C444.6,351.1 444.2,349.9 443.64300193195766,348.9488100393623 C443.1,348.0 442.5,347.1 441.93285333300054,346.25285213251425 C441.3,345.4 440.9,344.5 440.07908646783693,343.73598689008213 C439.3,343.0 438.1,342.6 437.2874465301552,341.7967316614737 C436.5,341.0 435.9,340.1 435.4426007294209,339.1555207142018 C434.9,338.2 434.6,337.2 434.2919746369908,336.1541953127172 C434.0,335.1 434.0,334.0 433.8338553806172,332.93211962064237 C433.7,331.9 433.6,330.8 433.2916735557185,329.8321858312414 C433.0,328.8 432.2,328.0 431.82682302041064,326.97408006551757 C431.4,326.0 431.0,325.0 430.78255764258535,323.9426332689472 C430.6,322.9 430.6,321.8 430.68084964917165,320.7628150943204 C430.8,319.7 431.2,318.6 431.3965140489976,317.6 C431.6,316.6 431.7,315.6 431.7240604553762,314.5090390854547 C431.7,313.5 431.4,312.4 431.36798009812316,311.33840835519936 C431.3,310.3 431.5,309.2 431.5480129139099,308.1675459606498 C431.6,307.1 431.5,306.0 431.8926971571221,304.9726813920819 C432.3,304.0 433.2,303.1 433.75237990564455,302.2386705513606 C434.4,301.3 435.1,300.5 435.4859814224497,299.56943666755205 C435.9,298.6 436.0,297.5 436.34987060974225,296.519647178941 C436.7,295.5 437.0,294.5 437.44894422823063,293.50266957602867 C437.9,292.5 438.4,291.6 439.0798768475151,290.74893435061534 C439.7,289.9 440.6,289.2 441.4182464152626,288.5218184897338 C442.2,287.8 443.1,287.2 443.98651019490586,286.5779362031166 C444.8,285.9 445.8,285.5 446.51700034289587,284.69060243575956 C447.2,283.9 447.4,282.5 448.1328409528833,281.7102425155535 C448.8,280.9 449.9,280.5 450.7628189283679,279.86938174970004 C451.6,279.3 452.5,278.5 453.442957885188,278.0924641065714 C454.4,277.7 455.6,277.5 456.6150532717682,277.2394151451086 C457.7,277.0 458.8,277.1 459.80504089764327,276.65455225926115 C460.8,276.2 461.5,275.2 462.42135275713775,274.6171716392092 C463.4,274.1 464.4,273.7 465.39179550381607,273.32065190092175 C466.4,273.0 467.5,272.6 468.54379936636496,272.5963505741036 C469.6,272.6 470.8,273.1 471.86434794933325,273.21913125464636 C472.9,273.4 474.0,273.5 475.0354175894457,273.4682784822313 C476.1,273.4 477.1,273.3 478.180491113139,273.0195463301637 C479.3,272.8 480.4,272.1 481.46361468991705,272.01991031609026 C482.5,272.0 483.6,272.4 484.6366397957951,272.70562157276174 C485.7,273.0 486.7,273.3 487.72704571937186,273.64127932442926 C488.7,274.0 489.6,274.7 490.6371611661208,275.046089267799 C491.6,275.4 492.6,275.7 493.6634631452688,275.99994999496096 C494.7,276.3 495.7,276.6 496.7446735143232,276.91683902862917 C497.8,277.3 498.9,277.5 499.8063405081535,278.00835759440247 C500.7,278.5 501.6,279.2 502.37448010576577,279.9609453843113 C503.2,280.7 503.9,281.5 504.59624408025695,282.3039450317906 C505.3,283.1 505.8,284.1 506.65655033141326,284.71953676359885 C507.5,285.4 508.7,285.6 509.65866620935145,286.15448287456235 C510.6,286.7 511.6,287.3 512.3208732588772,288.0762289967986 C513.1,288.8 513.8,289.7 514.2163394088859,290.68007772648696 C514.7,291.7 514.6,293.0 514.9572582291187,293.9912490357116 C515.4,295.0 516.1,295.7 516.657767261265,296.6203937258467 C517.2,297.5 517.4,298.5 518.0043897151352,299.4420943311112 C518.6,300.3 519.5,301.1 520.0419041678089,302.02561336362663 C520.6,302.9 521.0,304.0 521.2911155488283,304.9772533994804 C521.5,306.0 521.6,307.1 521.589047794698,308.18072344763146 C521.6,309.3 521.1,310.4 521.1975471269113,311.4262401485881 C521.3,312.5 521.8,313.4 522.099554207309,314.46608581099053 C522.4,315.5 522.7,317.1 522.8093388939568,317.6 Z"/></clipPath>
<g clip-path="url(#flclip)">
<rect x="428" y="270" width="98" height="96" fill="url(#flower)"/>
<path d="M508.9,349.3 Q493.4,341.2 486.6,357.3 Q496.4,349.7 508.9,349.3 Z" fill="#b40ea8" stroke="#2a0428" stroke-width="0.7"/>
<path d="M480.1,280.6 Q485.3,294.4 498.5,287.7 Q488.1,287.2 480.1,280.6 Z" fill="#c010b4" stroke="#2a0428" stroke-width="0.7"/>
<path d="M495.3,295.7 Q494.7,319.5 517.6,312.7 Q502.9,308.8 495.3,295.7 Z" fill="#cc14be" stroke="#2a0428" stroke-width="0.7"/>
<path d="M430.8,348.1 Q445.6,336.6 430.4,325.6 Q435.1,336.8 430.8,348.1 Z" fill="#c010b4" stroke="#2a0428" stroke-width="0.7"/>
<path d="M429.4,321.1 Q446.3,312.2 443.2,293.3 Q439.3,308.7 429.4,321.1 Z" fill="#bc10b0" stroke="#2a0428" stroke-width="0.7"/>
<path d="M518.9,342.3 Q500.1,342.4 502.5,361.0 Q507.5,348.8 518.9,342.3 Z" fill="#b40ea8" stroke="#2a0428" stroke-width="0.7"/>
<path d="M511.8,341.8 Q493.2,341.6 488.9,359.7 Q498.2,348.0 511.8,341.8 Z" fill="#d820cc" stroke="#2a0428" stroke-width="0.7"/>
<path d="M502.7,369.2 Q494.4,348.0 475.8,361.1 Q490.8,360.0 502.7,369.2 Z" fill="#bc10b0" stroke="#2a0428" stroke-width="0.7"/>
<path d="M510.4,338.4 Q494.9,323.4 492.3,344.8 Q499.4,336.2 510.4,338.4 Z" fill="#d41ac6" stroke="#2a0428" stroke-width="0.7"/>
<path d="M474.0,367.5 Q467.9,349.9 453.7,362.0 Q465.1,360.3 474.0,367.5 Z" fill="#940a8c" stroke="#2a0428" stroke-width="0.7"/>
<path d="M498.9,306.0 Q477.9,313.1 484.4,334.3 Q487.5,318.0 498.9,306.0 Z" fill="#b40ea8" stroke="#2a0428" stroke-width="0.7"/>
<path d="M517.3,322.9 Q499.3,327.8 505.9,345.3 Q507.9,332.2 517.3,322.9 Z" fill="#bc10b0" stroke="#2a0428" stroke-width="0.7"/>
<path d="M497.6,327.0 Q476.8,325.0 473.0,345.6 Q482.7,332.9 497.6,327.0 Z" fill="#940a8c" stroke="#2a0428" stroke-width="0.7"/>
<path d="M485.1,343.2 Q485.1,325.6 469.2,333.1 Q479.5,334.4 485.1,343.2 Z" fill="#a80c9e" stroke="#2a0428" stroke-width="0.7"/>
<path d="M444.4,277.9 Q457.8,294.6 475.4,282.2 Q459.3,284.4 444.4,277.9 Z" fill="#a80c9e" stroke="#2a0428" stroke-width="0.7"/>
<path d="M517.4,297.0 Q500.1,304.2 510.4,319.8 Q509.8,307.1 517.4,297.0 Z" fill="#d820cc" stroke="#2a0428" stroke-width="0.7"/>
<path d="M495.9,297.0 Q485.5,312.5 503.0,318.9 Q495.2,309.3 495.9,297.0 Z" fill="#b40ea8" stroke="#2a0428" stroke-width="0.7"/>
<path d="M511.7,318.4 Q494.3,318.5 491.7,335.8 Q499.5,324.5 511.7,318.4 Z" fill="#d820cc" stroke="#2a0428" stroke-width="0.7"/>
<path d="M494.3,319.1 Q469.7,314.3 471.5,339.3 Q479.0,324.7 494.3,319.1 Z" fill="#b40ea8" stroke="#2a0428" stroke-width="0.7"/>
<path d="M502.0,310.0 Q481.1,315.7 486.8,336.6 Q490.4,321.0 502.0,310.0 Z" fill="#d820cc" stroke="#2a0428" stroke-width="0.7"/>
<path d="M491.2,294.9 Q493.1,315.9 510.8,304.5 Q498.6,304.6 491.2,294.9 Z" fill="#b40ea8" stroke="#2a0428" stroke-width="0.7"/>
<path d="M433.5,307.0 Q449.5,298.3 439.3,283.2 Q440.3,296.1 433.5,307.0 Z" fill="#cc14be" stroke="#2a0428" stroke-width="0.7"/>
<path d="M467.8,338.7 Q476.1,323.7 459.2,320.4 Q467.3,327.8 467.8,338.7 Z" fill="#d820cc" stroke="#2a0428" stroke-width="0.7"/>
<path d="M488.6,283.6 Q493.6,305.7 510.1,290.2 Q497.7,292.5 488.6,283.6 Z" fill="#a80c9e" stroke="#2a0428" stroke-width="0.7"/>
<path d="M489.1,321.2 Q472.4,325.0 484.7,337.0 Q482.5,327.9 489.1,321.2 Z" fill="#a80c9e" stroke="#2a0428" stroke-width="0.7"/>
<path d="M493.6,314.8 Q472.9,322.3 490.6,335.5 Q486.3,324.3 493.6,314.8 Z" fill="#d41ac6" stroke="#2a0428" stroke-width="0.7"/>
<path d="M457.8,326.8 Q465.8,311.5 448.6,310.2 Q457.0,316.4 457.8,326.8 Z" fill="#cc14be" stroke="#2a0428" stroke-width="0.7"/>
<path d="M441.3,300.6 Q458.9,312.3 455.5,291.4 Q451.5,300.9 441.3,300.6 Z" fill="#d41ac6" stroke="#2a0428" stroke-width="0.7"/>
<path d="M463.0,329.7 Q481.6,322.9 465.7,311.1 Q469.5,321.2 463.0,329.7 Z" fill="#940a8c" stroke="#2a0428" stroke-width="0.7"/>
<path d="M515.7,299.0 Q502.2,307.4 513.3,318.8 Q510.8,308.4 515.7,299.0 Z" fill="#940a8c" stroke="#2a0428" stroke-width="0.7"/>
<path d="M483.5,271.7 Q488.7,291.4 506.6,281.8 Q493.2,281.1 483.5,271.7 Z" fill="#cc14be" stroke="#2a0428" stroke-width="0.7"/>
<path d="M427.0,323.4 Q447.0,326.6 440.6,307.4 Q437.8,318.8 427.0,323.4 Z" fill="#d820cc" stroke="#2a0428" stroke-width="0.7"/>
<path d="M527.7,330.0 Q511.5,323.0 508.7,340.4 Q516.2,331.5 527.7,330.0 Z" fill="#d41ac6" stroke="#2a0428" stroke-width="0.7"/>
<path d="M488.5,311.8 Q469.6,324.8 486.2,340.7 Q482.0,325.8 488.5,311.8 Z" fill="#b40ea8" stroke="#2a0428" stroke-width="0.7"/>
<path d="M424.1,329.2 Q442.6,320.3 431.8,303.0 Q432.4,317.3 424.1,329.2 Z" fill="#d41ac6" stroke="#2a0428" stroke-width="0.7"/>
<path d="M472.8,306.6 Q484.6,319.6 499.2,309.9 Q485.6,311.6 472.8,306.6 Z" fill="#940a8c" stroke="#2a0428" stroke-width="0.7"/>
<path d="M452.1,274.0 Q463.4,287.4 475.4,274.6 Q463.7,278.2 452.1,274.0 Z" fill="#d41ac6" stroke="#2a0428" stroke-width="0.7"/>
<path d="M471.8,350.3 Q475.4,333.2 459.1,327.1 Q468.4,337.0 471.8,350.3 Z" fill="#a80c9e" stroke="#2a0428" stroke-width="0.7"/>
<path d="M427.5,332.3 Q449.0,327.7 441.1,307.2 Q438.7,322.1 427.5,332.3 Z" fill="#940a8c" stroke="#2a0428" stroke-width="0.7"/>
<path d="M490.7,363.0 Q474.5,347.4 465.3,367.9 Q477.0,360.0 490.7,363.0 Z" fill="#cc14be" stroke="#2a0428" stroke-width="0.7"/>
<path d="M502.1,336.3 Q488.1,324.9 474.7,337.1 Q488.3,333.2 502.1,336.3 Z" fill="#a80c9e" stroke="#2a0428" stroke-width="0.7"/>
<path d="M513.3,324.7 Q494.1,317.1 488.2,336.8 Q498.8,326.7 513.3,324.7 Z" fill="#bc10b0" stroke="#2a0428" stroke-width="0.7"/>
<path d="M494.9,303.1 Q482.8,318.6 499.0,329.7 Q492.7,317.1 494.9,303.1 Z" fill="#d820cc" stroke="#2a0428" stroke-width="0.7"/>
<path d="M483.1,364.4 Q469.9,347.9 463.4,368.1 Q472.3,360.8 483.1,364.4 Z" fill="#a80c9e" stroke="#2a0428" stroke-width="0.7"/>
<path d="M494.0,289.3 Q495.9,311.3 516.7,304.0 Q502.5,301.0 494.0,289.3 Z" fill="#a80c9e" stroke="#2a0428" stroke-width="0.7"/>
<path d="M502.7,293.6 Q496.3,311.2 514.2,316.8 Q504.8,307.0 502.7,293.6 Z" fill="#a80c9e" stroke="#2a0428" stroke-width="0.7"/>
<path d="M449.6,297.3 Q468.5,289.4 464.6,269.4 Q460.5,285.2 449.6,297.3 Z" fill="#c010b4" stroke="#2a0428" stroke-width="0.7"/>
<path d="M488.1,267.7 Q484.9,284.9 500.9,277.7 Q491.6,276.4 488.1,267.7 Z" fill="#cc14be" stroke="#2a0428" stroke-width="0.7"/>
<path d="M460.3,349.5 Q464.7,324.7 439.6,325.4 Q454.4,333.6 460.3,349.5 Z" fill="#a80c9e" stroke="#2a0428" stroke-width="0.7"/>
<path d="M507.3,320.1 Q487.3,325.9 492.0,346.2 Q495.9,331.0 507.3,320.1 Z" fill="#a80c9e" stroke="#2a0428" stroke-width="0.7"/>
<path d="M428.4,310.9 Q446.4,301.8 438.5,283.2 Q437.4,298.5 428.4,310.9 Z" fill="#d41ac6" stroke="#2a0428" stroke-width="0.7"/>
<path d="M458.2,346.7 Q456.3,323.3 434.1,331.0 Q449.2,334.2 458.2,346.7 Z" fill="#b40ea8" stroke="#2a0428" stroke-width="0.7"/>
<path d="M476.5,306.1 Q466.0,324.2 486.5,320.2 Q476.9,316.5 476.5,306.1 Z" fill="#d820cc" stroke="#2a0428" stroke-width="0.7"/>
<path d="M507.2,339.7 Q488.5,333.5 486.7,353.1 Q494.4,342.5 507.2,339.7 Z" fill="#c010b4" stroke="#2a0428" stroke-width="0.7"/>
<path d="M495.9,323.3 Q479.1,326.8 479.8,344.0 Q485.2,331.6 495.9,323.3 Z" fill="#bc10b0" stroke="#2a0428" stroke-width="0.7"/>
<path d="M459.0,311.7 Q478.5,305.6 472.9,285.9 Q469.7,300.8 459.0,311.7 Z" fill="#c010b4" stroke="#2a0428" stroke-width="0.7"/>
<path d="M490.4,308.5 Q469.8,315.1 480.8,333.7 Q480.9,319.3 490.4,308.5 Z" fill="#a80c9e" stroke="#2a0428" stroke-width="0.7"/>
<path d="M500.3,312.5 Q487.4,322.4 500.2,332.5 Q496.4,322.5 500.3,312.5 Z" fill="#d820cc" stroke="#2a0428" stroke-width="0.7"/>
<path d="M460.7,291.5 Q480.2,291.4 482.5,272.0 Q474.2,284.6 460.7,291.5 Z" fill="#cc14be" stroke="#2a0428" stroke-width="0.7"/>
<path d="M458.0,278.4 Q470.7,290.2 484.3,279.6 Q471.0,282.4 458.0,278.4 Z" fill="#c010b4" stroke="#2a0428" stroke-width="0.7"/>
<path d="M450.2,331.4 Q473.7,326.8 462.8,305.4 Q461.7,320.9 450.2,331.4 Z" fill="#cc14be" stroke="#2a0428" stroke-width="0.7"/>
<path d="M497.1,365.1 Q492.3,342.8 474.1,356.5 Q487.6,355.4 497.1,365.1 Z" fill="#940a8c" stroke="#2a0428" stroke-width="0.7"/>
<path d="M440.3,362.8 Q450.3,347.6 438.1,334.2 Q442.5,348.2 440.3,362.8 Z" fill="#c010b4" stroke="#2a0428" stroke-width="0.7"/>
<path d="M493.1,330.4 Q472.4,333.1 484.0,350.5 Q483.7,338.2 493.1,330.4 Z" fill="#a80c9e" stroke="#2a0428" stroke-width="0.7"/>
<path d="M510.8,292.6 Q489.9,300.2 508.8,311.8 Q503.8,301.6 510.8,292.6 Z" fill="#940a8c" stroke="#2a0428" stroke-width="0.7"/>
<path d="M475.1,268.2 Q475.9,284.2 491.8,282.1 Q481.2,277.8 475.1,268.2 Z" fill="#d41ac6" stroke="#2a0428" stroke-width="0.7"/>
<path d="M441.2,309.9 Q463.0,312.6 463.9,290.6 Q455.7,304.0 441.2,309.9 Z" fill="#cc14be" stroke="#2a0428" stroke-width="0.7"/>
<path d="M515.0,276.3 Q500.8,295.3 521.2,307.4 Q512.9,292.9 515.0,276.3 Z" fill="#bc10b0" stroke="#2a0428" stroke-width="0.7"/>
<path d="M499.7,346.7 Q479.6,340.6 470.5,359.5 Q483.4,349.3 499.7,346.7 Z" fill="#a80c9e" stroke="#2a0428" stroke-width="0.7"/>
<path d="M492.7,352.0 Q481.0,332.5 464.6,348.2 Q479.4,344.8 492.7,352.0 Z" fill="#d820cc" stroke="#2a0428" stroke-width="0.7"/>
<path d="M487.8,348.6 Q474.0,337.2 464.2,352.2 Q475.4,346.4 487.8,348.6 Z" fill="#b40ea8" stroke="#2a0428" stroke-width="0.7"/>
<path d="M498.8,354.7 Q482.1,348.3 478.7,365.9 Q486.8,356.7 498.8,354.7 Z" fill="#a80c9e" stroke="#2a0428" stroke-width="0.7"/>
<path d="M459.9,271.3 Q473.8,278.7 481.3,264.9 Q471.6,271.3 459.9,271.3 Z" fill="#940a8c" stroke="#2a0428" stroke-width="0.7"/>
<path d="M431.8,304.3 Q449.9,295.5 432.9,284.7 Q437.6,294.8 431.8,304.3 Z" fill="#b40ea8" stroke="#2a0428" stroke-width="0.7"/>
<path d="M463.8,309.4 Q471.4,324.3 481.8,311.2 Q472.4,314.5 463.8,309.4 Z" fill="#c010b4" stroke="#2a0428" stroke-width="0.7"/>
<path d="M453.3,354.5 Q462.1,333.0 439.0,331.5 Q450.9,340.0 453.3,354.5 Z" fill="#bc10b0" stroke="#2a0428" stroke-width="0.7"/>
<path d="M464.4,348.6 Q476.8,327.9 453.4,322.0 Q464.3,333.1 464.4,348.6 Z" fill="#d820cc" stroke="#2a0428" stroke-width="0.7"/>
<path d="M440.4,307.8 Q458.9,313.0 465.1,294.8 Q454.6,304.8 440.4,307.8 Z" fill="#a80c9e" stroke="#2a0428" stroke-width="0.7"/>
<path d="M511.8,342.6 Q492.9,346.2 496.8,365.0 Q500.9,351.5 511.8,342.6 Z" fill="#d820cc" stroke="#2a0428" stroke-width="0.7"/>
<path d="M453.0,326.7 Q468.5,321.1 463.8,305.3 Q461.4,317.5 453.0,326.7 Z" fill="#c010b4" stroke="#2a0428" stroke-width="0.7"/>
<path d="M494.8,294.9 Q503.3,313.0 522.1,306.1 Q506.9,304.2 494.8,294.9 Z" fill="#940a8c" stroke="#2a0428" stroke-width="0.7"/>
<path d="M456.2,298.7 Q478.8,298.2 475.7,275.8 Q469.8,290.5 456.2,298.7 Z" fill="#cc14be" stroke="#2a0428" stroke-width="0.7"/>
<path d="M503.8,305.6 Q485.4,312.9 497.6,328.5 Q496.1,315.8 503.8,305.6 Z" fill="#c010b4" stroke="#2a0428" stroke-width="0.7"/>
<path d="M468.1,329.5 Q484.3,323.6 471.8,311.7 Q474.2,321.5 468.1,329.5 Z" fill="#b40ea8" stroke="#2a0428" stroke-width="0.7"/>
<path d="M446.9,298.4 Q466.0,306.0 461.9,285.8 Q457.9,296.3 446.9,298.4 Z" fill="#cc14be" stroke="#2a0428" stroke-width="0.7"/>
<path d="M498.8,266.9 Q487.7,287.9 511.1,292.5 Q499.8,282.2 498.8,266.9 Z" fill="#bc10b0" stroke="#2a0428" stroke-width="0.7"/>
<path d="M475.7,333.0 Q464.1,316.7 455.4,334.7 Q465.1,328.7 475.7,333.0 Z" fill="#940a8c" stroke="#2a0428" stroke-width="0.7"/>
<path d="M486.3,322.7 Q468.8,315.1 471.7,333.9 Q475.9,324.4 486.3,322.7 Z" fill="#a80c9e" stroke="#2a0428" stroke-width="0.7"/>
<path d="M488.5,332.8 Q477.7,319.5 470.8,335.2 Q479.0,329.7 488.5,332.8 Z" fill="#bc10b0" stroke="#2a0428" stroke-width="0.7"/>
<path d="M497.2,355.6 Q485.6,344.8 480.3,359.7 Q487.8,353.8 497.2,355.6 Z" fill="#bc10b0" stroke="#2a0428" stroke-width="0.7"/>
<path d="M492.1,356.0 Q484.0,334.3 463.3,344.8 Q479.6,345.6 492.1,356.0 Z" fill="#cc14be" stroke="#2a0428" stroke-width="0.7"/>
<path d="M439.7,359.7 Q455.6,342.7 434.3,333.2 Q442.6,345.3 439.7,359.7 Z" fill="#d41ac6" stroke="#2a0428" stroke-width="0.7"/>
<path d="M520.9,314.9 Q499.4,313.9 501.3,335.4 Q507.6,321.8 520.9,314.9 Z" fill="#a80c9e" stroke="#2a0428" stroke-width="0.7"/>
<path d="M521.4,318.9 Q503.2,318.1 509.6,335.2 Q511.8,324.4 521.4,318.9 Z" fill="#940a8c" stroke="#2a0428" stroke-width="0.7"/>
<path d="M457.1,327.0 Q473.6,313.2 456.3,300.4 Q461.8,313.6 457.1,327.0 Z" fill="#d41ac6" stroke="#2a0428" stroke-width="0.7"/>
<path d="M488.9,297.9 Q492.5,317.5 511.1,310.2 Q497.8,308.1 488.9,297.9 Z" fill="#a80c9e" stroke="#2a0428" stroke-width="0.7"/>
<path d="M468.4,300.5 Q481.2,314.7 485.6,296.1 Q478.3,303.2 468.4,300.5 Z" fill="#b40ea8" stroke="#2a0428" stroke-width="0.7"/>
<path d="M482.3,297.3 Q470.7,315.2 489.3,325.7 Q481.3,312.6 482.3,297.3 Z" fill="#bc10b0" stroke="#2a0428" stroke-width="0.7"/>
<path d="M444.3,299.8 Q460.8,302.7 461.1,285.9 Q455.1,295.8 444.3,299.8 Z" fill="#b40ea8" stroke="#2a0428" stroke-width="0.7"/>
<path d="M440.1,300.6 Q457.8,297.0 458.4,279.0 Q451.8,292.0 440.1,300.6 Z" fill="#d820cc" stroke="#2a0428" stroke-width="0.7"/>
<ellipse cx="476.6" cy="317.6" rx="46" ry="45.5" fill="url(#flshade)"/>
</g>
<circle cx="33.5" cy="394.8" r="4.8" fill="url(#blueball)"/>
<text x="43.6" y="398.5" font-family='"Liberation Serif", serif' font-size="12" fill="#2e2626" stroke="#2e2626" stroke-width="0.25">Titania oligomer</text>
<circle cx="135.2" cy="394.5" r="6.5" fill="url(#micel)"/>
<text x="149.8" y="398.5" font-family='"Liberation Serif", serif' font-size="12" fill="#2e2626" stroke="#2e2626" stroke-width="0.25">Spherical micelle</text>
<circle cx="248" cy="395.7" r="6.6" fill="none" stroke="#d020c8" stroke-width="2.4"/>
<text x="259" y="398.5" font-family='"Liberation Serif", serif' font-size="12" fill="#2e2626" stroke="#2e2626" stroke-width="0.25">Glycerol</text>
<defs><linearGradient id="dbg" x1="0" y1="0" x2="1" y2="0"><stop offset="0" stop-color="#9aaee0"/><stop offset="0.2" stop-color="#c0caea"/><stop offset="0.42" stop-color="#e2e5f1"/><stop offset="0.6" stop-color="#e6e8f2"/><stop offset="0.8" stop-color="#c2ceec"/><stop offset="1" stop-color="#8ca3da"/></linearGradient><linearGradient id="dbgv" x1="0" y1="0" x2="0" y2="1"><stop offset="0" stop-color="#ffffff" stop-opacity="0.0"/><stop offset="0.6" stop-color="#c8d0ee" stop-opacity="0.15"/><stop offset="1" stop-color="#b8c2ea" stop-opacity="0.55"/></linearGradient><linearGradient id="disk1side" x1="0" y1="0" x2="0" y2="1"><stop offset="0" stop-color="#b4def0"/><stop offset="1" stop-color="#c8e8f4"/></linearGradient><linearGradient id="disk2side" x1="0" y1="0" x2="0" y2="1"><stop offset="0" stop-color="#5a6464"/><stop offset="1" stop-color="#7e8888"/></linearGradient><pattern id="vstripe" width="3" height="10" patternUnits="userSpaceOnUse"><rect width="1" height="10" fill="#e8f6fb"/></pattern><pattern id="vstripe2" width="3" height="10" patternUnits="userSpaceOnUse"><rect width="1" height="10" fill="#3c4646"/></pattern><pattern id="speck" width="5" height="4" patternUnits="userSpaceOnUse"><circle cx="1.2" cy="1.2" r="0.8" fill="#e0f4fc"/><circle cx="3.8" cy="3" r="0.8" fill="#88bcd4"/></pattern></defs>
<rect x="14.5" y="414.5" width="527.5" height="204.5" fill="url(#dbg)"/>
<rect x="14.5" y="414.5" width="527.5" height="204.5" fill="url(#dbgv)"/>
<text x="17" y="431.2" font-family='"Liberation Sans", sans-serif' font-size="18.2" font-weight="bold" fill="#111">(d)</text>
<path d="M22.5,526 L22.5,549 A108,24 0 0 0 238.5,549 L238.5,526 Z" fill="url(#disk1side)"/>
<clipPath id="side1clip"><path d="M22.5,526 L22.5,549 A108,24 0 0 0 238.5,549 L238.5,526 Z"/></clipPath><g clip-path="url(#side1clip)">
<rect x="22.5" y="526" width="1.4" height="49" fill="#e4f4fa" opacity="0.43"/>
<rect x="25.7" y="526" width="1.8" height="49" fill="#d8eff7" opacity="0.45"/>
<rect x="29.7" y="526" width="0.7" height="49" fill="#a8d4e6" opacity="0.36"/>
<rect x="32.0" y="526" width="0.7" height="49" fill="#d8eff7" opacity="0.56"/>
<rect x="33.7" y="526" width="1.3" height="49" fill="#e4f4fa" opacity="0.57"/>
<rect x="36.3" y="526" width="1.1" height="49" fill="#e4f4fa" opacity="0.53"/>
<rect x="39.3" y="526" width="0.7" height="49" fill="#a8d4e6" opacity="0.51"/>
<rect x="41.8" y="526" width="1.4" height="49" fill="#d8eff7" opacity="0.45"/>
<rect x="45.2" y="526" width="0.8" height="49" fill="#a8d4e6" opacity="0.33"/>
<rect x="48.1" y="526" width="1.5" height="49" fill="#9ccde0" opacity="0.39"/>
<rect x="50.8" y="526" width="1.4" height="49" fill="#e4f4fa" opacity="0.44"/>
<rect x="54.1" y="526" width="1.7" height="49" fill="#a8d4e6" opacity="0.46"/>
<rect x="57.9" y="526" width="1.6" height="49" fill="#a8d4e6" opacity="0.38"/>
<rect x="62.3" y="526" width="1.6" height="49" fill="#e4f4fa" opacity="0.34"/>
<rect x="64.9" y="526" width="1.1" height="49" fill="#e4f4fa" opacity="0.49"/>
<rect x="68.3" y="526" width="1.7" height="49" fill="#a8d4e6" opacity="0.35"/>
<rect x="71.8" y="526" width="1.5" height="49" fill="#a8d4e6" opacity="0.40"/>
<rect x="74.9" y="526" width="1.5" height="49" fill="#e4f4fa" opacity="0.32"/>
<rect x="78.8" y="526" width="1.5" height="49" fill="#e4f4fa" opacity="0.41"/>
<rect x="82.3" y="526" width="1.1" height="49" fill="#e4f4fa" opacity="0.31"/>
<rect x="85.7" y="526" width="0.7" height="49" fill="#9ccde0" opacity="0.31"/>
<rect x="88.0" y="526" width="1.2" height="49" fill="#e4f4fa" opacity="0.32"/>
<rect x="91.1" y="526" width="1.8" height="49" fill="#e4f4fa" opacity="0.40"/>
<rect x="95.8" y="526" width="0.8" height="49" fill="#a8d4e6" opacity="0.47"/>
<rect x="98.1" y="526" width="1.4" height="49" fill="#e4f4fa" opacity="0.45"/>
<rect x="101.7" y="526" width="1.8" height="49" fill="#9ccde0" opacity="0.34"/>
<rect x="105.0" y="526" width="0.6" height="49" fill="#d8eff7" opacity="0.48"/>
<rect x="107.1" y="526" width="0.8" height="49" fill="#a8d4e6" opacity="0.51"/>
<rect x="109.2" y="526" width="1.0" height="49" fill="#d8eff7" opacity="0.45"/>
<rect x="112.6" y="526" width="1.5" height="49" fill="#d8eff7" opacity="0.47"/>
<rect x="116.5" y="526" width="0.9" height="49" fill="#a8d4e6" opacity="0.54"/>
<rect x="120.3" y="526" width="1.6" height="49" fill="#9ccde0" opacity="0.30"/>
<rect x="123.8" y="526" width="1.7" height="49" fill="#e4f4fa" opacity="0.34"/>
<rect x="127.5" y="526" width="1.1" height="49" fill="#d8eff7" opacity="0.37"/>
<rect x="129.9" y="526" width="1.6" height="49" fill="#d8eff7" opacity="0.59"/>
<rect x="132.7" y="526" width="1.4" height="49" fill="#a8d4e6" opacity="0.39"/>
<rect x="135.2" y="526" width="1.0" height="49" fill="#d8eff7" opacity="0.40"/>
<rect x="138.2" y="526" width="1.5" height="49" fill="#e4f4fa" opacity="0.35"/>
<rect x="141.2" y="526" width="1.8" height="49" fill="#a8d4e6" opacity="0.26"/>
<rect x="144.3" y="526" width="1.2" height="49" fill="#e4f4fa" opacity="0.50"/>
<rect x="147.5" y="526" width="1.6" height="49" fill="#a8d4e6" opacity="0.27"/>
<rect x="151.5" y="526" width="1.3" height="49" fill="#9ccde0" opacity="0.44"/>
<rect x="155.0" y="526" width="0.6" height="49" fill="#9ccde0" opacity="0.30"/>
<rect x="157.2" y="526" width="1.3" height="49" fill="#a8d4e6" opacity="0.29"/>
<rect x="160.9" y="526" width="1.0" height="49" fill="#a8d4e6" opacity="0.45"/>
<rect x="163.5" y="526" width="1.5" height="49" fill="#9ccde0" opacity="0.34"/>
<rect x="166.8" y="526" width="1.7" height="49" fill="#9ccde0" opacity="0.44"/>
<rect x="171.3" y="526" width="0.7" height="49" fill="#a8d4e6" opacity="0.29"/>
<rect x="173.3" y="526" width="0.7" height="49" fill="#9ccde0" opacity="0.39"/>
<rect x="175.6" y="526" width="1.0" height="49" fill="#a8d4e6" opacity="0.27"/>
<rect x="178.4" y="526" width="1.3" height="49" fill="#d8eff7" opacity="0.44"/>
<rect x="180.9" y="526" width="1.1" height="49" fill="#9ccde0" opacity="0.49"/>
<rect x="183.5" y="526" width="1.1" height="49" fill="#a8d4e6" opacity="0.28"/>
<rect x="187.1" y="526" width="1.1" height="49" fill="#e4f4fa" opacity="0.45"/>
<rect x="191.2" y="526" width="0.6" height="49" fill="#9ccde0" opacity="0.54"/>
<rect x="194.7" y="526" width="0.9" height="49" fill="#a8d4e6" opacity="0.31"/>
<rect x="197.7" y="526" width="0.9" height="49" fill="#a8d4e6" opacity="0.40"/>
<rect x="199.7" y="526" width="0.7" height="49" fill="#a8d4e6" opacity="0.53"/>
<rect x="201.9" y="526" width="1.5" height="49" fill="#a8d4e6" opacity="0.58"/>
<rect x="206.4" y="526" width="0.9" height="49" fill="#9ccde0" opacity="0.52"/>
<rect x="209.4" y="526" width="1.0" height="49" fill="#e4f4fa" opacity="0.28"/>
<rect x="212.7" y="526" width="1.7" height="49" fill="#a8d4e6" opacity="0.27"/>
<rect x="215.5" y="526" width="1.6" height="49" fill="#a8d4e6" opacity="0.36"/>
<rect x="220.1" y="526" width="0.9" height="49" fill="#9ccde0" opacity="0.29"/>
<rect x="223.2" y="526" width="0.7" height="49" fill="#9ccde0" opacity="0.29"/>
<rect x="225.5" y="526" width="1.0" height="49" fill="#a8d4e6" opacity="0.29"/>
<rect x="229.5" y="526" width="1.5" height="49" fill="#9ccde0" opacity="0.26"/>
<rect x="232.4" y="526" width="1.5" height="49" fill="#a8d4e6" opacity="0.36"/>
<rect x="235.3" y="526" width="1.2" height="49" fill="#e4f4fa" opacity="0.26"/>
</g>
<path d="M22.5,549 A108,24 0 0 0 238.5,549" fill="none" stroke="#9ccfe0" stroke-width="1.2"/>
<ellipse cx="130.5" cy="526" rx="108" ry="24" fill="#acd9ec"/>
<ellipse cx="130.5" cy="526" rx="108" ry="24" fill="url(#speck)" opacity="0.6"/>
<path d="M323.59999999999997,520 L323.59999999999997,548.5 A108.8,22.5 0 0 0 541.1999999999999,548.5 L541.1999999999999,520 Z" fill="url(#disk2side)"/>
<clipPath id="side2clip"><path d="M323.59999999999997,520 L323.59999999999997,548.5 A108.8,22.5 0 0 0 541.1999999999999,548.5 L541.1999999999999,520 Z"/></clipPath><g clip-path="url(#side2clip)">
<rect x="323.6" y="520" width="1.4" height="53.0" fill="#5a6464" opacity="0.44"/>
<rect x="326.8" y="520" width="1.8" height="53.0" fill="#505a5a" opacity="0.35"/>
<rect x="329.9" y="520" width="0.6" height="53.0" fill="#96a0a0" opacity="0.39"/>
<rect x="332.6" y="520" width="2.0" height="53.0" fill="#5a6464" opacity="0.34"/>
<rect x="337.2" y="520" width="1.8" height="53.0" fill="#889292" opacity="0.45"/>
<rect x="340.2" y="520" width="1.9" height="53.0" fill="#889292" opacity="0.20"/>
<rect x="344.8" y="520" width="1.5" height="53.0" fill="#889292" opacity="0.25"/>
<rect x="347.6" y="520" width="1.7" height="53.0" fill="#4a5454" opacity="0.24"/>
<rect x="350.6" y="520" width="2.1" height="53.0" fill="#96a0a0" opacity="0.34"/>
<rect x="355.2" y="520" width="1.7" height="53.0" fill="#96a0a0" opacity="0.39"/>
<rect x="360.2" y="520" width="0.6" height="53.0" fill="#5a6464" opacity="0.32"/>
<rect x="364.0" y="520" width="1.8" height="53.0" fill="#4a5454" opacity="0.44"/>
<rect x="367.8" y="520" width="1.8" height="53.0" fill="#96a0a0" opacity="0.22"/>
<rect x="372.0" y="520" width="2.1" height="53.0" fill="#505a5a" opacity="0.44"/>
<rect x="375.3" y="520" width="0.7" height="53.0" fill="#5a6464" opacity="0.21"/>
<rect x="378.5" y="520" width="1.5" height="53.0" fill="#505a5a" opacity="0.42"/>
<rect x="381.6" y="520" width="1.1" height="53.0" fill="#5a6464" opacity="0.25"/>
<rect x="384.5" y="520" width="2.1" height="53.0" fill="#505a5a" opacity="0.38"/>
<rect x="388.4" y="520" width="0.7" height="53.0" fill="#5a6464" opacity="0.16"/>
<rect x="391.9" y="520" width="1.4" height="53.0" fill="#4a5454" opacity="0.37"/>
<rect x="395.1" y="520" width="0.7" height="53.0" fill="#96a0a0" opacity="0.16"/>
<rect x="398.2" y="520" width="1.7" height="53.0" fill="#96a0a0" opacity="0.30"/>
<rect x="403.3" y="520" width="2.2" height="53.0" fill="#96a0a0" opacity="0.20"/>
<rect x="408.9" y="520" width="2.1" height="53.0" fill="#4a5454" opacity="0.42"/>
<rect x="412.2" y="520" width="2.2" height="53.0" fill="#5a6464" opacity="0.39"/>
<rect x="417.7" y="520" width="1.9" height="53.0" fill="#4a5454" opacity="0.20"/>
<rect x="421.6" y="520" width="1.7" height="53.0" fill="#5a6464" opacity="0.40"/>
<rect x="426.0" y="520" width="1.2" height="53.0" fill="#4a5454" opacity="0.31"/>
<rect x="429.6" y="520" width="2.2" height="53.0" fill="#889292" opacity="0.31"/>
<rect x="433.4" y="520" width="0.9" height="53.0" fill="#5a6464" opacity="0.16"/>
<rect x="437.5" y="520" width="1.5" height="53.0" fill="#96a0a0" opacity="0.22"/>
<rect x="441.0" y="520" width="1.6" height="53.0" fill="#4a5454" opacity="0.44"/>
<rect x="445.5" y="520" width="1.0" height="53.0" fill="#5a6464" opacity="0.40"/>
<rect x="449.9" y="520" width="1.6" height="53.0" fill="#505a5a" opacity="0.32"/>
<rect x="453.5" y="520" width="2.0" height="53.0" fill="#5a6464" opacity="0.44"/>
<rect x="457.0" y="520" width="2.1" height="53.0" fill="#889292" opacity="0.33"/>
<rect x="461.0" y="520" width="2.2" height="53.0" fill="#889292" opacity="0.24"/>
<rect x="465.1" y="520" width="1.5" height="53.0" fill="#505a5a" opacity="0.18"/>
<rect x="467.7" y="520" width="2.1" height="53.0" fill="#505a5a" opacity="0.38"/>
<rect x="471.9" y="520" width="1.3" height="53.0" fill="#505a5a" opacity="0.19"/>
<rect x="475.6" y="520" width="1.3" height="53.0" fill="#5a6464" opacity="0.23"/>
<rect x="480.4" y="520" width="1.9" height="53.0" fill="#96a0a0" opacity="0.25"/>
<rect x="484.1" y="520" width="0.7" height="53.0" fill="#4a5454" opacity="0.31"/>
<rect x="487.6" y="520" width="0.6" height="53.0" fill="#96a0a0" opacity="0.36"/>
<rect x="490.0" y="520" width="0.9" height="53.0" fill="#4a5454" opacity="0.38"/>
<rect x="494.0" y="520" width="2.2" height="53.0" fill="#96a0a0" opacity="0.31"/>
<rect x="499.0" y="520" width="1.0" height="53.0" fill="#4a5454" opacity="0.41"/>
<rect x="503.0" y="520" width="1.3" height="53.0" fill="#4a5454" opacity="0.37"/>
<rect x="505.4" y="520" width="2.2" height="53.0" fill="#5a6464" opacity="0.23"/>
<rect x="509.4" y="520" width="1.5" height="53.0" fill="#96a0a0" opacity="0.27"/>
<rect x="511.9" y="520" width="1.8" height="53.0" fill="#5a6464" opacity="0.17"/>
<rect x="516.6" y="520" width="1.9" height="53.0" fill="#5a6464" opacity="0.25"/>
<rect x="519.8" y="520" width="0.8" height="53.0" fill="#889292" opacity="0.43"/>
<rect x="523.6" y="520" width="1.3" height="53.0" fill="#5a6464" opacity="0.22"/>
<rect x="527.6" y="520" width="1.1" height="53.0" fill="#889292" opacity="0.29"/>
<rect x="530.0" y="520" width="1.4" height="53.0" fill="#505a5a" opacity="0.20"/>
<rect x="533.2" y="520" width="1.3" height="53.0" fill="#505a5a" opacity="0.42"/>
<rect x="537.4" y="520" width="1.6" height="53.0" fill="#889292" opacity="0.35"/>
<rect x="540.4" y="520" width="1.5" height="53.0" fill="#5a6464" opacity="0.30"/>
</g>
<path d="M323.59999999999997,548.5 A108.8,22.5 0 0 0 541.1999999999999,548.5" fill="none" stroke="#a0b0b0" stroke-width="1.4"/>
<ellipse cx="432.4" cy="520" rx="108.8" ry="22.5" fill="#4c5a5e" stroke="#7c8c90" stroke-width="1"/>
<ellipse cx="372.4" cy="517.6" rx="7.8" ry="4.3" fill="#848e90"/>
<ellipse cx="402.6" cy="509.5" rx="7.8" ry="4.3" fill="#848e90"/>
<ellipse cx="459" cy="509.5" rx="7.8" ry="4.3" fill="#848e90"/>
<ellipse cx="491.8" cy="508.6" rx="7.8" ry="4.3" fill="#848e90"/>
<ellipse cx="386.3" cy="530" rx="7.8" ry="4.3" fill="#848e90"/>
<ellipse cx="410.8" cy="524.2" rx="7.8" ry="4.3" fill="#848e90"/>
<ellipse cx="438.7" cy="529" rx="7.8" ry="4.3" fill="#848e90"/>
<ellipse cx="479.6" cy="527" rx="7.8" ry="4.3" fill="#848e90"/>
<ellipse cx="430.5" cy="512.7" rx="7.8" ry="4.3" fill="#848e90"/>
<ellipse cx="350" cy="525" rx="7.8" ry="4.3" fill="#848e90"/>
<ellipse cx="515" cy="518" rx="7.8" ry="4.3" fill="#848e90"/>
<ellipse cx="460" cy="535" rx="7.8" ry="4.3" fill="#848e90"/>
<rect x="239" y="518" width="67" height="6.5" fill="#111"/>
<path d="M305,512.2 L322.6,521.2 L305,530 Z" fill="#111"/>
<text x="119" y="596" font-family='"Liberation Sans", sans-serif' font-size="14" font-weight="bold" fill="#1a1a1a" text-anchor="middle">Step1:</text>
<text x="117" y="611.4" font-family='"Liberation Sans", sans-serif' font-size="14" font-weight="bold" fill="#1a1a1a" text-anchor="middle">adsorption process</text>
<text x="273.5" y="595.3" font-family='"Liberation Sans", sans-serif' font-size="14" font-weight="bold" fill="#1a1a1a" text-anchor="middle">Step2:</text>
<text x="277.8" y="610.8" font-family='"Liberation Sans", sans-serif' font-size="14" font-weight="bold" fill="#1a1a1a" text-anchor="middle">hydrolysis of COS</text>
<text x="431" y="596" font-family='"Liberation Sans", sans-serif' font-size="14" font-weight="bold" fill="#1a1a1a" text-anchor="middle">Step3:</text>
<text x="433.7" y="612.2" font-family='"Liberation Sans", sans-serif' font-size="14" font-weight="bold" fill="#1a1a1a" text-anchor="middle">oxidation and deposition</text>
<text x="278.3" y="546.8" font-family='"Liberation Sans", sans-serif' font-size="13.5" font-weight="bold" fill="#1a1a1a" text-anchor="middle">hydrolysis</text>
<text x="253.6" y="509.3" font-family='"Liberation Sans", sans-serif' font-size="14" fill="#222" stroke="#222" stroke-width="0.35" text-anchor="middle">[OH]</text>
<defs><radialGradient id="gY" cx="0.4" cy="0.38" r="0.65"><stop offset="0" stop-color="#fff8c0"/><stop offset="0.45" stop-color="#f5c518"/><stop offset="0.85" stop-color="#d09000"/><stop offset="1" stop-color="#8a5a00"/></radialGradient><radialGradient id="gR" cx="0.4" cy="0.38" r="0.65"><stop offset="0" stop-color="#ffd0d0"/><stop offset="0.45" stop-color="#e83030"/><stop offset="0.85" stop-color="#b01818"/><stop offset="1" stop-color="#6a0808"/></radialGradient><radialGradient id="gC" cx="0.4" cy="0.38" r="0.65"><stop offset="0" stop-color="#f0f0f0"/><stop offset="0.45" stop-color="#999999"/><stop offset="0.85" stop-color="#6a6a6a"/><stop offset="1" stop-color="#3a3a3a"/></radialGradient><radialGradient id="gH" cx="0.4" cy="0.38" r="0.65"><stop offset="0" stop-color="#e4eaff"/><stop offset="0.45" stop-color="#8296d4"/><stop offset="0.85" stop-color="#5568a8"/><stop offset="1" stop-color="#34446e"/></radialGradient></defs>
<circle cx="240.9" cy="440.6" r="5.6" fill="url(#gY)"/>
<text x="240.9" y="465" font-family='"Liberation Sans", sans-serif' font-size="13.5" font-weight="bold" fill="#1a1a1a" text-anchor="middle">S</text>
<circle cx="259.6" cy="440.6" r="5.6" fill="url(#gR)"/>
<text x="259.6" y="465" font-family='"Liberation Sans", sans-serif' font-size="13.5" font-weight="bold" fill="#1a1a1a" text-anchor="middle">O</text>
<circle cx="279.0" cy="440.6" r="5.6" fill="url(#gC)"/>
<text x="279" y="465" font-family='"Liberation Sans", sans-serif' font-size="13.5" font-weight="bold" fill="#1a1a1a" text-anchor="middle">C</text>
<circle cx="298.7" cy="440.6" r="5.6" fill="url(#gH)"/>
<text x="298.7" y="465" font-family='"Liberation Sans", sans-serif' font-size="13.5" font-weight="bold" fill="#1a1a1a" text-anchor="middle">H</text>
<ellipse cx="61.2" cy="530.3" rx="6.5" ry="3.8" fill="none" stroke="#44586c" stroke-width="1.0" stroke-dasharray="1.8,1.2" opacity="0.9"/>
<ellipse cx="189.8" cy="519.9" rx="6.5" ry="3.8" fill="none" stroke="#44586c" stroke-width="1.0" stroke-dasharray="1.8,1.2" opacity="0.9"/>
<ellipse cx="56.5" cy="525.3" rx="6.5" ry="3.8" fill="none" stroke="#44586c" stroke-width="1.0" stroke-dasharray="1.8,1.2" opacity="0.9"/>
<ellipse cx="158.3" cy="538.8" rx="6.5" ry="3.8" fill="none" stroke="#44586c" stroke-width="1.0" stroke-dasharray="1.8,1.2" opacity="0.9"/>
<ellipse cx="72.2" cy="513.6" rx="6.5" ry="3.8" fill="none" stroke="#44586c" stroke-width="1.0" stroke-dasharray="1.8,1.2" opacity="0.9"/>
<ellipse cx="176.6" cy="532.2" rx="6.5" ry="3.8" fill="none" stroke="#44586c" stroke-width="1.0" stroke-dasharray="1.8,1.2" opacity="0.9"/>
<ellipse cx="202.8" cy="535.3" rx="6.5" ry="3.8" fill="none" stroke="#44586c" stroke-width="1.0" stroke-dasharray="1.8,1.2" opacity="0.9"/>
<ellipse cx="120.3" cy="520.5" rx="6.5" ry="3.8" fill="none" stroke="#44586c" stroke-width="1.0" stroke-dasharray="1.8,1.2" opacity="0.9"/>
<ellipse cx="223.2" cy="523.9" rx="6.5" ry="3.8" fill="none" stroke="#44586c" stroke-width="1.0" stroke-dasharray="1.8,1.2" opacity="0.9"/>
<ellipse cx="87.5" cy="513.5" rx="6.5" ry="3.8" fill="none" stroke="#44586c" stroke-width="1.0" stroke-dasharray="1.8,1.2" opacity="0.9"/>
<ellipse cx="144.3" cy="530.2" rx="6.5" ry="3.8" fill="none" stroke="#44586c" stroke-width="1.0" stroke-dasharray="1.8,1.2" opacity="0.9"/>
<ellipse cx="99.3" cy="524.9" rx="6.5" ry="3.8" fill="none" stroke="#44586c" stroke-width="1.0" stroke-dasharray="1.8,1.2" opacity="0.9"/>
<ellipse cx="149.1" cy="535.4" rx="6.5" ry="3.8" fill="none" stroke="#44586c" stroke-width="1.0" stroke-dasharray="1.8,1.2" opacity="0.9"/>
<ellipse cx="196.0" cy="528.5" rx="6.5" ry="3.8" fill="none" stroke="#44586c" stroke-width="1.0" stroke-dasharray="1.8,1.2" opacity="0.9"/>
<ellipse cx="49.0" cy="532.4" rx="6.5" ry="3.8" fill="none" stroke="#44586c" stroke-width="1.0" stroke-dasharray="1.8,1.2" opacity="0.9"/>
<ellipse cx="54.0" cy="524.2" rx="6.5" ry="3.8" fill="none" stroke="#44586c" stroke-width="1.0" stroke-dasharray="1.8,1.2" opacity="0.9"/>
<ellipse cx="52.2" cy="526.0" rx="6.5" ry="3.8" fill="none" stroke="#44586c" stroke-width="1.0" stroke-dasharray="1.8,1.2" opacity="0.9"/>
<ellipse cx="78.9" cy="528.8" rx="6.5" ry="3.8" fill="none" stroke="#44586c" stroke-width="1.0" stroke-dasharray="1.8,1.2" opacity="0.9"/>
<ellipse cx="225.2" cy="525.7" rx="6.5" ry="3.8" fill="none" stroke="#44586c" stroke-width="1.0" stroke-dasharray="1.8,1.2" opacity="0.9"/>
<ellipse cx="173.8" cy="512.4" rx="6.5" ry="3.8" fill="none" stroke="#44586c" stroke-width="1.0" stroke-dasharray="1.8,1.2" opacity="0.9"/>
<ellipse cx="110.8" cy="535.1" rx="6.5" ry="3.8" fill="none" stroke="#44586c" stroke-width="1.0" stroke-dasharray="1.8,1.2" opacity="0.9"/>
<ellipse cx="122.5" cy="532.4" rx="6.5" ry="3.8" fill="none" stroke="#44586c" stroke-width="1.0" stroke-dasharray="1.8,1.2" opacity="0.9"/>
<ellipse cx="136.9" cy="513.6" rx="6.5" ry="3.8" fill="none" stroke="#44586c" stroke-width="1.0" stroke-dasharray="1.8,1.2" opacity="0.9"/>
<ellipse cx="165.6" cy="515.9" rx="6.5" ry="3.8" fill="none" stroke="#44586c" stroke-width="1.0" stroke-dasharray="1.8,1.2" opacity="0.9"/>
<ellipse cx="215.2" cy="521.4" rx="6.5" ry="3.8" fill="none" stroke="#44586c" stroke-width="1.0" stroke-dasharray="1.8,1.2" opacity="0.9"/>
<ellipse cx="178.3" cy="526.0" rx="6.5" ry="3.8" fill="none" stroke="#44586c" stroke-width="1.0" stroke-dasharray="1.8,1.2" opacity="0.9"/>
<ellipse cx="187.2" cy="518.8" rx="6.5" ry="3.8" fill="none" stroke="#44586c" stroke-width="1.0" stroke-dasharray="1.8,1.2" opacity="0.9"/>
<ellipse cx="192.3" cy="524.5" rx="6.5" ry="3.8" fill="none" stroke="#44586c" stroke-width="1.0" stroke-dasharray="1.8,1.2" opacity="0.9"/>
<ellipse cx="199.1" cy="532.8" rx="6.5" ry="3.8" fill="none" stroke="#44586c" stroke-width="1.0" stroke-dasharray="1.8,1.2" opacity="0.9"/>
<ellipse cx="139.9" cy="515.6" rx="6.5" ry="3.8" fill="none" stroke="#44586c" stroke-width="1.0" stroke-dasharray="1.8,1.2" opacity="0.9"/>
<ellipse cx="179.7" cy="532.0" rx="6.5" ry="3.8" fill="none" stroke="#44586c" stroke-width="1.0" stroke-dasharray="1.8,1.2" opacity="0.9"/>
<ellipse cx="211.7" cy="522.3" rx="6.5" ry="3.8" fill="none" stroke="#44586c" stroke-width="1.0" stroke-dasharray="1.8,1.2" opacity="0.9"/>
<ellipse cx="168.1" cy="532.9" rx="6.5" ry="3.8" fill="none" stroke="#44586c" stroke-width="1.0" stroke-dasharray="1.8,1.2" opacity="0.9"/>
<ellipse cx="156.1" cy="529.8" rx="6.5" ry="3.8" fill="none" stroke="#44586c" stroke-width="1.0" stroke-dasharray="1.8,1.2" opacity="0.9"/>
<text x="63" y="461.3" font-family='"Liberation Sans", sans-serif' font-size="12.9" font-weight="bold" fill="#1a1a1a" text-anchor="start">COS</text>
<text x="95.2" y="449.5" font-family='"Liberation Sans", sans-serif' font-size="13.2" font-weight="bold" fill="#111" text-anchor="start"><tspan dy="0.0">H</tspan><tspan font-size="9.2" dy="3.3">2</tspan><tspan dy="-3.3">O</tspan></text>
<line x1="79.4" y1="467.7" x2="83.8" y2="476.5" stroke="#777" stroke-width="0.9"/>
<line x1="81.8" y1="466.5" x2="86.2" y2="475.3" stroke="#777" stroke-width="0.9"/>
<line x1="83.8" y1="476.5" x2="87.8" y2="484.6" stroke="#777" stroke-width="0.9"/>
<line x1="86.2" y1="475.3" x2="90.2" y2="483.4" stroke="#777" stroke-width="0.9"/>
<circle cx="80.6" cy="467.1" r="5.2" fill="url(#gR)"/>
<circle cx="85.0" cy="475.9" r="4.8" fill="url(#gC)"/>
<circle cx="89.0" cy="484.0" r="5.2" fill="url(#gY)"/>
<line x1="104.6" y1="462.0" x2="109.7" y2="469.8" stroke="#777" stroke-width="0.9"/>
<line x1="109.7" y1="469.8" x2="113.8" y2="477.6" stroke="#777" stroke-width="0.9"/>
<circle cx="104.6" cy="462.0" r="4.8" fill="url(#gH)"/>
<circle cx="109.7" cy="469.8" r="5.2" fill="url(#gR)"/>
<circle cx="113.8" cy="477.6" r="4.8" fill="url(#gH)"/>
<line x1="116" y1="485" x2="124" y2="489" stroke="#111" stroke-width="2.2"/>
<text transform="translate(20.1,519.3) rotate(-15.2)" font-family='"Liberation Sans", sans-serif' font-size="13.3" font-weight="bold" font-style="normal" fill="#2c5aa8">adsorption</text>
<line x1="92.5" y1="495" x2="90" y2="505" stroke="#2c5aa8" stroke-width="2.2"/>
<path id="adsp" d="M99,493 Q122,496 170,524" fill="none"/>
<text font-family='"Liberation Sans", sans-serif' font-size="13.2" font-weight="bold" fill="#111"><textPath href="#adsp">adsorption</textPath></text>
<path d="M100,500 q3,3 1,7" fill="none" stroke="#2c5aa8" stroke-width="2"/>
<path d="M104,512 l-6,7" stroke="#2c5aa8" stroke-width="2"/><path d="M94,521 l5,-1 l-2,-5 z" fill="#2c5aa8"/>
<path d="M120,509 q2,5 -3,9" fill="none" stroke="#111" stroke-width="1.8"/><path d="M114,520 l5,-1 l-2,-4 z" fill="#111"/>
<text x="107.6" y="529" font-family='"Liberation Sans", sans-serif' font-size="13.5" font-weight="bold" fill="#1a1a1a" text-anchor="start">Alkaline site</text>
<text x="29.5" y="542.2" font-family='"Liberation Sans", sans-serif' font-size="13.6" font-weight="bold" fill="#1a1a1a" text-anchor="start">Metal oxide</text>
<path d="M160,532 q8,8 16,0" fill="none" stroke="#222" stroke-width="1.5"/>
<path d="M96,538 q6,-10 14,-4" fill="none" stroke="#2c5aa8" stroke-width="2"/>
<text x="87.8" y="565.8" font-family='"Liberation Sans", sans-serif' font-size="13.2" font-weight="bold" fill="#1858b8" text-anchor="start"><tspan dy="0.0">Al</tspan><tspan font-size="9.2" dy="3.3">2</tspan><tspan dy="-3.3">O</tspan><tspan font-size="9.2" dy="3.3">3</tspan><tspan dy="-3.3">–based</tspan></text>
<line x1="157.8" y1="486.5" x2="163.2" y2="498.1" stroke="#777" stroke-width="0.9"/>
<line x1="160.2" y1="485.5" x2="165.6" y2="497.1" stroke="#777" stroke-width="0.9"/>
<line x1="163.2" y1="498.1" x2="167.8" y2="509.5" stroke="#777" stroke-width="0.9"/>
<line x1="165.6" y1="497.1" x2="170.2" y2="508.5" stroke="#777" stroke-width="0.9"/>
<circle cx="159.0" cy="486.0" r="3.6" fill="url(#gR)"/>
<circle cx="164.4" cy="497.6" r="3.6" fill="url(#gC)"/>
<circle cx="169.0" cy="509.0" r="3.8" fill="url(#gY)"/>
<line x1="172" y1="506" x2="185" y2="490" stroke="#111" stroke-width="2" stroke-dasharray="2,1.6"/>
<line x1="186.0" y1="488.0" x2="197.0" y2="489.0" stroke="#777" stroke-width="0.9"/>
<line x1="197.0" y1="489.0" x2="200.0" y2="496.0" stroke="#777" stroke-width="0.9"/>
<circle cx="186.0" cy="488.0" r="3.4" fill="url(#gH)"/>
<circle cx="197.0" cy="489.0" r="3.8" fill="url(#gR)"/>
<circle cx="200.0" cy="497.0" r="3.4" fill="url(#gH)"/>
<line x1="197" y1="501" x2="195" y2="521" stroke="#111" stroke-width="2" stroke-dasharray="2,1.6"/>
<path d="M188,521 q8,6 14,0" fill="none" stroke="#222" stroke-width="1.4"/>
<circle cx="283.0" cy="498.0" r="3" fill="url(#gC)"/>
<text x="283" y="500" font-family='"Liberation Sans", sans-serif' font-size="4.5" font-weight="bold" fill="#222" text-anchor="middle">R</text>
<line x1="283.0" y1="498.0" x2="288.6" y2="506.2" stroke="#777" stroke-width="0.9"/>
<line x1="288.6" y1="506.2" x2="299.0" y2="506.0" stroke="#777" stroke-width="0.9"/>
<circle cx="288.6" cy="506.2" r="3.5" fill="url(#gR)"/>
<circle cx="299.0" cy="506.0" r="3.3" fill="url(#gH)"/>
<text x="341.3" y="473.3" font-family='"Liberation Sans", sans-serif' font-size="12.5" font-weight="bold" fill="#111" text-anchor="start"><tspan dy="0.0">CO</tspan><tspan font-size="8.8" dy="3.1">2</tspan></text>
<line x1="345.4" y1="482.8" x2="367.0" y2="482.8" stroke="#888" stroke-width="0.9"/>
<line x1="345.4" y1="480.2" x2="367.0" y2="480.2" stroke="#888" stroke-width="0.9"/>
<circle cx="345.4" cy="481.5" r="3.6" fill="url(#gR)"/>
<circle cx="356.0" cy="481.5" r="3.6" fill="url(#gC)"/>
<circle cx="367.0" cy="481.5" r="3.6" fill="url(#gR)"/>
<text x="373.2" y="459" font-family='"Liberation Sans", sans-serif' font-size="12.5" font-weight="bold" fill="#111" text-anchor="start"><tspan dy="0.0">H</tspan><tspan font-size="8.8" dy="3.1">2</tspan><tspan dy="-3.1">S</tspan></text>
<line x1="391.6" y1="466.4" x2="382.2" y2="473.3" stroke="#888" stroke-width="0.9"/>
<line x1="391.6" y1="466.4" x2="397.7" y2="476.6" stroke="#888" stroke-width="0.9"/>
<circle cx="391.6" cy="466.4" r="3.8" fill="url(#gY)"/>
<circle cx="382.2" cy="473.3" r="3.2" fill="url(#gH)"/>
<circle cx="397.7" cy="476.6" r="3.2" fill="url(#gH)"/>
<g transform="translate(404,467.5) rotate(-10)"><text x="0" y="0" font-family='"Liberation Sans", sans-serif' font-size="14.5" fill="#222" stroke="#222" stroke-width="0.3">[O]</text></g>
<line x1="404.5" y1="473.5" x2="422.68" y2="468.25" stroke="#222" stroke-width="1.3"/>
<path d="M427,467 L423.34,470.55 L422.01,465.94 Z" fill="#222"/>
<line x1="443.4" y1="453.8" x2="449.7" y2="434" stroke="#c8741a" stroke-width="2"/>
<line x1="443.4" y1="453.8" x2="432.5" y2="448.6" stroke="#c8741a" stroke-width="2"/>
<line x1="443.4" y1="453.8" x2="435.6" y2="464" stroke="#c8741a" stroke-width="2"/>
<line x1="443.4" y1="453.8" x2="465.1" y2="462.4" stroke="#c8741a" stroke-width="2"/>
<circle cx="449.7" cy="434.0" r="5" fill="url(#gR)"/>
<circle cx="432.5" cy="448.6" r="5" fill="url(#gR)"/>
<circle cx="435.6" cy="464.0" r="5" fill="url(#gR)"/>
<circle cx="465.1" cy="462.4" r="5" fill="url(#gR)"/>
<circle cx="443.4" cy="453.8" r="4.2" fill="url(#gY)"/>
<text x="458" y="454.6" font-family='"Liberation Sans", sans-serif' font-size="12.8" font-weight="bold" fill="#111"><tspan dy="0.0">SO</tspan><tspan dy="3.2" font-size="10.0">4</tspan><tspan dy="-8.1" font-size="10.0">2</tspan></text>
<line x1="446.1" y1="471.6" x2="454.9" y2="479.2" stroke="#777" stroke-width="0.9"/>
<line x1="447.7" y1="469.6" x2="456.5" y2="477.2" stroke="#777" stroke-width="0.9"/>
<line x1="454.9" y1="479.2" x2="465.5" y2="488.0" stroke="#777" stroke-width="0.9"/>
<line x1="456.5" y1="477.2" x2="467.1" y2="486.0" stroke="#777" stroke-width="0.9"/>
<circle cx="446.9" cy="470.6" r="3.4" fill="url(#gR)"/>
<circle cx="455.7" cy="478.2" r="3.4" fill="url(#gC)"/>
<circle cx="466.3" cy="487.0" r="3.6" fill="url(#gY)"/>
<text x="396" y="496" font-family='"Liberation Sans", sans-serif' font-size="13.3" font-weight="bold" fill="#1a1a1a" text-anchor="start">adsorption</text>
<path d="M432.5,473.5 Q410,482 407,503" fill="none" stroke="#f0b010" stroke-width="2.4" stroke-dasharray="5,3.5"/>
<path d="M402,501 l5,7 l4,-7 z" fill="#f0b010"/>
<path d="M467.5,470 Q490,478 488,500 L485,522" fill="none" stroke="#f0b010" stroke-width="2.4" stroke-dasharray="5,3.5"/>
<path d="M480,521 l4.5,7 l4,-7 z" fill="#f0b010"/>
<path d="M451,481.7 L437,508" fill="none" stroke="#2050b0" stroke-width="2" stroke-dasharray="4,3"/>
<path d="M432,511 l4,-6 l4,6 z" fill="#2050b0"/>
<text x="382.3" y="521.5" font-family='"Liberation Sans", sans-serif' font-size="13.6" font-weight="bold" fill="#f5b400" text-anchor="start">Sulfate deposit</text>
<text transform="translate(334,506) rotate(-12.5)" font-family='"Liberation Sans", sans-serif' font-size="13.8" font-weight="bold" font-style="normal" fill="#6aaa3a">product</text>
<path d="M389.6,496 L389.6,478" fill="none" stroke="#6aaa3a" stroke-width="2" stroke-dasharray="4,3"/>
<path d="M386,480 l3.6,-6 l3.6,6 z" fill="#6aaa3a"/>
<path d="M367,518 L369,506 M372,500 Q378,495 386,497" fill="none" stroke="#6aaa3a" stroke-width="2" stroke-dasharray="4,3"/>
<text x="397.7" y="565.1" font-family='"Liberation Sans", sans-serif' font-size="13" font-weight="bold" fill="#3a4242" text-anchor="start"><tspan dy="0.0">Al</tspan><tspan font-size="9.1" dy="3.2">2</tspan><tspan dy="-3.2">O</tspan><tspan font-size="9.1" dy="3.2">3</tspan><tspan dy="-3.2">–based</tspan></text>
</svg>
</body></html>
